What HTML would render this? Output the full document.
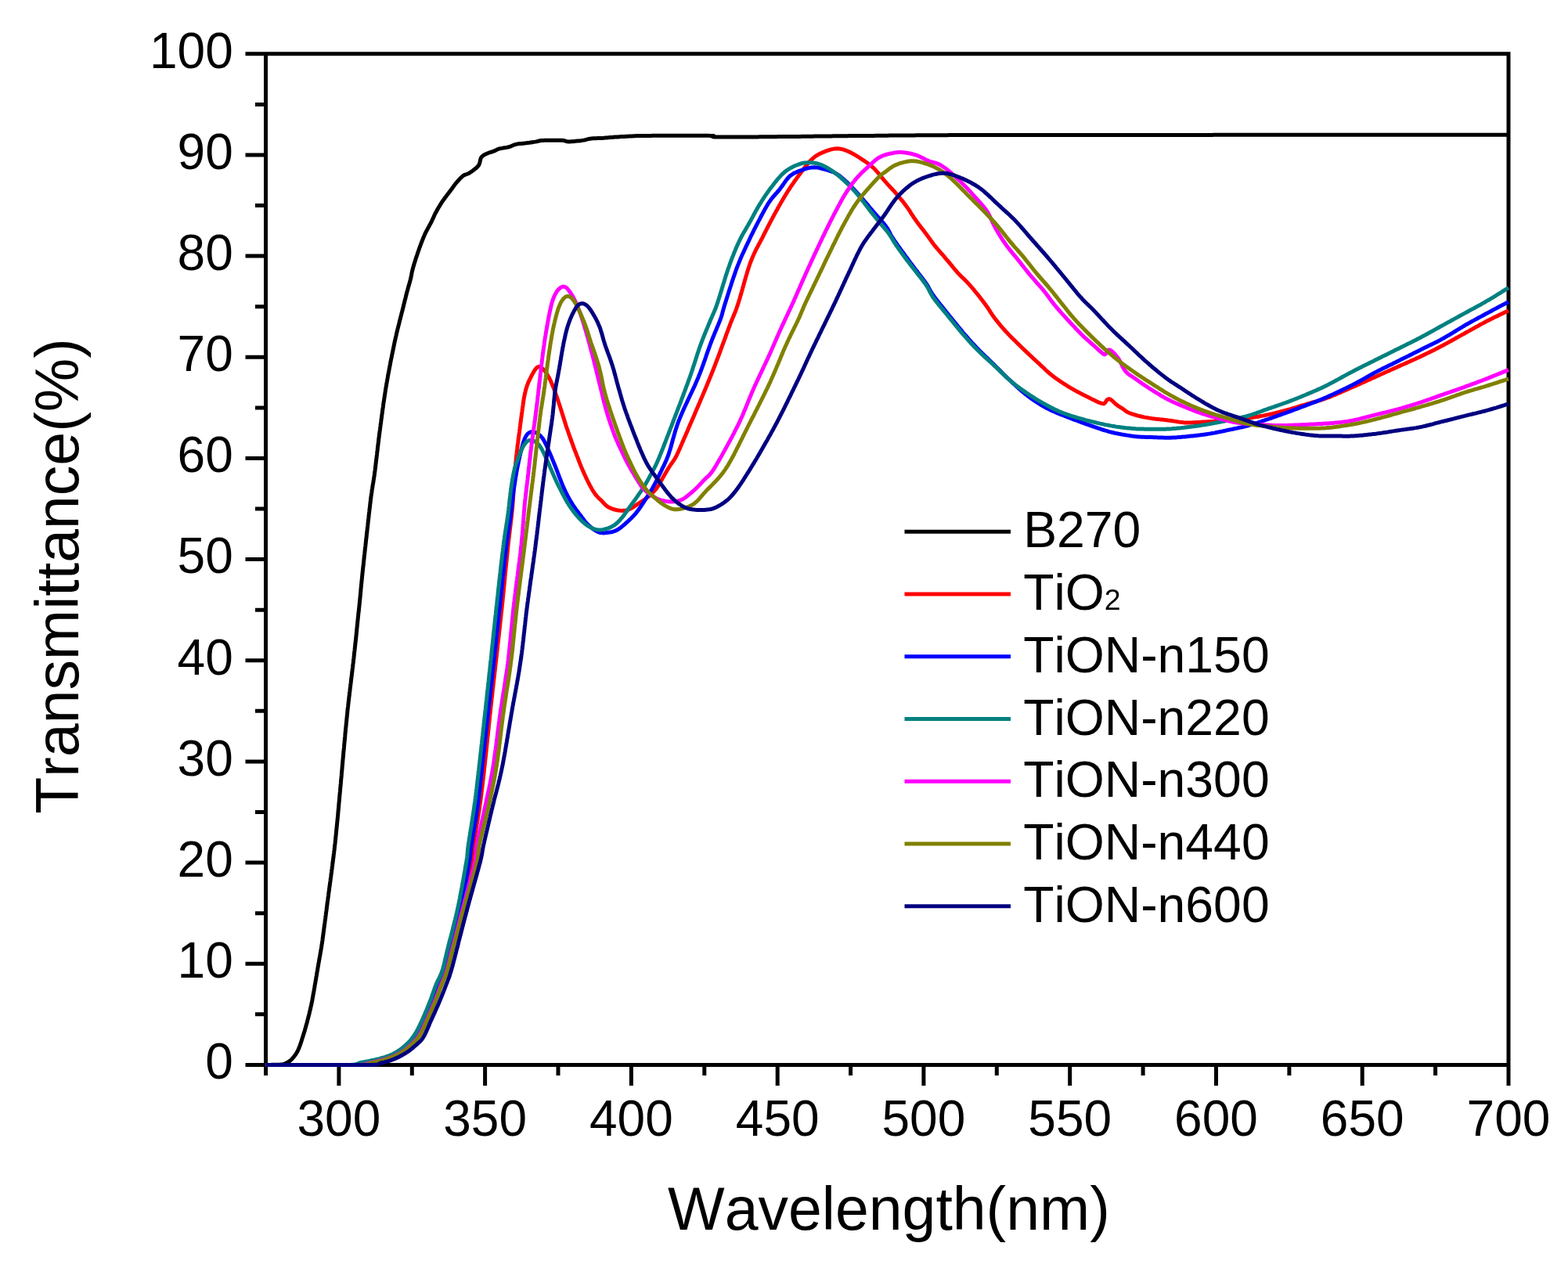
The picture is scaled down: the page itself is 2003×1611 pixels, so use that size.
<!DOCTYPE html><html><head><meta charset="utf-8"><style>html,body{margin:0;padding:0;background:#fff;}svg{display:block;}text{font-family:"Liberation Sans",Arial,sans-serif;fill:#000;font-kerning:none;}</style></head><body>
<svg width="2003" height="1611" viewBox="0 0 2003 1611">
<rect width="2003" height="1611" fill="#fff"/>
<path d="M339.5 66.3 V1373.9 M313.5 68.8 H1929.5 M1927.0 66.3 V1386.9 M313.5 1360.4 H1927.0 M313.5 1231.2 H339.5 M313.5 1102.1 H339.5 M313.5 972.9 H339.5 M313.5 843.8 H339.5 M313.5 714.6 H339.5 M313.5 585.4 H339.5 M313.5 456.3 H339.5 M313.5 327.1 H339.5 M313.5 198.0 H339.5 M326.0 1295.8 H339.5 M326.0 1166.7 H339.5 M326.0 1037.5 H339.5 M326.0 908.3 H339.5 M326.0 779.2 H339.5 M326.0 650.0 H339.5 M326.0 520.9 H339.5 M326.0 391.7 H339.5 M326.0 262.5 H339.5 M326.0 133.4 H339.5 M432.9 1360.4 V1386.9 M619.6 1360.4 V1386.9 M806.4 1360.4 V1386.9 M993.2 1360.4 V1386.9 M1179.9 1360.4 V1386.9 M1366.7 1360.4 V1386.9 M1553.5 1360.4 V1386.9 M1740.2 1360.4 V1386.9 M526.3 1360.4 V1373.9 M713.0 1360.4 V1373.9 M899.8 1360.4 V1373.9 M1086.6 1360.4 V1373.9 M1273.3 1360.4 V1373.9 M1460.1 1360.4 V1373.9 M1646.9 1360.4 V1373.9 M1833.6 1360.4 V1373.9" stroke="#000" stroke-width="5.0" fill="none"/>
<g fill="none" stroke-width="5.0" stroke-linejoin="round" stroke-linecap="butt">
<path d="M339.5 1360.4 L341.8 1360.4 L343.6 1360.4 L345.5 1360.4 L347.5 1360.3 L349.5 1360.3 L351.5 1360.3 L353.5 1360.3 L355.5 1360.2 L357.5 1360.1 L359.5 1359.9 L361.4 1359.6 L363.3 1359.1 L365.2 1358.4 L366.9 1357.5 L368.7 1356.5 L370.3 1355.4 L371.8 1354.1 L373.2 1352.7 L374.5 1351.2 L375.8 1349.6 L377.0 1348.0 L378.1 1346.4 L379.2 1344.7 L380.1 1342.9 L381.0 1341.1 L381.8 1339.3 L382.5 1337.4 L383.2 1335.6 L383.9 1333.7 L384.5 1331.8 L385.1 1329.9 L385.7 1328.0 L386.3 1326.1 L386.9 1324.2 L387.5 1322.3 L388.1 1320.3 L388.7 1318.4 L389.3 1316.5 L389.8 1314.6 L390.4 1312.7 L390.9 1310.7 L391.4 1308.8 L392.0 1306.9 L392.5 1305.0 L393.0 1303.0 L393.5 1301.1 L394.0 1299.1 L394.5 1297.2 L395.0 1295.3 L395.4 1293.3 L395.9 1291.4 L396.4 1289.4 L396.8 1287.5 L397.2 1285.5 L397.7 1283.6 L398.1 1281.6 L398.5 1279.7 L398.9 1277.7 L399.2 1275.7 L399.6 1273.8 L399.9 1271.8 L400.3 1269.8 L400.6 1267.9 L401.0 1265.9 L401.3 1263.9 L401.7 1261.9 L402.0 1260.0 L402.3 1258.0 L402.7 1256.0 L403.0 1254.1 L403.4 1252.1 L403.7 1250.1 L404.0 1248.1 L404.4 1246.2 L404.7 1244.2 L405.0 1242.2 L405.4 1240.3 L405.7 1238.3 L406.0 1236.3 L406.4 1234.3 L406.7 1232.4 L407.0 1230.4 L407.4 1228.4 L407.7 1226.5 L408.1 1224.5 L408.4 1222.5 L408.8 1220.5 L409.1 1218.6 L409.5 1216.6 L409.8 1214.6 L410.1 1212.7 L410.5 1210.7 L410.8 1208.7 L411.1 1206.7 L411.4 1204.8 L411.7 1202.8 L412.0 1200.8 L412.2 1198.8 L412.5 1196.8 L412.8 1194.9 L413.0 1192.9 L413.3 1190.9 L413.6 1188.9 L413.8 1186.9 L414.1 1184.9 L414.3 1183.0 L414.6 1181.0 L414.9 1179.0 L415.1 1177.0 L415.4 1175.0 L415.7 1173.1 L415.9 1171.1 L416.2 1169.1 L416.4 1167.1 L416.7 1165.1 L417.0 1163.1 L417.2 1161.2 L417.5 1159.2 L417.7 1157.2 L418.0 1155.2 L418.2 1153.2 L418.5 1151.2 L418.8 1149.3 L419.0 1147.3 L419.3 1145.3 L419.6 1143.3 L419.8 1141.3 L420.1 1139.3 L420.4 1137.4 L420.6 1135.4 L420.9 1133.4 L421.2 1131.4 L421.4 1129.4 L421.7 1127.5 L422.0 1125.5 L422.2 1123.5 L422.5 1121.5 L422.8 1119.5 L423.0 1117.5 L423.3 1115.6 L423.6 1113.6 L423.8 1111.6 L424.1 1109.6 L424.3 1107.6 L424.6 1105.6 L424.8 1103.7 L425.1 1101.7 L425.3 1099.7 L425.6 1097.7 L425.9 1095.7 L426.1 1093.7 L426.3 1091.8 L426.6 1089.8 L426.8 1087.8 L427.1 1085.8 L427.3 1083.8 L427.5 1081.8 L427.7 1079.8 L428.0 1077.8 L428.2 1075.9 L428.4 1073.9 L428.6 1071.9 L428.8 1069.9 L429.0 1067.9 L429.2 1065.9 L429.4 1063.9 L429.6 1061.9 L429.8 1059.9 L430.0 1058.0 L430.2 1056.0 L430.4 1054.0 L430.6 1052.0 L430.8 1050.0 L431.0 1048.0 L431.2 1046.0 L431.4 1044.0 L431.6 1042.0 L431.8 1040.0 L431.9 1038.0 L432.1 1036.1 L432.3 1034.1 L432.5 1032.1 L432.7 1030.1 L432.8 1028.1 L433.0 1026.1 L433.2 1024.1 L433.4 1022.1 L433.6 1020.1 L433.7 1018.1 L433.9 1016.1 L434.1 1014.1 L434.3 1012.1 L434.5 1010.2 L434.6 1008.2 L434.8 1006.2 L435.0 1004.2 L435.2 1002.2 L435.4 1000.2 L435.5 998.2 L435.7 996.2 L435.9 994.2 L436.1 992.2 L436.3 990.2 L436.4 988.2 L436.6 986.3 L436.8 984.3 L437.0 982.3 L437.1 980.3 L437.3 978.3 L437.5 976.3 L437.7 974.3 L437.8 972.3 L438.0 970.3 L438.2 968.3 L438.4 966.3 L438.6 964.3 L438.7 962.3 L438.9 960.4 L439.1 958.4 L439.3 956.4 L439.5 954.4 L439.6 952.4 L439.8 950.4 L440.0 948.4 L440.2 946.4 L440.4 944.4 L440.6 942.4 L440.8 940.4 L440.9 938.4 L441.1 936.5 L441.3 934.5 L441.5 932.5 L441.7 930.5 L441.9 928.5 L442.1 926.5 L442.3 924.5 L442.5 922.5 L442.7 920.5 L442.9 918.5 L443.1 916.6 L443.3 914.6 L443.5 912.6 L443.7 910.6 L443.9 908.6 L444.1 906.6 L444.3 904.6 L444.6 902.6 L444.8 900.6 L445.0 898.7 L445.2 896.7 L445.5 894.7 L445.7 892.7 L445.9 890.7 L446.2 888.7 L446.4 886.7 L446.6 884.8 L446.9 882.8 L447.1 880.8 L447.3 878.8 L447.6 876.8 L447.8 874.8 L448.1 872.8 L448.3 870.9 L448.5 868.9 L448.8 866.9 L449.0 864.9 L449.3 862.9 L449.5 860.9 L449.8 858.9 L450.0 857.0 L450.2 855.0 L450.5 853.0 L450.7 851.0 L450.9 849.0 L451.2 847.0 L451.4 845.0 L451.6 843.1 L451.9 841.1 L452.1 839.1 L452.3 837.1 L452.5 835.1 L452.7 833.1 L453.0 831.1 L453.2 829.1 L453.4 827.1 L453.6 825.2 L453.8 823.2 L454.0 821.2 L454.3 819.2 L454.5 817.2 L454.7 815.2 L454.9 813.2 L455.1 811.2 L455.3 809.2 L455.5 807.3 L455.7 805.3 L455.9 803.3 L456.1 801.3 L456.3 799.3 L456.5 797.3 L456.7 795.3 L456.9 793.3 L457.1 791.3 L457.3 789.4 L457.5 787.4 L457.7 785.4 L457.9 783.4 L458.2 781.4 L458.4 779.4 L458.6 777.4 L458.8 775.4 L459.0 773.4 L459.2 771.4 L459.4 769.5 L459.6 767.5 L459.8 765.5 L460.0 763.5 L460.2 761.5 L460.4 759.5 L460.6 757.5 L460.8 755.5 L460.9 753.5 L461.1 751.5 L461.3 749.6 L461.5 747.6 L461.7 745.6 L461.9 743.6 L462.1 741.6 L462.3 739.6 L462.5 737.6 L462.7 735.6 L462.9 733.6 L463.1 731.6 L463.3 729.7 L463.5 727.7 L463.7 725.7 L464.0 723.7 L464.2 721.7 L464.4 719.7 L464.6 717.7 L464.8 715.7 L465.0 713.7 L465.2 711.8 L465.4 709.8 L465.7 707.8 L465.9 705.8 L466.1 703.8 L466.3 701.8 L466.5 699.8 L466.8 697.8 L467.0 695.9 L467.2 693.9 L467.4 691.9 L467.6 689.9 L467.9 687.9 L468.1 685.9 L468.3 683.9 L468.5 681.9 L468.8 680.0 L469.0 678.0 L469.2 676.0 L469.4 674.0 L469.7 672.0 L469.9 670.0 L470.1 668.0 L470.3 666.0 L470.5 664.0 L470.8 662.1 L471.0 660.1 L471.2 658.1 L471.4 656.1 L471.7 654.1 L471.9 652.1 L472.1 650.1 L472.4 648.2 L472.6 646.2 L472.8 644.2 L473.1 642.2 L473.3 640.2 L473.5 638.2 L473.8 636.2 L474.0 634.3 L474.3 632.3 L474.6 630.3 L474.9 628.3 L475.1 626.3 L475.5 624.4 L475.8 622.4 L476.1 620.4 L476.4 618.4 L476.8 616.5 L477.1 614.5 L477.4 612.5 L477.7 610.5 L478.0 608.6 L478.3 606.6 L478.5 604.6 L478.8 602.6 L479.1 600.6 L479.3 598.6 L479.6 596.7 L479.8 594.7 L480.0 592.7 L480.3 590.7 L480.5 588.7 L480.8 586.7 L481.0 584.7 L481.2 582.8 L481.5 580.8 L481.7 578.8 L481.9 576.8 L482.2 574.8 L482.4 572.8 L482.6 570.8 L482.9 568.9 L483.1 566.9 L483.4 564.9 L483.6 562.9 L483.8 560.9 L484.1 558.9 L484.3 556.9 L484.6 555.0 L484.8 553.0 L485.1 551.0 L485.4 549.0 L485.6 547.0 L485.9 545.0 L486.1 543.1 L486.4 541.1 L486.7 539.1 L486.9 537.1 L487.2 535.1 L487.5 533.2 L487.7 531.2 L488.0 529.2 L488.3 527.2 L488.5 525.2 L488.8 523.2 L489.1 521.3 L489.4 519.3 L489.6 517.3 L489.9 515.3 L490.2 513.3 L490.5 511.4 L490.8 509.4 L491.1 507.4 L491.4 505.4 L491.7 503.5 L492.0 501.5 L492.3 499.5 L492.6 497.5 L492.9 495.6 L493.3 493.6 L493.6 491.6 L493.9 489.6 L494.3 487.7 L494.6 485.7 L495.0 483.7 L495.3 481.8 L495.7 479.8 L496.0 477.8 L496.4 475.9 L496.8 473.9 L497.1 471.9 L497.5 470.0 L497.9 468.0 L498.3 466.0 L498.6 464.1 L499.0 462.1 L499.4 460.1 L499.8 458.2 L500.2 456.2 L500.6 454.3 L501.0 452.3 L501.4 450.3 L501.8 448.4 L502.2 446.4 L502.6 444.5 L503.0 442.5 L503.4 440.5 L503.8 438.6 L504.2 436.6 L504.7 434.7 L505.1 432.7 L505.5 430.8 L506.0 428.8 L506.4 426.9 L506.9 424.9 L507.3 423.0 L507.8 421.0 L508.3 419.1 L508.8 417.2 L509.3 415.2 L509.8 413.3 L510.2 411.3 L510.7 409.4 L511.2 407.5 L511.7 405.5 L512.2 403.6 L512.7 401.7 L513.2 399.7 L513.7 397.8 L514.2 395.8 L514.7 393.9 L515.2 391.9 L515.6 390.0 L516.1 388.1 L516.6 386.1 L517.1 384.2 L517.6 382.2 L518.1 380.3 L518.5 378.4 L519.0 376.4 L519.5 374.5 L520.0 372.6 L520.6 370.6 L521.1 368.7 L521.6 366.8 L522.2 364.8 L522.7 362.9 L523.3 361.0 L523.8 359.1 L524.3 357.1 L524.8 355.2 L525.2 353.2 L525.6 351.3 L525.9 349.3 L526.3 347.4 L526.8 345.4 L527.3 343.5 L527.8 341.5 L528.4 339.6 L528.9 337.7 L529.5 335.8 L530.1 333.9 L530.7 332.0 L531.3 330.1 L531.9 328.2 L532.6 326.3 L533.2 324.4 L533.8 322.5 L534.5 320.6 L535.2 318.7 L535.8 316.8 L536.5 314.9 L537.2 313.1 L537.9 311.2 L538.6 309.3 L539.3 307.5 L540.1 305.6 L540.8 303.7 L541.6 301.9 L542.4 300.1 L543.2 298.2 L544.1 296.5 L545.0 294.7 L546.0 292.9 L546.9 291.1 L547.9 289.4 L548.8 287.6 L549.8 285.9 L550.7 284.1 L551.6 282.3 L552.4 280.5 L553.3 278.7 L554.1 276.9 L554.9 275.0 L555.8 273.2 L556.7 271.5 L557.7 269.7 L558.6 268.0 L559.6 266.2 L560.6 264.5 L561.7 262.8 L562.7 261.1 L563.8 259.4 L564.9 257.7 L566.0 256.1 L567.2 254.5 L568.4 252.8 L569.6 251.2 L570.8 249.6 L572.0 248.0 L573.2 246.4 L574.4 244.9 L575.6 243.3 L576.8 241.7 L578.0 240.0 L579.1 238.4 L580.3 236.8 L581.5 235.2 L582.8 233.7 L584.1 232.2 L585.4 230.7 L586.8 229.2 L588.1 227.7 L589.6 226.3 L591.0 225.0 L592.6 223.9 L594.4 223.1 L596.2 222.5 L598.0 221.8 L599.8 220.9 L601.4 219.8 L603.0 218.7 L604.6 217.5 L606.2 216.2 L607.8 215.0 L609.3 213.7 L610.6 212.3 L611.8 210.7 L612.5 208.9 L613.0 207.1 L613.4 205.1 L613.9 203.2 L614.6 201.4 L615.8 199.9 L617.3 198.7 L618.9 197.7 L620.7 196.8 L622.5 196.0 L624.4 195.2 L626.3 194.6 L628.2 194.0 L630.1 193.4 L631.9 192.7 L633.7 191.8 L635.4 190.9 L637.3 190.2 L639.2 189.7 L641.1 189.4 L643.1 189.0 L645.1 188.7 L647.1 188.4 L649.0 188.0 L650.9 187.5 L652.8 186.8 L654.6 186.0 L656.4 185.2 L658.3 184.6 L660.2 184.1 L662.2 183.8 L664.2 183.6 L666.2 183.4 L668.2 183.2 L670.2 183.0 L672.1 182.8 L674.1 182.5 L676.1 182.3 L678.1 182.0 L680.1 181.7 L682.0 181.4 L684.0 181.1 L686.0 180.7 L687.9 180.2 L689.7 179.8 L691.7 179.5 L693.6 179.4 L695.6 179.3 L697.6 179.3 L699.6 179.3 L701.6 179.2 L703.6 179.2 L705.6 179.2 L707.6 179.2 L709.6 179.2 L711.6 179.2 L713.6 179.2 L715.6 179.3 L717.6 179.3 L719.5 179.5 L721.3 179.8 L722.8 180.4 L724.3 180.8 L726.1 181.0 L728.0 181.0 L730.0 180.8 L731.9 180.7 L733.9 180.5 L735.9 180.3 L737.9 180.1 L739.9 179.9 L741.9 179.7 L743.9 179.4 L745.8 179.1 L747.8 178.7 L749.7 178.2 L751.6 177.7 L753.6 177.2 L755.6 177.0 L757.5 176.8 L759.5 176.7 L761.5 176.7 L763.5 176.6 L765.5 176.6 L767.5 176.5 L769.5 176.4 L771.5 176.3 L773.5 176.1 L775.5 176.0 L777.5 175.8 L779.5 175.6 L781.5 175.5 L783.5 175.3 L785.5 175.1 L787.5 175.0 L789.5 174.9 L791.5 174.7 L793.5 174.6 L795.5 174.5 L797.5 174.4 L799.5 174.3 L801.5 174.2 L803.5 174.1 L805.4 174.0 L807.4 173.9 L809.4 173.8 L811.4 173.7 L813.4 173.6 L815.4 173.6 L817.4 173.5 L819.4 173.5 L821.4 173.5 L823.4 173.4 L825.4 173.4 L827.4 173.4 L829.4 173.4 L831.4 173.4 L833.4 173.3 L835.4 173.3 L837.4 173.3 L839.4 173.3 L841.4 173.3 L843.4 173.3 L845.4 173.3 L847.4 173.3 L849.4 173.3 L851.4 173.3 L853.4 173.3 L855.4 173.2 L857.4 173.2 L859.4 173.2 L861.4 173.2 L863.4 173.2 L865.4 173.2 L867.4 173.2 L869.4 173.2 L871.4 173.2 L873.4 173.2 L875.4 173.2 L877.4 173.2 L879.4 173.2 L881.4 173.2 L883.4 173.2 L885.4 173.2 L887.4 173.2 L889.4 173.2 L891.4 173.3 L893.4 173.3 L895.4 173.3 L897.4 173.3 L899.4 173.3 L901.4 173.3 L903.4 173.3 L905.4 173.3 L907.4 173.4 L909.4 173.4 L911.0 173.5 L912.0 173.7 L911.8 174.0 L910.9 174.3 L910.4 174.6 L910.9 174.8 L912.3 174.9 L914.2 175.0 L916.2 175.0 L918.2 175.0 L920.2 175.0 L922.2 175.1 L924.2 175.1 L926.2 175.1 L928.2 175.1 L930.2 175.1 L932.2 175.0 L934.2 175.0 L936.2 175.0 L938.2 175.0 L940.2 175.0 L942.2 175.0 L944.2 175.0 L946.2 175.0 L948.2 175.0 L950.2 175.0 L952.2 175.0 L954.2 174.9 L956.2 174.9 L958.2 174.9 L960.2 174.9 L962.2 174.9 L964.2 174.9 L966.2 174.9 L968.2 174.9 L970.2 174.8 L972.2 174.8 L974.2 174.8 L976.2 174.8 L978.2 174.8 L980.2 174.8 L982.2 174.7 L984.2 174.7 L986.2 174.7 L988.2 174.7 L990.2 174.7 L992.2 174.7 L994.2 174.6 L996.2 174.6 L998.2 174.6 L1000.2 174.6 L1002.2 174.6 L1004.2 174.6 L1006.2 174.5 L1008.2 174.5 L1010.2 174.5 L1012.2 174.5 L1014.2 174.5 L1016.2 174.4 L1018.2 174.4 L1020.2 174.4 L1022.2 174.4 L1024.2 174.3 L1026.2 174.3 L1028.2 174.3 L1030.2 174.3 L1032.2 174.2 L1034.2 174.2 L1036.2 174.2 L1038.2 174.2 L1040.2 174.1 L1042.2 174.1 L1044.2 174.1 L1046.2 174.1 L1048.2 174.0 L1050.2 174.0 L1052.2 174.0 L1054.2 174.0 L1056.2 173.9 L1058.2 173.9 L1060.2 173.9 L1062.2 173.9 L1064.2 173.8 L1066.2 173.8 L1068.2 173.8 L1070.2 173.8 L1072.2 173.8 L1074.2 173.7 L1076.2 173.7 L1078.2 173.7 L1080.2 173.7 L1082.2 173.7 L1084.2 173.6 L1086.2 173.6 L1088.2 173.6 L1090.2 173.6 L1092.2 173.6 L1094.2 173.5 L1096.2 173.5 L1098.2 173.5 L1100.2 173.5 L1102.2 173.5 L1104.2 173.5 L1106.2 173.5 L1108.2 173.4 L1110.2 173.4 L1112.2 173.4 L1114.2 173.4 L1116.2 173.4 L1118.2 173.3 L1120.2 173.3 L1122.2 173.3 L1124.2 173.3 L1126.2 173.2 L1128.2 173.2 L1130.2 173.2 L1132.2 173.2 L1134.2 173.2 L1136.2 173.1 L1138.2 173.1 L1140.2 173.1 L1142.2 173.1 L1144.2 173.1 L1146.2 173.0 L1148.2 173.0 L1150.2 173.0 L1152.2 173.0 L1154.2 173.0 L1156.2 172.9 L1158.2 172.9 L1160.2 172.9 L1162.2 172.9 L1164.2 172.9 L1166.2 172.9 L1168.2 172.9 L1170.2 172.8 L1172.2 172.8 L1174.2 172.8 L1176.2 172.8 L1178.2 172.8 L1180.2 172.8 L1182.2 172.8 L1184.2 172.8 L1186.2 172.8 L1188.2 172.7 L1190.2 172.7 L1192.2 172.7 L1194.2 172.7 L1196.2 172.7 L1198.2 172.7 L1200.2 172.7 L1202.2 172.7 L1204.2 172.7 L1206.2 172.7 L1208.2 172.7 L1210.2 172.7 L1212.2 172.6 L1214.2 172.6 L1216.2 172.6 L1218.2 172.6 L1220.2 172.6 L1222.2 172.6 L1224.2 172.6 L1226.2 172.6 L1228.2 172.6 L1230.2 172.6 L1232.2 172.6 L1234.2 172.6 L1236.2 172.6 L1238.2 172.6 L1240.2 172.6 L1242.2 172.6 L1244.2 172.6 L1246.2 172.6 L1248.2 172.6 L1250.2 172.6 L1252.2 172.5 L1254.2 172.5 L1256.2 172.5 L1258.2 172.5 L1260.2 172.5 L1262.2 172.5 L1264.2 172.5 L1266.2 172.5 L1268.2 172.5 L1270.2 172.5 L1272.2 172.5 L1274.2 172.5 L1276.2 172.5 L1278.2 172.5 L1280.2 172.5 L1282.2 172.5 L1284.2 172.5 L1286.2 172.5 L1288.2 172.5 L1290.2 172.5 L1292.2 172.5 L1294.2 172.5 L1296.2 172.5 L1298.2 172.5 L1300.2 172.5 L1302.2 172.5 L1304.2 172.5 L1306.2 172.5 L1308.2 172.5 L1310.2 172.5 L1312.2 172.5 L1314.2 172.5 L1316.2 172.5 L1318.2 172.5 L1320.2 172.5 L1322.2 172.5 L1324.2 172.5 L1326.2 172.4 L1328.2 172.4 L1330.2 172.4 L1332.2 172.4 L1334.2 172.4 L1336.2 172.4 L1338.2 172.4 L1340.2 172.4 L1342.2 172.4 L1344.2 172.4 L1346.2 172.4 L1348.2 172.4 L1350.2 172.4 L1352.2 172.4 L1354.2 172.4 L1356.2 172.4 L1358.2 172.4 L1360.2 172.4 L1362.2 172.4 L1364.2 172.4 L1366.2 172.4 L1368.2 172.4 L1370.2 172.4 L1372.2 172.4 L1374.2 172.4 L1376.2 172.4 L1378.2 172.4 L1380.2 172.4 L1382.2 172.4 L1384.2 172.4 L1386.2 172.4 L1388.2 172.4 L1390.2 172.4 L1392.2 172.4 L1394.2 172.4 L1396.2 172.4 L1398.2 172.4 L1400.2 172.4 L1402.2 172.4 L1404.2 172.4 L1406.2 172.4 L1408.2 172.4 L1410.2 172.4 L1412.2 172.4 L1414.2 172.4 L1416.2 172.4 L1418.2 172.4 L1420.2 172.4 L1422.2 172.4 L1424.2 172.4 L1426.2 172.4 L1428.2 172.4 L1430.2 172.4 L1432.2 172.4 L1434.2 172.4 L1436.2 172.4 L1438.2 172.4 L1440.2 172.4 L1442.2 172.4 L1444.2 172.4 L1446.2 172.4 L1448.2 172.4 L1450.2 172.4 L1452.2 172.4 L1454.2 172.4 L1456.2 172.4 L1458.2 172.4 L1460.2 172.4 L1462.2 172.4 L1464.2 172.4 L1466.2 172.4 L1468.2 172.4 L1470.2 172.4 L1472.2 172.4 L1474.2 172.4 L1476.2 172.4 L1478.2 172.4 L1480.2 172.4 L1482.2 172.4 L1484.2 172.4 L1486.2 172.4 L1488.2 172.4 L1490.2 172.4 L1492.2 172.4 L1494.2 172.4 L1496.2 172.4 L1498.2 172.4 L1500.2 172.4 L1502.2 172.4 L1504.2 172.4 L1506.2 172.4 L1508.2 172.4 L1510.2 172.4 L1512.2 172.4 L1514.2 172.4 L1516.2 172.4 L1518.2 172.4 L1520.2 172.4 L1522.2 172.4 L1524.2 172.4 L1526.2 172.4 L1528.2 172.4 L1530.2 172.4 L1532.2 172.4 L1534.2 172.4 L1536.2 172.4 L1538.2 172.4 L1540.2 172.4 L1542.2 172.4 L1544.2 172.4 L1546.2 172.4 L1548.2 172.4 L1550.2 172.3 L1552.2 172.3 L1554.2 172.3 L1556.2 172.3 L1558.2 172.3 L1560.2 172.3 L1562.2 172.3 L1564.2 172.3 L1566.2 172.3 L1568.2 172.3 L1570.2 172.3 L1572.2 172.3 L1574.2 172.3 L1576.2 172.3 L1578.2 172.3 L1580.2 172.3 L1582.2 172.3 L1584.2 172.3 L1586.2 172.3 L1588.2 172.3 L1590.2 172.3 L1592.2 172.3 L1594.2 172.3 L1596.2 172.3 L1598.2 172.3 L1600.2 172.3 L1602.2 172.3 L1604.2 172.3 L1606.2 172.3 L1608.2 172.3 L1610.2 172.3 L1612.2 172.3 L1614.2 172.3 L1616.2 172.3 L1618.2 172.3 L1620.2 172.3 L1622.2 172.3 L1624.2 172.3 L1626.2 172.3 L1628.2 172.3 L1630.2 172.3 L1632.2 172.3 L1634.2 172.3 L1636.2 172.3 L1638.2 172.3 L1640.2 172.3 L1642.2 172.3 L1644.2 172.3 L1646.2 172.3 L1648.2 172.3 L1650.2 172.3 L1652.2 172.3 L1654.2 172.3 L1656.2 172.3 L1658.2 172.3 L1660.2 172.3 L1662.2 172.3 L1664.2 172.3 L1666.2 172.3 L1668.2 172.3 L1670.2 172.3 L1672.2 172.3 L1674.2 172.3 L1676.2 172.3 L1678.2 172.3 L1680.2 172.3 L1682.2 172.3 L1684.2 172.3 L1686.2 172.3 L1688.2 172.3 L1690.2 172.3 L1692.2 172.3 L1694.2 172.3 L1696.2 172.3 L1698.2 172.3 L1700.2 172.3 L1702.2 172.3 L1704.2 172.3 L1706.2 172.3 L1708.2 172.3 L1710.2 172.3 L1712.2 172.3 L1714.2 172.3 L1716.2 172.3 L1718.2 172.3 L1720.2 172.3 L1722.2 172.3 L1724.2 172.3 L1726.2 172.3 L1728.2 172.3 L1730.2 172.3 L1732.2 172.3 L1734.2 172.3 L1736.2 172.3 L1738.2 172.3 L1740.2 172.3 L1742.2 172.3 L1744.2 172.3 L1746.2 172.3 L1748.2 172.3 L1750.2 172.3 L1752.2 172.3 L1754.2 172.3 L1756.2 172.3 L1758.2 172.3 L1760.2 172.3 L1762.2 172.3 L1764.2 172.3 L1766.2 172.3 L1768.2 172.3 L1770.2 172.3 L1772.2 172.3 L1774.2 172.3 L1776.2 172.3 L1778.2 172.3 L1780.2 172.3 L1782.2 172.3 L1784.2 172.3 L1786.2 172.3 L1788.2 172.3 L1790.2 172.3 L1792.2 172.3 L1794.2 172.3 L1796.2 172.3 L1798.2 172.3 L1800.2 172.3 L1802.2 172.3 L1804.2 172.3 L1806.2 172.3 L1808.2 172.3 L1810.2 172.3 L1812.2 172.3 L1814.2 172.3 L1816.2 172.3 L1818.2 172.3 L1820.2 172.3 L1822.2 172.3 L1824.2 172.3 L1826.2 172.3 L1828.2 172.3 L1830.2 172.3 L1832.2 172.3 L1834.2 172.3 L1836.2 172.3 L1838.2 172.3 L1840.2 172.3 L1842.2 172.3 L1844.2 172.3 L1846.2 172.3 L1848.2 172.3 L1850.2 172.3 L1852.2 172.3 L1854.2 172.3 L1856.2 172.3 L1858.2 172.3 L1860.2 172.3 L1862.2 172.3 L1864.2 172.3 L1866.2 172.3 L1868.2 172.3 L1870.2 172.3 L1872.2 172.3 L1874.2 172.3 L1876.2 172.3 L1878.2 172.3 L1880.2 172.3 L1882.2 172.3 L1884.2 172.3 L1886.2 172.3 L1888.2 172.3 L1890.2 172.3 L1892.2 172.3 L1894.2 172.3 L1896.2 172.3 L1898.2 172.3 L1900.2 172.3 L1902.2 172.3 L1904.2 172.3 L1906.2 172.3 L1908.2 172.3 L1910.2 172.3 L1912.2 172.3 L1914.2 172.3 L1916.2 172.3 L1918.2 172.3 L1920.2 172.3 L1922.1 172.3 L1924.0 172.3 L1925.5 172.3 L1927.0 172.3" stroke="#000"/>
<path d="M339.5 1360.4 L341.8 1360.4 L343.6 1360.4 L345.5 1360.4 L347.5 1360.4 L349.5 1360.4 L351.5 1360.4 L353.5 1360.4 L355.5 1360.4 L357.5 1360.4 L359.5 1360.4 L361.5 1360.4 L363.5 1360.4 L365.5 1360.5 L367.5 1360.5 L369.5 1360.5 L371.5 1360.5 L373.5 1360.5 L375.5 1360.5 L377.5 1360.5 L379.5 1360.5 L381.5 1360.5 L383.5 1360.5 L385.5 1360.5 L387.5 1360.5 L389.5 1360.5 L391.5 1360.5 L393.5 1360.5 L395.5 1360.5 L397.5 1360.5 L399.5 1360.5 L401.5 1360.5 L403.5 1360.5 L405.5 1360.5 L407.5 1360.5 L409.5 1360.5 L411.5 1360.5 L413.5 1360.5 L415.5 1360.5 L417.5 1360.5 L419.5 1360.5 L421.5 1360.5 L423.5 1360.5 L425.5 1360.5 L427.5 1360.5 L429.5 1360.5 L431.5 1360.5 L433.5 1360.5 L435.5 1360.5 L437.5 1360.5 L439.5 1360.5 L441.5 1360.5 L443.5 1360.5 L445.5 1360.5 L447.5 1360.5 L449.5 1360.4 L451.5 1360.4 L453.5 1360.4 L455.5 1360.4 L457.5 1360.3 L459.5 1360.3 L461.5 1360.2 L463.4 1360.0 L465.2 1359.8 L466.6 1359.3 L468.1 1358.7 L469.7 1358.2 L471.6 1357.8 L473.5 1357.4 L475.5 1357.0 L477.4 1356.6 L479.4 1356.1 L481.3 1355.7 L483.3 1355.2 L485.2 1354.7 L487.2 1354.2 L489.1 1353.7 L491.0 1353.1 L492.9 1352.6 L494.8 1352.0 L496.7 1351.3 L498.6 1350.7 L500.5 1350.0 L502.3 1349.2 L504.2 1348.4 L506.0 1347.6 L507.8 1346.7 L509.5 1345.7 L511.3 1344.7 L513.0 1343.7 L514.6 1342.6 L516.3 1341.4 L517.9 1340.2 L519.5 1339.0 L521.0 1337.8 L522.5 1336.5 L524.0 1335.1 L525.5 1333.8 L526.9 1332.4 L528.3 1330.9 L529.6 1329.4 L530.9 1327.9 L532.2 1326.4 L533.3 1324.7 L534.5 1323.1 L535.5 1321.4 L536.5 1319.7 L537.5 1317.9 L538.4 1316.1 L539.2 1314.3 L540.1 1312.5 L540.9 1310.7 L541.8 1308.9 L542.6 1307.1 L543.4 1305.2 L544.3 1303.4 L545.1 1301.6 L545.9 1299.8 L546.7 1297.9 L547.5 1296.1 L548.3 1294.3 L549.1 1292.4 L549.9 1290.6 L550.7 1288.8 L551.5 1286.9 L552.3 1285.1 L553.0 1283.2 L553.8 1281.4 L554.5 1279.5 L555.3 1277.7 L556.0 1275.8 L556.7 1274.0 L557.5 1272.1 L558.2 1270.2 L558.8 1268.3 L559.5 1266.5 L560.2 1264.6 L560.9 1262.7 L561.6 1260.8 L562.4 1259.0 L563.1 1257.1 L563.9 1255.3 L564.6 1253.4 L565.5 1251.6 L566.3 1249.8 L567.0 1247.9 L567.8 1246.1 L568.5 1244.2 L569.2 1242.3 L569.8 1240.4 L570.4 1238.5 L571.0 1236.6 L571.5 1234.7 L572.0 1232.7 L572.5 1230.8 L572.9 1228.9 L573.4 1226.9 L573.9 1225.0 L574.3 1223.0 L574.8 1221.1 L575.2 1219.1 L575.7 1217.2 L576.2 1215.2 L576.7 1213.3 L577.2 1211.4 L577.7 1209.4 L578.2 1207.5 L578.7 1205.6 L579.2 1203.6 L579.7 1201.7 L580.2 1199.8 L580.7 1197.8 L581.2 1195.9 L581.8 1194.0 L582.3 1192.0 L582.8 1190.1 L583.3 1188.2 L583.8 1186.2 L584.3 1184.3 L584.8 1182.3 L585.3 1180.4 L585.8 1178.5 L586.3 1176.5 L586.8 1174.6 L587.3 1172.7 L587.8 1170.7 L588.2 1168.8 L588.7 1166.8 L589.2 1164.9 L589.6 1162.9 L590.1 1161.0 L590.5 1159.0 L591.0 1157.1 L591.4 1155.1 L591.8 1153.2 L592.2 1151.2 L592.7 1149.3 L593.1 1147.3 L593.5 1145.4 L593.9 1143.4 L594.3 1141.4 L594.7 1139.5 L595.1 1137.5 L595.5 1135.6 L595.9 1133.6 L596.3 1131.6 L596.7 1129.7 L597.1 1127.7 L597.5 1125.8 L597.9 1123.8 L598.3 1121.8 L598.6 1119.9 L599.0 1117.9 L599.4 1115.9 L599.8 1114.0 L600.2 1112.0 L600.5 1110.1 L600.9 1108.1 L601.3 1106.1 L601.6 1104.2 L602.0 1102.2 L602.4 1100.2 L602.7 1098.2 L603.0 1096.3 L603.3 1094.3 L603.5 1092.3 L603.7 1090.3 L603.8 1088.3 L604.0 1086.3 L604.2 1084.3 L604.4 1082.4 L604.7 1080.4 L605.0 1078.4 L605.3 1076.4 L605.6 1074.4 L605.9 1072.5 L606.2 1070.5 L606.5 1068.5 L606.9 1066.6 L607.2 1064.6 L607.5 1062.6 L607.9 1060.6 L608.2 1058.7 L608.5 1056.7 L608.9 1054.7 L609.2 1052.7 L609.5 1050.8 L609.9 1048.8 L610.2 1046.8 L610.5 1044.9 L610.8 1042.9 L611.1 1040.9 L611.5 1038.9 L611.8 1037.0 L612.1 1035.0 L612.4 1033.0 L612.6 1031.0 L612.9 1029.0 L613.2 1027.1 L613.5 1025.1 L613.8 1023.1 L614.0 1021.1 L614.3 1019.1 L614.5 1017.1 L614.8 1015.2 L615.0 1013.2 L615.3 1011.2 L615.5 1009.2 L615.8 1007.2 L616.0 1005.2 L616.3 1003.3 L616.5 1001.3 L616.7 999.3 L616.9 997.3 L617.2 995.3 L617.4 993.3 L617.6 991.3 L617.9 989.3 L618.1 987.4 L618.3 985.4 L618.5 983.4 L618.7 981.4 L619.0 979.4 L619.2 977.4 L619.4 975.4 L619.6 973.4 L619.8 971.5 L620.0 969.5 L620.3 967.5 L620.5 965.5 L620.7 963.5 L620.9 961.5 L621.1 959.5 L621.3 957.5 L621.5 955.5 L621.7 953.6 L621.9 951.6 L622.1 949.6 L622.3 947.6 L622.5 945.6 L622.7 943.6 L622.9 941.6 L623.2 939.6 L623.4 937.6 L623.6 935.6 L623.8 933.7 L624.0 931.7 L624.2 929.7 L624.4 927.7 L624.6 925.7 L624.8 923.7 L625.0 921.7 L625.2 919.7 L625.4 917.7 L625.6 915.8 L625.8 913.8 L626.1 911.8 L626.3 909.8 L626.5 907.8 L626.7 905.8 L626.9 903.8 L627.1 901.8 L627.4 899.8 L627.6 897.9 L627.8 895.9 L628.0 893.9 L628.2 891.9 L628.5 889.9 L628.7 887.9 L628.9 885.9 L629.1 883.9 L629.3 882.0 L629.6 880.0 L629.8 878.0 L630.0 876.0 L630.2 874.0 L630.5 872.0 L630.7 870.0 L630.9 868.0 L631.1 866.1 L631.4 864.1 L631.6 862.1 L631.8 860.1 L632.0 858.1 L632.3 856.1 L632.5 854.1 L632.7 852.1 L632.9 850.2 L633.1 848.2 L633.4 846.2 L633.6 844.2 L633.8 842.2 L634.0 840.2 L634.3 838.2 L634.5 836.2 L634.7 834.3 L634.9 832.3 L635.1 830.3 L635.4 828.3 L635.6 826.3 L635.8 824.3 L636.0 822.3 L636.3 820.3 L636.5 818.4 L636.7 816.4 L636.9 814.4 L637.2 812.4 L637.4 810.4 L637.6 808.4 L637.8 806.4 L638.0 804.4 L638.3 802.5 L638.5 800.5 L638.7 798.5 L638.9 796.5 L639.1 794.5 L639.4 792.5 L639.6 790.5 L639.8 788.5 L640.0 786.6 L640.2 784.6 L640.4 782.6 L640.7 780.6 L640.9 778.6 L641.1 776.6 L641.3 774.6 L641.5 772.6 L641.7 770.6 L641.9 768.7 L642.1 766.7 L642.3 764.7 L642.5 762.7 L642.7 760.7 L642.9 758.7 L643.1 756.7 L643.3 754.7 L643.5 752.7 L643.7 750.7 L643.9 748.8 L644.1 746.8 L644.3 744.8 L644.5 742.8 L644.7 740.8 L644.9 738.8 L645.0 736.8 L645.2 734.8 L645.4 732.8 L645.6 730.8 L645.8 728.8 L646.0 726.9 L646.2 724.9 L646.4 722.9 L646.6 720.9 L646.8 718.9 L647.0 716.9 L647.2 714.9 L647.4 712.9 L647.6 710.9 L647.8 708.9 L648.0 707.0 L648.2 705.0 L648.4 703.0 L648.6 701.0 L648.8 699.0 L649.0 697.0 L649.2 695.0 L649.5 693.0 L649.7 691.0 L649.9 689.1 L650.1 687.1 L650.4 685.1 L650.6 683.1 L650.9 681.1 L651.1 679.1 L651.3 677.1 L651.6 675.2 L651.8 673.2 L652.1 671.2 L652.3 669.2 L652.5 667.2 L652.8 665.2 L653.0 663.2 L653.2 661.3 L653.5 659.3 L653.7 657.3 L653.9 655.3 L654.1 653.3 L654.3 651.3 L654.5 649.3 L654.7 647.3 L654.8 645.3 L655.0 643.3 L655.1 641.3 L655.3 639.4 L655.4 637.4 L655.6 635.4 L655.7 633.4 L655.8 631.4 L655.9 629.4 L656.0 627.4 L656.2 625.4 L656.3 623.4 L656.4 621.4 L656.5 619.4 L656.7 617.4 L656.8 615.4 L657.0 613.4 L657.1 611.4 L657.3 609.4 L657.4 607.4 L657.6 605.4 L657.8 603.4 L657.9 601.4 L658.1 599.5 L658.2 597.5 L658.4 595.5 L658.6 593.5 L658.8 591.5 L658.9 589.5 L659.1 587.5 L659.3 585.5 L659.5 583.5 L659.7 581.5 L660.0 579.5 L660.2 577.6 L660.4 575.6 L660.7 573.6 L660.9 571.6 L661.1 569.6 L661.4 567.6 L661.7 565.6 L661.9 563.7 L662.2 561.7 L662.4 559.7 L662.7 557.7 L663.0 555.7 L663.2 553.7 L663.5 551.8 L663.7 549.8 L664.0 547.8 L664.2 545.8 L664.5 543.8 L664.7 541.8 L665.0 539.9 L665.3 537.9 L665.5 535.9 L665.8 533.9 L666.1 531.9 L666.3 529.9 L666.6 528.0 L666.9 526.0 L667.1 524.0 L667.4 522.0 L667.7 520.0 L668.0 518.1 L668.2 516.1 L668.5 514.1 L668.8 512.1 L669.1 510.1 L669.4 508.2 L669.8 506.2 L670.2 504.2 L670.6 502.3 L671.1 500.3 L671.5 498.4 L672.1 496.5 L672.7 494.6 L673.3 492.7 L674.0 490.8 L674.7 488.9 L675.5 487.1 L676.4 485.3 L677.3 483.5 L678.2 481.7 L679.1 479.9 L680.0 478.2 L681.0 476.4 L682.0 474.7 L683.0 473.0 L684.2 471.4 L685.5 469.9 L686.9 468.9 L688.6 468.4 L690.3 468.8 L691.9 469.7 L693.3 471.0 L694.7 472.5 L695.9 474.0 L697.1 475.6 L698.3 477.3 L699.3 478.9 L700.3 480.7 L701.3 482.4 L702.2 484.2 L703.1 486.0 L703.9 487.8 L704.7 489.7 L705.5 491.5 L706.2 493.3 L707.0 495.2 L707.7 497.1 L708.4 498.9 L709.1 500.8 L709.8 502.7 L710.4 504.6 L711.1 506.5 L711.7 508.4 L712.4 510.3 L713.0 512.2 L713.6 514.1 L714.3 516.0 L714.9 517.9 L715.5 519.8 L716.1 521.7 L716.7 523.6 L717.3 525.5 L717.9 527.4 L718.5 529.3 L719.1 531.2 L719.7 533.1 L720.3 535.0 L720.9 536.9 L721.5 538.9 L722.1 540.8 L722.7 542.7 L723.3 544.6 L724.0 546.5 L724.6 548.3 L725.3 550.2 L725.9 552.1 L726.6 554.0 L727.2 555.9 L727.9 557.8 L728.6 559.7 L729.3 561.6 L729.9 563.4 L730.6 565.3 L731.3 567.2 L732.0 569.1 L732.6 571.0 L733.3 572.8 L734.0 574.7 L734.8 576.6 L735.5 578.4 L736.2 580.3 L736.9 582.2 L737.7 584.0 L738.4 585.9 L739.1 587.8 L739.8 589.6 L740.5 591.5 L741.3 593.4 L742.0 595.2 L742.8 597.1 L743.6 598.9 L744.3 600.7 L745.2 602.6 L746.0 604.4 L746.8 606.2 L747.6 608.0 L748.5 609.9 L749.3 611.7 L750.2 613.5 L751.1 615.3 L752.0 617.0 L752.9 618.8 L753.8 620.6 L754.8 622.4 L755.7 624.1 L756.7 625.8 L757.8 627.5 L758.9 629.2 L760.0 630.8 L761.2 632.4 L762.5 633.9 L763.9 635.4 L765.3 636.8 L766.8 638.1 L768.2 639.5 L769.6 641.0 L771.0 642.5 L772.3 643.9 L773.7 645.3 L775.3 646.6 L776.9 647.7 L778.7 648.6 L780.5 649.4 L782.3 650.1 L784.2 650.8 L786.2 651.3 L788.1 651.7 L790.1 652.0 L792.1 652.3 L794.1 652.4 L796.1 652.3 L798.0 652.2 L800.0 651.9 L801.9 651.4 L803.8 650.7 L805.6 649.8 L807.3 648.9 L809.0 647.8 L810.7 646.7 L812.3 645.6 L814.0 644.4 L815.6 643.3 L817.3 642.2 L819.0 641.1 L820.6 640.0 L822.3 638.9 L823.9 637.7 L825.5 636.5 L827.1 635.3 L828.7 634.1 L830.2 632.8 L831.7 631.4 L833.2 630.1 L834.6 628.7 L835.9 627.2 L837.2 625.7 L838.5 624.1 L839.6 622.5 L840.7 620.8 L841.8 619.1 L842.8 617.4 L843.8 615.7 L844.7 613.9 L845.7 612.2 L846.7 610.4 L847.7 608.7 L848.7 606.9 L849.7 605.2 L850.7 603.5 L851.7 601.8 L852.7 600.1 L853.8 598.3 L854.8 596.7 L855.9 595.0 L857.0 593.3 L858.2 591.7 L859.3 590.1 L860.5 588.4 L861.6 586.8 L862.6 585.0 L863.6 583.3 L864.5 581.5 L865.3 579.7 L866.2 577.9 L867.0 576.1 L867.8 574.2 L868.6 572.4 L869.4 570.6 L870.2 568.8 L871.0 566.9 L871.8 565.1 L872.6 563.3 L873.4 561.4 L874.2 559.6 L875.0 557.7 L875.8 555.9 L876.6 554.1 L877.4 552.2 L878.2 550.4 L879.0 548.6 L879.7 546.7 L880.5 544.9 L881.3 543.0 L882.1 541.2 L882.9 539.4 L883.7 537.5 L884.5 535.7 L885.3 533.9 L886.1 532.0 L886.9 530.2 L887.7 528.3 L888.4 526.5 L889.2 524.7 L890.0 522.8 L890.8 521.0 L891.6 519.2 L892.4 517.3 L893.2 515.5 L894.0 513.6 L894.7 511.8 L895.5 510.0 L896.3 508.1 L897.1 506.3 L897.9 504.4 L898.6 502.6 L899.4 500.7 L900.2 498.9 L901.0 497.1 L901.7 495.2 L902.5 493.4 L903.3 491.5 L904.0 489.7 L904.8 487.8 L905.6 486.0 L906.3 484.1 L907.1 482.3 L907.8 480.4 L908.6 478.6 L909.3 476.7 L910.1 474.8 L910.8 473.0 L911.5 471.1 L912.3 469.3 L913.0 467.4 L913.7 465.5 L914.4 463.7 L915.1 461.8 L915.8 459.9 L916.6 458.1 L917.3 456.2 L918.0 454.3 L918.7 452.4 L919.4 450.6 L920.1 448.7 L920.7 446.8 L921.4 444.9 L922.1 443.1 L922.8 441.2 L923.5 439.3 L924.2 437.4 L924.9 435.6 L925.6 433.7 L926.3 431.8 L927.0 429.9 L927.6 428.0 L928.3 426.2 L929.0 424.3 L929.7 422.4 L930.4 420.5 L931.1 418.7 L931.8 416.8 L932.5 414.9 L933.2 413.0 L933.9 411.2 L934.7 409.3 L935.4 407.5 L936.2 405.6 L937.0 403.8 L937.7 401.9 L938.5 400.1 L939.3 398.2 L940.0 396.4 L940.7 394.5 L941.3 392.6 L942.0 390.7 L942.6 388.8 L943.2 386.9 L943.8 385.0 L944.4 383.1 L945.0 381.2 L945.5 379.3 L946.1 377.3 L946.6 375.4 L947.2 373.5 L947.7 371.6 L948.3 369.6 L948.8 367.7 L949.4 365.8 L949.9 363.9 L950.4 361.9 L951.0 360.0 L951.5 358.1 L952.1 356.2 L952.6 354.2 L953.2 352.3 L953.8 350.4 L954.3 348.5 L954.9 346.6 L955.5 344.7 L956.1 342.8 L956.7 340.9 L957.4 339.0 L958.0 337.1 L958.7 335.2 L959.4 333.3 L960.2 331.5 L960.9 329.6 L961.7 327.8 L962.5 325.9 L963.3 324.1 L964.2 322.3 L965.0 320.5 L965.9 318.7 L966.8 316.9 L967.8 315.2 L968.7 313.4 L969.6 311.6 L970.6 309.9 L971.5 308.1 L972.5 306.3 L973.4 304.6 L974.3 302.8 L975.2 301.0 L976.1 299.2 L977.0 297.4 L977.9 295.6 L978.8 293.9 L979.7 292.1 L980.6 290.3 L981.6 288.5 L982.5 286.7 L983.4 285.0 L984.3 283.2 L985.3 281.4 L986.2 279.7 L987.1 277.9 L988.1 276.1 L989.0 274.4 L990.0 272.6 L990.9 270.9 L991.9 269.1 L992.9 267.4 L993.8 265.6 L994.8 263.9 L995.8 262.1 L996.8 260.4 L997.8 258.6 L998.8 256.9 L999.8 255.2 L1000.8 253.5 L1001.8 251.8 L1002.9 250.0 L1003.9 248.3 L1005.0 246.6 L1006.0 244.9 L1007.1 243.3 L1008.2 241.6 L1009.3 239.9 L1010.4 238.2 L1011.5 236.6 L1012.7 234.9 L1013.8 233.3 L1014.9 231.6 L1016.1 230.0 L1017.3 228.4 L1018.4 226.8 L1019.6 225.2 L1020.8 223.6 L1022.0 222.0 L1023.2 220.3 L1024.4 218.7 L1025.6 217.1 L1026.8 215.5 L1028.0 214.0 L1029.2 212.4 L1030.5 210.8 L1031.7 209.3 L1033.0 207.7 L1034.4 206.2 L1035.8 204.8 L1037.2 203.4 L1038.7 202.1 L1040.2 200.8 L1041.8 199.6 L1043.5 198.5 L1045.2 197.5 L1047.0 196.6 L1048.8 195.7 L1050.6 194.9 L1052.5 194.1 L1054.3 193.4 L1056.2 192.7 L1058.1 192.0 L1060.0 191.4 L1061.9 190.9 L1063.8 190.4 L1065.8 190.1 L1067.8 189.9 L1069.8 189.8 L1071.8 189.9 L1073.7 190.2 L1075.7 190.6 L1077.6 191.2 L1079.5 191.8 L1081.3 192.5 L1083.2 193.3 L1085.0 194.1 L1086.8 195.0 L1088.6 195.9 L1090.4 196.8 L1092.1 197.8 L1093.8 198.9 L1095.5 199.9 L1097.2 201.0 L1098.9 202.1 L1100.5 203.2 L1102.2 204.3 L1103.9 205.4 L1105.5 206.5 L1107.2 207.7 L1108.8 208.8 L1110.4 210.0 L1111.9 211.3 L1113.5 212.6 L1115.0 213.9 L1116.5 215.2 L1117.9 216.6 L1119.2 218.1 L1120.6 219.6 L1121.9 221.1 L1123.1 222.7 L1124.4 224.2 L1125.6 225.8 L1126.9 227.3 L1128.2 228.9 L1129.4 230.4 L1130.8 231.9 L1132.1 233.4 L1133.4 234.9 L1134.8 236.4 L1136.1 237.8 L1137.5 239.3 L1138.9 240.8 L1140.2 242.2 L1141.6 243.7 L1142.9 245.2 L1144.2 246.7 L1145.5 248.2 L1146.8 249.7 L1148.1 251.3 L1149.4 252.8 L1150.7 254.3 L1152.0 255.8 L1153.3 257.4 L1154.5 259.0 L1155.7 260.5 L1156.9 262.2 L1158.1 263.8 L1159.2 265.4 L1160.4 267.1 L1161.5 268.7 L1162.6 270.4 L1163.6 272.1 L1164.7 273.8 L1165.8 275.4 L1166.9 277.1 L1168.0 278.8 L1169.2 280.4 L1170.3 282.1 L1171.5 283.7 L1172.7 285.3 L1173.9 286.9 L1175.1 288.5 L1176.3 290.1 L1177.5 291.6 L1178.8 293.2 L1180.0 294.8 L1181.2 296.4 L1182.4 298.0 L1183.6 299.6 L1184.8 301.2 L1186.0 302.8 L1187.1 304.4 L1188.3 306.1 L1189.5 307.7 L1190.6 309.3 L1191.8 310.9 L1193.0 312.5 L1194.3 314.1 L1195.5 315.6 L1196.8 317.2 L1198.1 318.7 L1199.4 320.2 L1200.7 321.7 L1202.0 323.2 L1203.4 324.7 L1204.7 326.2 L1206.0 327.7 L1207.3 329.3 L1208.6 330.8 L1209.9 332.3 L1211.2 333.8 L1212.5 335.4 L1213.7 336.9 L1215.0 338.5 L1216.3 340.0 L1217.5 341.6 L1218.8 343.1 L1220.1 344.6 L1221.4 346.2 L1222.7 347.7 L1224.0 349.1 L1225.4 350.6 L1226.8 352.0 L1228.2 353.4 L1229.7 354.8 L1231.1 356.2 L1232.6 357.6 L1234.0 359.0 L1235.4 360.4 L1236.7 361.9 L1238.1 363.4 L1239.4 364.9 L1240.7 366.4 L1242.0 367.9 L1243.3 369.4 L1244.6 371.0 L1245.8 372.5 L1247.1 374.1 L1248.4 375.6 L1249.6 377.2 L1250.9 378.7 L1252.1 380.3 L1253.3 381.9 L1254.6 383.5 L1255.8 385.1 L1257.0 386.7 L1258.2 388.3 L1259.4 389.9 L1260.5 391.5 L1261.7 393.1 L1262.8 394.8 L1263.9 396.5 L1264.9 398.2 L1266.0 399.9 L1267.1 401.5 L1268.2 403.2 L1269.4 404.8 L1270.6 406.4 L1271.8 408.0 L1273.1 409.6 L1274.3 411.1 L1275.5 412.7 L1276.8 414.2 L1278.1 415.8 L1279.4 417.3 L1280.7 418.8 L1282.0 420.3 L1283.4 421.8 L1284.7 423.3 L1286.1 424.7 L1287.4 426.2 L1288.8 427.6 L1290.2 429.1 L1291.6 430.5 L1293.0 431.9 L1294.4 433.3 L1295.9 434.7 L1297.3 436.1 L1298.7 437.5 L1300.1 438.9 L1301.6 440.3 L1303.0 441.7 L1304.4 443.1 L1305.9 444.5 L1307.3 445.9 L1308.8 447.3 L1310.2 448.7 L1311.7 450.1 L1313.1 451.4 L1314.6 452.8 L1316.0 454.2 L1317.5 455.5 L1319.0 456.9 L1320.4 458.3 L1321.9 459.6 L1323.4 461.0 L1324.8 462.3 L1326.3 463.7 L1327.8 465.0 L1329.2 466.4 L1330.7 467.8 L1332.2 469.1 L1333.6 470.5 L1335.1 471.9 L1336.5 473.3 L1338.0 474.6 L1339.5 476.0 L1341.0 477.3 L1342.5 478.5 L1344.1 479.8 L1345.7 481.0 L1347.3 482.2 L1348.9 483.4 L1350.5 484.5 L1352.2 485.6 L1353.8 486.8 L1355.5 487.9 L1357.2 489.0 L1358.8 490.1 L1360.5 491.2 L1362.2 492.2 L1363.9 493.3 L1365.6 494.3 L1367.3 495.4 L1369.0 496.4 L1370.8 497.4 L1372.5 498.4 L1374.3 499.3 L1376.0 500.3 L1377.8 501.2 L1379.6 502.1 L1381.3 503.1 L1383.1 504.0 L1384.9 504.9 L1386.7 505.8 L1388.5 506.7 L1390.3 507.6 L1392.1 508.5 L1393.8 509.4 L1395.6 510.3 L1397.4 511.1 L1399.2 512.0 L1401.0 512.9 L1402.8 513.7 L1404.7 514.5 L1406.5 515.2 L1408.3 515.7 L1409.9 515.7 L1411.2 515.0 L1412.3 513.6 L1413.3 512.0 L1414.4 510.6 L1415.8 509.8 L1417.4 509.8 L1419.0 510.6 L1420.6 511.7 L1422.0 513.1 L1423.5 514.5 L1424.9 515.8 L1426.4 517.1 L1428.0 518.3 L1429.7 519.4 L1431.4 520.5 L1433.1 521.5 L1434.8 522.6 L1436.3 523.8 L1437.9 525.0 L1439.6 526.1 L1441.3 527.0 L1443.2 527.8 L1445.0 528.5 L1446.9 529.1 L1448.8 529.7 L1450.8 530.2 L1452.7 530.8 L1454.6 531.3 L1456.6 531.8 L1458.5 532.2 L1460.5 532.7 L1462.4 533.1 L1464.4 533.4 L1466.4 533.8 L1468.3 534.1 L1470.3 534.4 L1472.3 534.7 L1474.3 534.9 L1476.3 535.2 L1478.3 535.4 L1480.2 535.6 L1482.2 535.9 L1484.2 536.1 L1486.2 536.3 L1488.2 536.5 L1490.2 536.7 L1492.2 537.0 L1494.1 537.2 L1496.1 537.5 L1498.1 537.8 L1500.1 538.1 L1502.1 538.4 L1504.0 538.8 L1506.0 539.1 L1508.0 539.4 L1510.0 539.6 L1511.9 539.8 L1513.9 539.9 L1515.9 540.0 L1517.9 540.0 L1519.9 540.0 L1521.9 539.9 L1523.9 539.8 L1525.9 539.7 L1527.9 539.6 L1529.9 539.5 L1531.9 539.4 L1533.9 539.3 L1535.9 539.1 L1537.9 539.0 L1539.9 538.9 L1541.9 538.8 L1543.9 538.7 L1545.9 538.6 L1547.9 538.5 L1549.9 538.4 L1551.9 538.3 L1553.9 538.2 L1555.9 538.1 L1557.9 538.0 L1559.9 537.9 L1561.9 537.8 L1563.9 537.7 L1565.9 537.6 L1567.9 537.4 L1569.9 537.3 L1571.9 537.1 L1573.8 536.9 L1575.8 536.7 L1577.8 536.5 L1579.8 536.2 L1581.8 536.0 L1583.8 535.7 L1585.8 535.5 L1587.7 535.2 L1589.7 534.9 L1591.7 534.7 L1593.7 534.4 L1595.7 534.1 L1597.6 533.8 L1599.6 533.5 L1601.6 533.1 L1603.6 532.8 L1605.5 532.5 L1607.5 532.2 L1609.5 531.8 L1611.4 531.4 L1613.4 531.1 L1615.4 530.7 L1617.3 530.3 L1619.3 529.9 L1621.2 529.5 L1623.2 529.0 L1625.1 528.6 L1627.1 528.1 L1629.0 527.7 L1631.0 527.2 L1632.9 526.7 L1634.9 526.2 L1636.8 525.7 L1638.7 525.2 L1640.7 524.7 L1642.6 524.2 L1644.5 523.6 L1646.4 523.1 L1648.4 522.6 L1650.3 522.0 L1652.2 521.4 L1654.1 520.9 L1656.0 520.3 L1658.0 519.7 L1659.9 519.1 L1661.8 518.5 L1663.7 517.9 L1665.6 517.3 L1667.5 516.8 L1669.4 516.2 L1671.3 515.6 L1673.3 515.1 L1675.2 514.5 L1677.1 514.0 L1679.1 513.5 L1681.0 513.0 L1682.9 512.4 L1684.8 511.9 L1686.7 511.3 L1688.6 510.7 L1690.5 510.0 L1692.4 509.4 L1694.3 508.7 L1696.2 508.0 L1698.1 507.3 L1699.9 506.6 L1701.8 505.8 L1703.6 505.0 L1705.5 504.3 L1707.3 503.5 L1709.1 502.7 L1711.0 501.9 L1712.8 501.1 L1714.7 500.3 L1716.5 499.5 L1718.3 498.7 L1720.1 497.9 L1722.0 497.1 L1723.8 496.3 L1725.6 495.5 L1727.5 494.7 L1729.3 493.9 L1731.1 493.1 L1733.0 492.3 L1734.8 491.5 L1736.6 490.7 L1738.4 489.8 L1740.3 489.0 L1742.1 488.2 L1743.9 487.4 L1745.7 486.5 L1747.6 485.7 L1749.4 484.9 L1751.2 484.1 L1753.0 483.2 L1754.8 482.4 L1756.7 481.6 L1758.5 480.8 L1760.3 480.0 L1762.1 479.1 L1764.0 478.3 L1765.8 477.5 L1767.6 476.7 L1769.4 475.8 L1771.3 475.0 L1773.1 474.2 L1774.9 473.4 L1776.7 472.5 L1778.5 471.7 L1780.4 470.9 L1782.2 470.1 L1784.0 469.3 L1785.8 468.4 L1787.7 467.6 L1789.5 466.8 L1791.3 466.0 L1793.1 465.2 L1795.0 464.4 L1796.8 463.6 L1798.6 462.8 L1800.5 462.0 L1802.3 461.1 L1804.1 460.3 L1805.9 459.5 L1807.8 458.7 L1809.6 457.8 L1811.4 457.0 L1813.2 456.2 L1815.0 455.3 L1816.8 454.4 L1818.6 453.6 L1820.4 452.7 L1822.2 451.8 L1824.0 451.0 L1825.8 450.1 L1827.6 449.2 L1829.4 448.3 L1831.2 447.4 L1833.0 446.5 L1834.7 445.6 L1836.5 444.7 L1838.3 443.7 L1840.1 442.8 L1841.8 441.9 L1843.6 441.0 L1845.4 440.0 L1847.1 439.1 L1848.9 438.1 L1850.7 437.2 L1852.4 436.2 L1854.2 435.2 L1855.9 434.3 L1857.7 433.3 L1859.4 432.3 L1861.2 431.3 L1862.9 430.4 L1864.6 429.4 L1866.4 428.4 L1868.1 427.4 L1869.9 426.5 L1871.6 425.5 L1873.4 424.5 L1875.1 423.6 L1876.9 422.6 L1878.6 421.6 L1880.4 420.7 L1882.1 419.7 L1883.9 418.7 L1885.6 417.7 L1887.4 416.8 L1889.1 415.8 L1890.9 414.8 L1892.6 413.9 L1894.4 412.9 L1896.2 412.0 L1897.9 411.0 L1899.7 410.1 L1901.5 409.2 L1903.3 408.3 L1905.0 407.4 L1906.8 406.5 L1908.6 405.6 L1910.4 404.7 L1912.2 403.9 L1914.0 403.0 L1915.8 402.1 L1917.6 401.3 L1919.4 400.4 L1921.2 399.6 L1923.0 398.7 L1924.6 397.9 L1925.9 397.3 L1927.0 396.8" stroke="#f00"/>
<path d="M339.5 1360.4 L341.8 1360.4 L343.6 1360.4 L345.5 1360.4 L347.5 1360.4 L349.5 1360.4 L351.5 1360.4 L353.5 1360.4 L355.5 1360.4 L357.5 1360.4 L359.5 1360.4 L361.5 1360.4 L363.5 1360.4 L365.5 1360.5 L367.5 1360.5 L369.5 1360.5 L371.5 1360.5 L373.5 1360.5 L375.5 1360.5 L377.5 1360.5 L379.5 1360.5 L381.5 1360.5 L383.5 1360.5 L385.5 1360.5 L387.5 1360.5 L389.5 1360.5 L391.5 1360.5 L393.5 1360.5 L395.5 1360.5 L397.5 1360.5 L399.5 1360.5 L401.5 1360.5 L403.5 1360.5 L405.5 1360.5 L407.5 1360.5 L409.5 1360.5 L411.5 1360.5 L413.5 1360.5 L415.5 1360.5 L417.5 1360.5 L419.5 1360.5 L421.5 1360.5 L423.5 1360.5 L425.5 1360.5 L427.5 1360.5 L429.5 1360.5 L431.5 1360.5 L433.5 1360.5 L435.5 1360.5 L437.5 1360.5 L439.5 1360.5 L441.5 1360.5 L443.5 1360.5 L445.5 1360.5 L447.5 1360.4 L449.5 1360.4 L451.5 1360.4 L453.5 1360.3 L455.5 1360.3 L457.5 1360.2 L459.5 1360.1 L461.3 1359.9 L463.0 1359.5 L464.6 1358.9 L466.2 1358.4 L468.1 1357.9 L470.0 1357.5 L472.0 1357.2 L473.9 1356.8 L475.9 1356.3 L477.9 1355.9 L479.8 1355.5 L481.7 1355.0 L483.7 1354.5 L485.6 1354.1 L487.6 1353.5 L489.5 1353.0 L491.4 1352.4 L493.3 1351.9 L495.2 1351.3 L497.1 1350.6 L499.0 1349.9 L500.9 1349.2 L502.7 1348.4 L504.5 1347.6 L506.3 1346.7 L508.1 1345.7 L509.8 1344.8 L511.5 1343.7 L513.2 1342.6 L514.8 1341.5 L516.4 1340.3 L518.0 1339.1 L519.6 1337.8 L521.1 1336.6 L522.6 1335.2 L524.1 1333.9 L525.5 1332.5 L526.9 1331.0 L528.2 1329.5 L529.5 1328.0 L530.8 1326.5 L532.0 1324.9 L533.1 1323.2 L534.1 1321.5 L535.2 1319.8 L536.1 1318.0 L537.0 1316.3 L537.9 1314.5 L538.8 1312.7 L539.7 1310.9 L540.5 1309.1 L541.4 1307.2 L542.2 1305.4 L543.0 1303.6 L543.8 1301.8 L544.7 1300.0 L545.5 1298.1 L546.3 1296.3 L547.1 1294.5 L547.9 1292.6 L548.6 1290.8 L549.4 1288.9 L550.2 1287.1 L551.0 1285.3 L551.7 1283.4 L552.5 1281.6 L553.3 1279.7 L554.0 1277.8 L554.7 1276.0 L555.4 1274.1 L556.1 1272.2 L556.8 1270.4 L557.5 1268.5 L558.2 1266.6 L558.9 1264.7 L559.6 1262.9 L560.3 1261.0 L561.0 1259.1 L561.7 1257.3 L562.5 1255.4 L563.3 1253.6 L564.2 1251.8 L565.0 1249.9 L565.8 1248.1 L566.6 1246.3 L567.3 1244.4 L568.0 1242.6 L568.7 1240.7 L569.2 1238.7 L569.8 1236.8 L570.3 1234.9 L570.8 1232.9 L571.2 1231.0 L571.7 1229.0 L572.1 1227.1 L572.5 1225.1 L572.9 1223.2 L573.4 1221.2 L573.8 1219.3 L574.3 1217.3 L574.7 1215.4 L575.2 1213.4 L575.6 1211.5 L576.1 1209.5 L576.6 1207.6 L577.1 1205.7 L577.6 1203.7 L578.1 1201.8 L578.6 1199.9 L579.1 1197.9 L579.6 1196.0 L580.0 1194.0 L580.5 1192.1 L581.0 1190.2 L581.5 1188.2 L582.0 1186.3 L582.5 1184.4 L583.0 1182.4 L583.5 1180.5 L584.0 1178.5 L584.4 1176.6 L584.9 1174.6 L585.4 1172.7 L585.8 1170.8 L586.3 1168.8 L586.8 1166.9 L587.2 1164.9 L587.6 1163.0 L588.1 1161.0 L588.5 1159.1 L588.9 1157.1 L589.3 1155.1 L589.7 1153.2 L590.1 1151.2 L590.5 1149.3 L590.9 1147.3 L591.3 1145.3 L591.7 1143.4 L592.1 1141.4 L592.5 1139.5 L592.9 1137.5 L593.3 1135.5 L593.6 1133.6 L594.0 1131.6 L594.4 1129.6 L594.8 1127.7 L595.1 1125.7 L595.5 1123.7 L595.9 1121.8 L596.2 1119.8 L596.6 1117.8 L597.0 1115.9 L597.3 1113.9 L597.7 1111.9 L598.0 1110.0 L598.4 1108.0 L598.7 1106.0 L599.1 1104.1 L599.4 1102.1 L599.8 1100.1 L600.1 1098.1 L600.4 1096.2 L600.7 1094.2 L600.9 1092.2 L601.1 1090.2 L601.3 1088.2 L601.5 1086.2 L601.7 1084.2 L601.9 1082.3 L602.2 1080.3 L602.5 1078.3 L602.8 1076.3 L603.1 1074.4 L603.4 1072.4 L603.7 1070.4 L604.1 1068.4 L604.4 1066.5 L604.7 1064.5 L605.0 1062.5 L605.4 1060.5 L605.7 1058.6 L606.0 1056.6 L606.4 1054.6 L606.7 1052.7 L607.0 1050.7 L607.3 1048.7 L607.7 1046.7 L608.0 1044.8 L608.3 1042.8 L608.6 1040.8 L608.9 1038.8 L609.2 1036.8 L609.5 1034.9 L609.8 1032.9 L610.1 1030.9 L610.3 1028.9 L610.6 1026.9 L610.9 1025.0 L611.1 1023.0 L611.4 1021.0 L611.6 1019.0 L611.8 1017.0 L612.1 1015.0 L612.3 1013.1 L612.5 1011.1 L612.8 1009.1 L613.0 1007.1 L613.2 1005.1 L613.4 1003.1 L613.6 1001.1 L613.8 999.1 L614.0 997.1 L614.3 995.2 L614.5 993.2 L614.7 991.2 L614.9 989.2 L615.1 987.2 L615.3 985.2 L615.5 983.2 L615.8 981.2 L616.0 979.3 L616.2 977.3 L616.4 975.3 L616.6 973.3 L616.9 971.3 L617.1 969.3 L617.3 967.3 L617.5 965.3 L617.8 963.3 L618.0 961.4 L618.2 959.4 L618.4 957.4 L618.6 955.4 L618.9 953.4 L619.1 951.4 L619.3 949.4 L619.5 947.4 L619.7 945.5 L619.9 943.5 L620.2 941.5 L620.4 939.5 L620.6 937.5 L620.8 935.5 L621.0 933.5 L621.3 931.5 L621.5 929.6 L621.7 927.6 L621.9 925.6 L622.1 923.6 L622.4 921.6 L622.6 919.6 L622.8 917.6 L623.0 915.6 L623.2 913.7 L623.5 911.7 L623.7 909.7 L623.9 907.7 L624.1 905.7 L624.3 903.7 L624.6 901.7 L624.8 899.7 L625.0 897.7 L625.2 895.8 L625.5 893.8 L625.7 891.8 L625.9 889.8 L626.1 887.8 L626.3 885.8 L626.6 883.8 L626.8 881.8 L627.0 879.9 L627.2 877.9 L627.5 875.9 L627.7 873.9 L627.9 871.9 L628.1 869.9 L628.4 867.9 L628.6 865.9 L628.8 864.0 L629.0 862.0 L629.2 860.0 L629.5 858.0 L629.7 856.0 L629.9 854.0 L630.1 852.0 L630.3 850.0 L630.6 848.1 L630.8 846.1 L631.0 844.1 L631.2 842.1 L631.4 840.1 L631.7 838.1 L631.9 836.1 L632.1 834.1 L632.3 832.2 L632.5 830.2 L632.7 828.2 L632.9 826.2 L633.2 824.2 L633.4 822.2 L633.6 820.2 L633.8 818.2 L634.0 816.2 L634.2 814.3 L634.4 812.3 L634.7 810.3 L634.9 808.3 L635.1 806.3 L635.3 804.3 L635.5 802.3 L635.7 800.3 L635.9 798.3 L636.1 796.4 L636.4 794.4 L636.6 792.4 L636.8 790.4 L637.0 788.4 L637.2 786.4 L637.4 784.4 L637.6 782.4 L637.9 780.5 L638.1 778.5 L638.3 776.5 L638.5 774.5 L638.7 772.5 L638.9 770.5 L639.1 768.5 L639.4 766.5 L639.6 764.5 L639.8 762.6 L640.0 760.6 L640.2 758.6 L640.4 756.6 L640.6 754.6 L640.8 752.6 L641.0 750.6 L641.3 748.6 L641.5 746.6 L641.7 744.7 L641.9 742.7 L642.1 740.7 L642.3 738.7 L642.5 736.7 L642.7 734.7 L642.9 732.7 L643.2 730.7 L643.4 728.7 L643.6 726.8 L643.8 724.8 L644.0 722.8 L644.2 720.8 L644.5 718.8 L644.7 716.8 L644.9 714.8 L645.1 712.8 L645.3 710.9 L645.6 708.9 L645.8 706.9 L646.0 704.9 L646.3 702.9 L646.5 700.9 L646.7 698.9 L647.0 696.9 L647.2 695.0 L647.5 693.0 L647.7 691.0 L648.0 689.0 L648.3 687.0 L648.6 685.1 L648.8 683.1 L649.1 681.1 L649.4 679.1 L649.7 677.1 L650.0 675.2 L650.3 673.2 L650.6 671.2 L650.9 669.2 L651.2 667.2 L651.5 665.3 L651.8 663.3 L652.1 661.3 L652.3 659.3 L652.6 657.3 L652.9 655.4 L653.1 653.4 L653.3 651.4 L653.6 649.4 L653.8 647.4 L654.0 645.4 L654.2 643.4 L654.5 641.5 L654.7 639.5 L654.9 637.5 L655.1 635.5 L655.3 633.5 L655.6 631.5 L655.8 629.5 L656.1 627.5 L656.3 625.6 L656.6 623.6 L656.9 621.6 L657.2 619.6 L657.5 617.7 L657.8 615.7 L658.1 613.7 L658.4 611.7 L658.7 609.7 L659.1 607.8 L659.4 605.8 L659.7 603.8 L660.1 601.9 L660.4 599.9 L660.8 597.9 L661.2 596.0 L661.6 594.0 L662.0 592.0 L662.4 590.1 L662.8 588.1 L663.2 586.2 L663.7 584.2 L664.1 582.3 L664.6 580.3 L665.0 578.4 L665.5 576.4 L666.0 574.5 L666.5 572.6 L667.0 570.6 L667.5 568.7 L668.1 566.8 L668.6 564.9 L669.3 563.0 L670.0 561.1 L670.8 559.3 L671.7 557.5 L672.8 555.8 L674.0 554.3 L675.5 553.1 L677.1 552.2 L679.0 551.8 L680.9 551.8 L682.8 552.2 L684.7 552.8 L686.5 553.7 L688.1 554.8 L689.6 556.1 L691.1 557.5 L692.3 559.0 L693.5 560.6 L694.5 562.3 L695.5 564.0 L696.4 565.8 L697.3 567.6 L698.2 569.4 L699.0 571.2 L699.8 573.1 L700.6 574.9 L701.4 576.7 L702.2 578.5 L703.0 580.4 L703.8 582.2 L704.6 584.1 L705.3 585.9 L706.1 587.8 L706.8 589.6 L707.6 591.5 L708.3 593.3 L709.1 595.2 L709.8 597.1 L710.6 598.9 L711.3 600.8 L712.0 602.6 L712.7 604.5 L713.4 606.4 L714.1 608.3 L714.8 610.1 L715.6 612.0 L716.3 613.9 L717.0 615.7 L717.8 617.6 L718.5 619.4 L719.3 621.3 L720.1 623.1 L720.9 624.9 L721.7 626.7 L722.6 628.5 L723.5 630.3 L724.4 632.1 L725.3 633.9 L726.3 635.6 L727.3 637.4 L728.3 639.1 L729.3 640.9 L730.3 642.6 L731.3 644.3 L732.4 645.9 L733.5 647.6 L734.7 649.2 L735.9 650.9 L737.1 652.5 L738.3 654.1 L739.5 655.7 L740.7 657.2 L741.9 658.8 L743.1 660.5 L744.3 662.1 L745.5 663.7 L746.7 665.3 L747.9 666.8 L749.2 668.3 L750.6 669.8 L752.0 671.2 L753.5 672.5 L755.0 673.8 L756.6 675.1 L758.2 676.2 L759.9 677.3 L761.6 678.4 L763.3 679.3 L765.2 680.0 L767.1 680.6 L769.0 680.8 L771.0 680.9 L773.0 680.8 L775.0 680.6 L777.0 680.3 L778.9 680.1 L780.9 679.7 L782.9 679.2 L784.8 678.6 L786.6 677.9 L788.4 677.0 L790.1 676.0 L791.8 674.9 L793.3 673.7 L794.9 672.4 L796.4 671.1 L797.9 669.8 L799.4 668.5 L800.9 667.1 L802.4 665.8 L803.8 664.4 L805.3 663.1 L806.7 661.7 L808.1 660.2 L809.5 658.8 L810.8 657.3 L812.1 655.8 L813.4 654.2 L814.6 652.7 L815.8 651.0 L817.0 649.4 L818.1 647.8 L819.2 646.1 L820.3 644.5 L821.4 642.8 L822.5 641.1 L823.6 639.4 L824.7 637.8 L825.8 636.1 L826.9 634.4 L828.0 632.7 L829.0 631.0 L830.1 629.3 L831.1 627.6 L832.2 625.9 L833.2 624.2 L834.2 622.4 L835.1 620.7 L836.1 618.9 L837.0 617.2 L838.0 615.4 L838.9 613.6 L839.8 611.8 L840.6 610.0 L841.5 608.2 L842.4 606.4 L843.2 604.6 L844.1 602.8 L845.0 601.0 L845.8 599.2 L846.7 597.4 L847.6 595.6 L848.5 593.8 L849.3 592.0 L850.1 590.2 L850.9 588.4 L851.7 586.5 L852.4 584.7 L853.2 582.8 L853.9 580.9 L854.5 579.0 L855.1 577.1 L855.7 575.2 L856.3 573.3 L856.9 571.4 L857.4 569.5 L857.9 567.5 L858.5 565.6 L859.0 563.7 L859.5 561.7 L860.0 559.8 L860.6 557.9 L861.1 556.0 L861.7 554.0 L862.2 552.1 L862.8 550.2 L863.4 548.3 L864.0 546.4 L864.6 544.5 L865.3 542.6 L865.9 540.7 L866.6 538.8 L867.3 537.0 L868.1 535.1 L868.8 533.2 L869.6 531.4 L870.4 529.6 L871.2 527.7 L872.0 525.9 L872.8 524.1 L873.6 522.2 L874.4 520.4 L875.3 518.6 L876.1 516.8 L877.0 515.0 L877.8 513.2 L878.7 511.4 L879.5 509.5 L880.4 507.7 L881.2 505.9 L882.1 504.1 L882.9 502.3 L883.8 500.5 L884.6 498.7 L885.5 496.9 L886.3 495.1 L887.2 493.2 L888.0 491.4 L888.8 489.6 L889.6 487.8 L890.4 485.9 L891.2 484.1 L892.0 482.2 L892.7 480.4 L893.4 478.5 L894.2 476.7 L894.9 474.8 L895.6 472.9 L896.3 471.1 L897.0 469.2 L897.7 467.3 L898.4 465.4 L899.0 463.5 L899.7 461.7 L900.4 459.8 L901.0 457.9 L901.7 456.0 L902.3 454.1 L903.0 452.2 L903.6 450.3 L904.3 448.4 L905.0 446.5 L905.6 444.7 L906.3 442.8 L907.0 440.9 L907.7 439.0 L908.4 437.1 L909.1 435.3 L909.8 433.4 L910.6 431.6 L911.3 429.7 L912.1 427.9 L912.8 426.0 L913.6 424.2 L914.4 422.3 L915.2 420.5 L915.9 418.6 L916.7 416.8 L917.5 414.9 L918.2 413.1 L919.0 411.2 L919.7 409.4 L920.4 407.5 L921.1 405.6 L921.7 403.7 L922.3 401.8 L922.8 399.9 L923.3 397.9 L923.8 396.0 L924.4 394.1 L924.9 392.2 L925.5 390.2 L926.1 388.3 L926.7 386.4 L927.3 384.5 L927.9 382.6 L928.5 380.7 L929.1 378.8 L929.7 376.9 L930.3 375.0 L930.9 373.1 L931.5 371.2 L932.1 369.3 L932.7 367.4 L933.4 365.5 L934.0 363.6 L934.6 361.7 L935.2 359.8 L935.8 357.9 L936.5 356.0 L937.1 354.1 L937.8 352.2 L938.4 350.3 L939.1 348.4 L939.7 346.5 L940.4 344.6 L941.1 342.7 L941.8 340.9 L942.5 339.0 L943.3 337.1 L944.0 335.3 L944.8 333.4 L945.5 331.6 L946.3 329.8 L947.1 327.9 L947.9 326.1 L948.7 324.3 L949.6 322.5 L950.4 320.6 L951.3 318.8 L952.1 317.0 L952.9 315.2 L953.8 313.4 L954.7 311.6 L955.5 309.8 L956.4 308.0 L957.2 306.2 L958.1 304.3 L958.9 302.5 L959.8 300.7 L960.7 298.9 L961.6 297.1 L962.4 295.4 L963.3 293.6 L964.2 291.8 L965.1 290.0 L966.1 288.2 L967.0 286.4 L967.9 284.7 L968.8 282.9 L969.8 281.1 L970.7 279.4 L971.6 277.6 L972.5 275.8 L973.5 274.0 L974.4 272.3 L975.4 270.5 L976.3 268.8 L977.3 267.0 L978.3 265.3 L979.3 263.5 L980.3 261.8 L981.3 260.1 L982.4 258.4 L983.6 256.8 L984.7 255.2 L985.9 253.6 L987.2 252.0 L988.5 250.5 L989.8 249.0 L991.1 247.5 L992.5 246.0 L993.8 244.5 L995.1 243.0 L996.3 241.4 L997.5 239.8 L998.7 238.2 L999.9 236.6 L1001.0 234.9 L1002.1 233.3 L1003.3 231.6 L1004.5 230.0 L1005.7 228.5 L1007.0 227.0 L1008.4 225.5 L1009.9 224.2 L1011.5 223.1 L1013.2 222.0 L1014.9 221.0 L1016.7 220.2 L1018.6 219.4 L1020.4 218.6 L1022.3 218.0 L1024.2 217.3 L1026.1 216.7 L1028.0 216.0 L1029.9 215.4 L1031.8 214.9 L1033.8 214.5 L1035.7 214.1 L1037.7 213.9 L1039.7 213.8 L1041.7 213.9 L1043.7 214.1 L1045.6 214.4 L1047.6 214.8 L1049.5 215.3 L1051.5 215.8 L1053.4 216.4 L1055.3 216.9 L1057.2 217.4 L1059.2 218.0 L1061.1 218.6 L1063.0 219.3 L1064.8 220.0 L1066.6 220.9 L1068.3 221.9 L1070.0 223.0 L1071.6 224.1 L1073.2 225.3 L1074.8 226.6 L1076.3 227.9 L1077.8 229.2 L1079.3 230.5 L1080.8 231.9 L1082.2 233.2 L1083.7 234.6 L1085.1 236.0 L1086.5 237.4 L1087.9 238.8 L1089.3 240.3 L1090.7 241.7 L1092.0 243.2 L1093.4 244.7 L1094.7 246.2 L1096.1 247.7 L1097.4 249.2 L1098.7 250.6 L1100.1 252.1 L1101.4 253.6 L1102.7 255.1 L1104.0 256.7 L1105.3 258.2 L1106.6 259.7 L1107.9 261.2 L1109.2 262.7 L1110.5 264.3 L1111.8 265.8 L1113.1 267.3 L1114.4 268.8 L1115.7 270.4 L1117.0 271.9 L1118.3 273.4 L1119.6 274.9 L1120.9 276.4 L1122.3 277.9 L1123.6 279.4 L1124.9 280.9 L1126.2 282.4 L1127.5 283.9 L1128.8 285.4 L1130.1 287.0 L1131.3 288.6 L1132.5 290.2 L1133.6 291.8 L1134.6 293.6 L1135.6 295.3 L1136.5 297.1 L1137.4 298.9 L1138.3 300.6 L1139.3 302.4 L1140.4 304.0 L1141.5 305.7 L1142.6 307.4 L1143.8 309.0 L1144.9 310.7 L1146.1 312.3 L1147.2 313.9 L1148.4 315.5 L1149.6 317.2 L1150.7 318.8 L1151.9 320.4 L1153.1 322.0 L1154.3 323.6 L1155.4 325.3 L1156.6 326.9 L1157.8 328.5 L1159.0 330.1 L1160.2 331.7 L1161.3 333.3 L1162.5 334.9 L1163.7 336.5 L1164.9 338.1 L1166.1 339.7 L1167.3 341.3 L1168.5 342.9 L1169.7 344.5 L1171.0 346.1 L1172.2 347.7 L1173.4 349.3 L1174.6 350.9 L1175.9 352.4 L1177.1 354.0 L1178.3 355.6 L1179.5 357.2 L1180.7 358.8 L1181.9 360.4 L1183.0 362.0 L1184.1 363.7 L1185.2 365.4 L1186.2 367.2 L1187.1 368.9 L1188.1 370.7 L1189.1 372.4 L1190.1 374.1 L1191.2 375.8 L1192.3 377.4 L1193.5 379.1 L1194.7 380.7 L1195.9 382.3 L1197.1 383.8 L1198.4 385.4 L1199.6 387.0 L1200.8 388.6 L1202.1 390.1 L1203.3 391.7 L1204.6 393.2 L1205.8 394.8 L1207.1 396.4 L1208.3 397.9 L1209.6 399.5 L1210.8 401.0 L1212.1 402.6 L1213.3 404.2 L1214.6 405.7 L1215.9 407.3 L1217.1 408.8 L1218.4 410.4 L1219.6 411.9 L1220.9 413.5 L1222.2 415.0 L1223.4 416.6 L1224.7 418.1 L1226.0 419.7 L1227.3 421.2 L1228.6 422.7 L1229.8 424.3 L1231.1 425.8 L1232.4 427.3 L1233.7 428.8 L1235.1 430.3 L1236.4 431.8 L1237.7 433.3 L1239.0 434.8 L1240.4 436.3 L1241.7 437.8 L1243.0 439.3 L1244.4 440.7 L1245.8 442.2 L1247.1 443.7 L1248.5 445.1 L1249.9 446.5 L1251.3 448.0 L1252.7 449.4 L1254.2 450.8 L1255.6 452.2 L1257.0 453.6 L1258.5 455.0 L1259.9 456.4 L1261.3 457.7 L1262.8 459.1 L1264.2 460.5 L1265.7 461.9 L1267.1 463.3 L1268.5 464.7 L1270.0 466.1 L1271.4 467.5 L1272.8 468.9 L1274.2 470.3 L1275.7 471.7 L1277.1 473.1 L1278.5 474.5 L1279.9 476.0 L1281.3 477.4 L1282.7 478.8 L1284.1 480.2 L1285.6 481.6 L1287.0 483.0 L1288.5 484.4 L1289.9 485.7 L1291.4 487.1 L1292.8 488.5 L1294.3 489.8 L1295.8 491.2 L1297.3 492.5 L1298.7 493.9 L1300.2 495.2 L1301.7 496.5 L1303.2 497.8 L1304.7 499.2 L1306.3 500.5 L1307.8 501.7 L1309.3 503.0 L1310.9 504.3 L1312.5 505.5 L1314.1 506.7 L1315.7 507.9 L1317.3 509.1 L1318.9 510.2 L1320.6 511.4 L1322.2 512.5 L1323.9 513.6 L1325.6 514.7 L1327.3 515.7 L1329.0 516.8 L1330.7 517.8 L1332.4 518.8 L1334.2 519.8 L1335.9 520.7 L1337.7 521.7 L1339.5 522.6 L1341.2 523.5 L1343.1 524.4 L1344.9 525.2 L1346.7 526.0 L1348.5 526.8 L1350.4 527.6 L1352.2 528.3 L1354.1 529.1 L1355.9 529.8 L1357.8 530.5 L1359.7 531.3 L1361.5 532.0 L1363.4 532.8 L1365.2 533.5 L1367.1 534.2 L1369.0 534.9 L1370.8 535.6 L1372.7 536.3 L1374.6 537.0 L1376.5 537.7 L1378.3 538.4 L1380.2 539.1 L1382.1 539.8 L1384.0 540.5 L1385.9 541.1 L1387.7 541.8 L1389.6 542.5 L1391.5 543.1 L1393.4 543.8 L1395.3 544.5 L1397.2 545.1 L1399.1 545.8 L1401.0 546.4 L1402.8 547.1 L1404.7 547.7 L1406.6 548.4 L1408.5 549.0 L1410.5 549.6 L1412.4 550.2 L1414.3 550.7 L1416.2 551.3 L1418.1 551.8 L1420.1 552.3 L1422.0 552.8 L1424.0 553.2 L1425.9 553.6 L1427.9 554.0 L1429.8 554.4 L1431.8 554.8 L1433.8 555.1 L1435.8 555.5 L1437.7 555.8 L1439.7 556.1 L1441.7 556.4 L1443.7 556.7 L1445.6 557.0 L1447.6 557.2 L1449.6 557.5 L1451.6 557.7 L1453.6 557.9 L1455.6 558.0 L1457.6 558.2 L1459.6 558.3 L1461.6 558.3 L1463.6 558.4 L1465.6 558.4 L1467.6 558.4 L1469.6 558.5 L1471.6 558.6 L1473.6 558.7 L1475.6 558.7 L1477.6 558.8 L1479.6 558.9 L1481.6 559.0 L1483.6 559.1 L1485.6 559.1 L1487.6 559.2 L1489.6 559.2 L1491.6 559.2 L1493.6 559.2 L1495.5 559.2 L1497.5 559.1 L1499.5 559.0 L1501.5 558.9 L1503.5 558.8 L1505.5 558.6 L1507.5 558.5 L1509.5 558.3 L1511.5 558.1 L1513.5 557.9 L1515.5 557.7 L1517.5 557.5 L1519.5 557.3 L1521.5 557.1 L1523.5 556.9 L1525.4 556.7 L1527.4 556.5 L1529.4 556.3 L1531.4 556.1 L1533.4 555.8 L1535.4 555.6 L1537.4 555.3 L1539.3 555.0 L1541.3 554.7 L1543.3 554.4 L1545.3 554.1 L1547.2 553.8 L1549.2 553.4 L1551.2 553.1 L1553.1 552.7 L1555.1 552.3 L1557.1 551.9 L1559.0 551.5 L1561.0 551.1 L1562.9 550.7 L1564.9 550.3 L1566.8 549.8 L1568.8 549.4 L1570.8 549.0 L1572.7 548.6 L1574.7 548.2 L1576.6 547.8 L1578.6 547.4 L1580.5 547.0 L1582.5 546.5 L1584.5 546.1 L1586.4 545.7 L1588.4 545.2 L1590.3 544.8 L1592.2 544.3 L1594.2 543.8 L1596.1 543.2 L1598.0 542.7 L1599.9 542.1 L1601.8 541.5 L1603.8 540.9 L1605.7 540.3 L1607.6 539.7 L1609.5 539.0 L1611.3 538.4 L1613.2 537.7 L1615.1 537.1 L1617.0 536.4 L1618.9 535.8 L1620.8 535.2 L1622.7 534.5 L1624.6 533.9 L1626.5 533.2 L1628.4 532.5 L1630.3 531.9 L1632.1 531.2 L1634.0 530.5 L1635.9 529.9 L1637.8 529.2 L1639.7 528.5 L1641.6 527.8 L1643.4 527.2 L1645.3 526.5 L1647.2 525.8 L1649.1 525.1 L1651.0 524.4 L1652.8 523.7 L1654.7 523.0 L1656.6 522.3 L1658.5 521.7 L1660.3 521.0 L1662.2 520.2 L1664.1 519.5 L1665.9 518.8 L1667.8 518.1 L1669.7 517.4 L1671.6 516.7 L1673.4 516.0 L1675.3 515.3 L1677.2 514.5 L1679.0 513.8 L1680.9 513.1 L1682.8 512.4 L1684.6 511.6 L1686.5 510.9 L1688.3 510.1 L1690.2 509.4 L1692.0 508.6 L1693.8 507.8 L1695.7 507.0 L1697.5 506.1 L1699.3 505.3 L1701.1 504.5 L1702.9 503.7 L1704.8 502.8 L1706.6 502.0 L1708.4 501.1 L1710.2 500.3 L1712.0 499.4 L1713.8 498.6 L1715.6 497.7 L1717.4 496.8 L1719.2 496.0 L1721.0 495.1 L1722.8 494.2 L1724.6 493.3 L1726.4 492.4 L1728.2 491.5 L1729.9 490.6 L1731.7 489.7 L1733.5 488.7 L1735.2 487.8 L1737.0 486.8 L1738.7 485.8 L1740.5 484.9 L1742.2 483.9 L1744.0 482.9 L1745.7 481.9 L1747.4 480.9 L1749.2 479.9 L1750.9 479.0 L1752.7 478.0 L1754.4 477.0 L1756.2 476.1 L1758.0 475.2 L1759.7 474.2 L1761.5 473.3 L1763.3 472.4 L1765.1 471.5 L1766.9 470.6 L1768.7 469.7 L1770.5 468.9 L1772.3 468.0 L1774.1 467.1 L1775.9 466.2 L1777.7 465.4 L1779.5 464.5 L1781.3 463.6 L1783.1 462.7 L1784.8 461.8 L1786.6 460.9 L1788.4 460.0 L1790.2 459.1 L1792.0 458.2 L1793.8 457.3 L1795.6 456.5 L1797.4 455.6 L1799.2 454.7 L1800.9 453.8 L1802.7 452.9 L1804.5 452.0 L1806.3 451.1 L1808.1 450.2 L1809.9 449.3 L1811.7 448.4 L1813.5 447.5 L1815.2 446.6 L1817.0 445.7 L1818.8 444.8 L1820.6 443.9 L1822.4 443.1 L1824.2 442.2 L1826.0 441.3 L1827.8 440.4 L1829.6 439.6 L1831.4 438.7 L1833.2 437.8 L1835.0 436.9 L1836.8 436.0 L1838.5 435.1 L1840.3 434.1 L1842.1 433.2 L1843.8 432.2 L1845.6 431.2 L1847.3 430.2 L1849.0 429.2 L1850.7 428.2 L1852.5 427.2 L1854.2 426.1 L1855.9 425.1 L1857.6 424.0 L1859.3 423.0 L1861.0 421.9 L1862.7 420.9 L1864.4 419.8 L1866.1 418.8 L1867.8 417.8 L1869.5 416.7 L1871.3 415.7 L1873.0 414.7 L1874.7 413.8 L1876.5 412.8 L1878.2 411.8 L1880.0 410.8 L1881.7 409.9 L1883.5 408.9 L1885.2 407.9 L1887.0 407.0 L1888.7 406.0 L1890.5 405.1 L1892.3 404.1 L1894.0 403.2 L1895.8 402.2 L1897.5 401.3 L1899.3 400.3 L1901.1 399.4 L1902.8 398.4 L1904.6 397.5 L1906.3 396.5 L1908.1 395.6 L1909.9 394.6 L1911.6 393.7 L1913.4 392.8 L1915.2 391.8 L1916.9 390.9 L1918.7 389.9 L1920.5 389.0 L1922.2 388.1 L1923.9 387.2 L1925.4 386.4 L1927.0 385.5" stroke="#00f"/>
<path d="M339.5 1360.4 L341.8 1360.4 L343.6 1360.4 L345.5 1360.4 L347.5 1360.4 L349.5 1360.4 L351.5 1360.4 L353.5 1360.4 L355.5 1360.4 L357.5 1360.4 L359.5 1360.5 L361.5 1360.5 L363.5 1360.5 L365.5 1360.5 L367.5 1360.5 L369.5 1360.5 L371.5 1360.5 L373.5 1360.5 L375.5 1360.5 L377.5 1360.5 L379.5 1360.5 L381.5 1360.5 L383.5 1360.5 L385.5 1360.5 L387.5 1360.5 L389.5 1360.5 L391.5 1360.6 L393.5 1360.6 L395.5 1360.6 L397.5 1360.6 L399.5 1360.6 L401.5 1360.6 L403.5 1360.6 L405.5 1360.6 L407.5 1360.6 L409.5 1360.6 L411.5 1360.6 L413.5 1360.6 L415.5 1360.6 L417.5 1360.6 L419.5 1360.6 L421.5 1360.6 L423.5 1360.6 L425.5 1360.6 L427.5 1360.6 L429.5 1360.6 L431.5 1360.5 L433.5 1360.5 L435.5 1360.5 L437.5 1360.5 L439.5 1360.5 L441.5 1360.5 L443.5 1360.4 L445.5 1360.4 L447.5 1360.4 L449.5 1360.3 L451.5 1360.2 L453.4 1360.0 L455.2 1359.7 L456.7 1359.2 L457.9 1358.5 L459.4 1357.9 L461.1 1357.4 L463.0 1357.0 L465.0 1356.7 L467.0 1356.3 L468.9 1356.0 L470.9 1355.6 L472.8 1355.2 L474.8 1354.8 L476.8 1354.4 L478.7 1354.0 L480.7 1353.5 L482.6 1353.0 L484.5 1352.6 L486.5 1352.0 L488.4 1351.5 L490.3 1351.0 L492.2 1350.4 L494.1 1349.7 L496.0 1349.0 L497.9 1348.3 L499.7 1347.5 L501.5 1346.7 L503.3 1345.8 L505.1 1344.8 L506.8 1343.8 L508.5 1342.7 L510.1 1341.6 L511.8 1340.5 L513.4 1339.3 L514.9 1338.0 L516.5 1336.7 L518.0 1335.4 L519.4 1334.1 L520.9 1332.7 L522.3 1331.3 L523.6 1329.8 L524.9 1328.3 L526.2 1326.7 L527.4 1325.1 L528.5 1323.5 L529.6 1321.8 L530.7 1320.1 L531.7 1318.4 L532.7 1316.6 L533.6 1314.9 L534.5 1313.1 L535.4 1311.3 L536.3 1309.5 L537.2 1307.7 L538.0 1305.9 L538.9 1304.1 L539.7 1302.3 L540.5 1300.4 L541.3 1298.6 L542.1 1296.8 L542.9 1294.9 L543.7 1293.1 L544.4 1291.2 L545.2 1289.4 L546.0 1287.5 L546.7 1285.7 L547.5 1283.8 L548.2 1282.0 L548.9 1280.1 L549.7 1278.3 L550.4 1276.4 L551.1 1274.5 L551.7 1272.6 L552.4 1270.7 L553.1 1268.9 L553.7 1267.0 L554.4 1265.1 L555.1 1263.2 L555.7 1261.3 L556.5 1259.5 L557.2 1257.6 L558.0 1255.8 L558.8 1253.9 L559.7 1252.1 L560.6 1250.3 L561.5 1248.6 L562.3 1246.7 L563.1 1244.9 L563.9 1243.1 L564.5 1241.2 L565.2 1239.3 L565.8 1237.4 L566.3 1235.5 L566.8 1233.5 L567.3 1231.6 L567.8 1229.6 L568.2 1227.7 L568.7 1225.7 L569.1 1223.8 L569.6 1221.8 L570.0 1219.9 L570.5 1217.9 L570.9 1216.0 L571.4 1214.1 L571.9 1212.1 L572.4 1210.2 L572.9 1208.2 L573.3 1206.3 L573.8 1204.4 L574.3 1202.4 L574.8 1200.5 L575.4 1198.5 L575.9 1196.6 L576.4 1194.7 L576.9 1192.7 L577.4 1190.8 L577.9 1188.9 L578.4 1186.9 L578.9 1185.0 L579.3 1183.1 L579.8 1181.1 L580.3 1179.2 L580.8 1177.2 L581.3 1175.3 L581.7 1173.3 L582.2 1171.4 L582.7 1169.5 L583.1 1167.5 L583.6 1165.6 L584.0 1163.6 L584.4 1161.7 L584.9 1159.7 L585.3 1157.7 L585.7 1155.8 L586.1 1153.8 L586.5 1151.9 L586.9 1149.9 L587.3 1147.9 L587.6 1146.0 L588.0 1144.0 L588.4 1142.1 L588.8 1140.1 L589.1 1138.1 L589.5 1136.2 L589.9 1134.2 L590.2 1132.2 L590.6 1130.3 L591.0 1128.3 L591.3 1126.3 L591.7 1124.4 L592.0 1122.4 L592.4 1120.4 L592.7 1118.4 L593.1 1116.5 L593.4 1114.5 L593.8 1112.5 L594.1 1110.6 L594.4 1108.6 L594.8 1106.6 L595.1 1104.6 L595.4 1102.7 L595.8 1100.7 L596.1 1098.7 L596.4 1096.8 L596.7 1094.8 L596.9 1092.8 L597.1 1090.8 L597.3 1088.8 L597.4 1086.8 L597.6 1084.8 L597.8 1082.8 L598.1 1080.9 L598.4 1078.9 L598.7 1076.9 L599.0 1074.9 L599.3 1072.9 L599.6 1071.0 L599.9 1069.0 L600.2 1067.0 L600.5 1065.0 L600.8 1063.1 L601.1 1061.1 L601.5 1059.1 L601.8 1057.1 L602.1 1055.2 L602.4 1053.2 L602.7 1051.2 L603.0 1049.2 L603.3 1047.3 L603.6 1045.3 L603.9 1043.3 L604.2 1041.3 L604.5 1039.4 L604.8 1037.4 L605.1 1035.4 L605.4 1033.4 L605.7 1031.4 L606.0 1029.5 L606.2 1027.5 L606.5 1025.5 L606.8 1023.5 L607.0 1021.5 L607.3 1019.5 L607.5 1017.6 L607.8 1015.6 L608.0 1013.6 L608.3 1011.6 L608.5 1009.6 L608.8 1007.6 L609.0 1005.7 L609.3 1003.7 L609.5 1001.7 L609.7 999.7 L610.0 997.7 L610.2 995.7 L610.4 993.7 L610.6 991.7 L610.9 989.8 L611.1 987.8 L611.3 985.8 L611.6 983.8 L611.8 981.8 L612.0 979.8 L612.2 977.8 L612.5 975.9 L612.7 973.9 L612.9 971.9 L613.2 969.9 L613.4 967.9 L613.6 965.9 L613.8 963.9 L614.0 961.9 L614.3 960.0 L614.5 958.0 L614.7 956.0 L614.9 954.0 L615.1 952.0 L615.4 950.0 L615.6 948.0 L615.8 946.0 L616.0 944.0 L616.2 942.1 L616.5 940.1 L616.7 938.1 L616.9 936.1 L617.1 934.1 L617.3 932.1 L617.5 930.1 L617.8 928.1 L618.0 926.2 L618.2 924.2 L618.4 922.2 L618.6 920.2 L618.8 918.2 L619.1 916.2 L619.3 914.2 L619.5 912.2 L619.7 910.2 L619.9 908.3 L620.2 906.3 L620.4 904.3 L620.6 902.3 L620.8 900.3 L621.0 898.3 L621.2 896.3 L621.5 894.3 L621.7 892.4 L621.9 890.4 L622.1 888.4 L622.3 886.4 L622.5 884.4 L622.8 882.4 L623.0 880.4 L623.2 878.4 L623.4 876.4 L623.6 874.5 L623.8 872.5 L624.1 870.5 L624.3 868.5 L624.5 866.5 L624.7 864.5 L624.9 862.5 L625.1 860.5 L625.3 858.6 L625.6 856.6 L625.8 854.6 L626.0 852.6 L626.2 850.6 L626.4 848.6 L626.6 846.6 L626.8 844.6 L627.1 842.6 L627.3 840.7 L627.5 838.7 L627.7 836.7 L627.9 834.7 L628.1 832.7 L628.3 830.7 L628.5 828.7 L628.7 826.7 L629.0 824.7 L629.2 822.8 L629.4 820.8 L629.6 818.8 L629.8 816.8 L630.0 814.8 L630.2 812.8 L630.4 810.8 L630.6 808.8 L630.8 806.8 L631.0 804.9 L631.3 802.9 L631.5 800.9 L631.7 798.9 L631.9 796.9 L632.1 794.9 L632.3 792.9 L632.5 790.9 L632.7 788.9 L632.9 787.0 L633.2 785.0 L633.4 783.0 L633.6 781.0 L633.8 779.0 L634.0 777.0 L634.2 775.0 L634.5 773.0 L634.7 771.1 L634.9 769.1 L635.1 767.1 L635.3 765.1 L635.5 763.1 L635.8 761.1 L636.0 759.1 L636.2 757.1 L636.4 755.1 L636.6 753.2 L636.9 751.2 L637.1 749.2 L637.3 747.2 L637.5 745.2 L637.7 743.2 L637.9 741.2 L638.2 739.2 L638.4 737.3 L638.6 735.3 L638.8 733.3 L639.1 731.3 L639.3 729.3 L639.5 727.3 L639.7 725.3 L639.9 723.3 L640.2 721.4 L640.4 719.4 L640.6 717.4 L640.9 715.4 L641.1 713.4 L641.3 711.4 L641.6 709.4 L641.8 707.4 L642.0 705.5 L642.3 703.5 L642.5 701.5 L642.8 699.5 L643.0 697.5 L643.3 695.5 L643.5 693.6 L643.8 691.6 L644.1 689.6 L644.4 687.6 L644.6 685.6 L644.9 683.7 L645.2 681.7 L645.5 679.7 L645.8 677.7 L646.1 675.7 L646.4 673.8 L646.7 671.8 L647.0 669.8 L647.4 667.8 L647.7 665.9 L648.0 663.9 L648.2 661.9 L648.5 659.9 L648.8 657.9 L649.1 656.0 L649.3 654.0 L649.6 652.0 L649.8 650.0 L650.0 648.0 L650.3 646.0 L650.5 644.0 L650.7 642.1 L650.9 640.1 L651.1 638.1 L651.3 636.1 L651.6 634.1 L651.8 632.1 L652.0 630.1 L652.3 628.1 L652.5 626.2 L652.8 624.2 L653.1 622.2 L653.4 620.2 L653.7 618.3 L654.0 616.3 L654.3 614.3 L654.7 612.3 L655.0 610.4 L655.3 608.4 L655.7 606.4 L656.1 604.5 L656.5 602.5 L657.0 600.6 L657.4 598.6 L657.9 596.7 L658.5 594.8 L659.1 592.9 L659.8 591.0 L660.5 589.1 L661.2 587.2 L661.9 585.4 L662.7 583.5 L663.4 581.7 L664.2 579.8 L664.9 577.9 L665.7 576.1 L666.5 574.3 L667.3 572.4 L668.2 570.7 L669.2 568.9 L670.3 567.3 L671.5 565.7 L672.8 564.3 L674.4 563.2 L676.1 562.5 L678.0 562.4 L679.9 562.7 L681.7 563.3 L683.5 564.2 L685.2 565.3 L686.6 566.6 L688.0 568.0 L689.3 569.5 L690.4 571.2 L691.5 572.8 L692.5 574.6 L693.4 576.3 L694.3 578.1 L695.2 579.9 L696.0 581.7 L696.9 583.6 L697.7 585.4 L698.5 587.2 L699.4 589.0 L700.2 590.9 L701.0 592.7 L701.8 594.5 L702.5 596.4 L703.3 598.2 L704.1 600.0 L704.9 601.9 L705.7 603.7 L706.5 605.5 L707.3 607.4 L708.1 609.2 L708.9 611.0 L709.7 612.9 L710.6 614.7 L711.4 616.5 L712.3 618.3 L713.2 620.1 L714.1 621.9 L715.0 623.6 L715.9 625.4 L716.8 627.2 L717.7 629.0 L718.7 630.8 L719.6 632.5 L720.5 634.3 L721.4 636.1 L722.4 637.8 L723.3 639.6 L724.3 641.3 L725.4 643.0 L726.5 644.7 L727.5 646.4 L728.7 648.1 L729.8 649.7 L731.0 651.3 L732.2 652.9 L733.4 654.5 L734.6 656.1 L735.9 657.6 L737.2 659.1 L738.5 660.6 L739.9 662.1 L741.2 663.6 L742.6 665.0 L744.1 666.4 L745.6 667.7 L747.1 669.0 L748.7 670.2 L750.3 671.4 L752.0 672.5 L753.7 673.4 L755.5 674.3 L757.3 675.1 L759.2 675.8 L761.1 676.4 L763.1 676.7 L765.0 676.9 L767.0 676.9 L769.0 676.7 L771.0 676.4 L772.9 676.0 L774.9 675.4 L776.8 674.8 L778.6 674.1 L780.4 673.3 L782.2 672.4 L783.9 671.4 L785.6 670.3 L787.1 669.0 L788.7 667.7 L790.1 666.3 L791.5 664.9 L792.8 663.4 L794.1 661.9 L795.4 660.4 L796.6 658.8 L797.8 657.1 L798.9 655.5 L800.1 653.9 L801.2 652.2 L802.3 650.6 L803.5 649.0 L804.7 647.3 L805.9 645.7 L807.0 644.1 L808.2 642.5 L809.4 640.9 L810.6 639.3 L811.8 637.7 L812.9 636.0 L814.1 634.4 L815.2 632.7 L816.3 631.1 L817.5 629.4 L818.6 627.8 L819.7 626.1 L820.8 624.4 L821.9 622.8 L822.9 621.1 L824.0 619.4 L825.0 617.7 L826.0 615.9 L827.0 614.2 L828.0 612.4 L829.0 610.7 L829.9 608.9 L830.8 607.2 L831.8 605.4 L832.7 603.6 L833.6 601.9 L834.6 600.1 L835.6 598.4 L836.5 596.6 L837.4 594.8 L838.3 593.0 L839.1 591.2 L839.9 589.4 L840.7 587.5 L841.5 585.7 L842.3 583.8 L843.0 582.0 L843.8 580.1 L844.5 578.3 L845.3 576.4 L846.0 574.6 L846.8 572.7 L847.5 570.8 L848.2 569.0 L848.9 567.1 L849.7 565.3 L850.4 563.4 L851.1 561.5 L851.8 559.7 L852.5 557.8 L853.3 555.9 L854.0 554.1 L854.7 552.2 L855.4 550.3 L856.1 548.5 L856.8 546.6 L857.6 544.7 L858.3 542.8 L859.0 541.0 L859.7 539.1 L860.4 537.2 L861.1 535.4 L861.8 533.5 L862.5 531.6 L863.3 529.8 L864.0 527.9 L864.7 526.0 L865.4 524.2 L866.1 522.3 L866.8 520.4 L867.5 518.6 L868.3 516.7 L869.0 514.8 L869.7 513.0 L870.4 511.1 L871.1 509.2 L871.8 507.3 L872.5 505.5 L873.2 503.6 L873.9 501.7 L874.6 499.8 L875.3 498.0 L876.0 496.1 L876.7 494.2 L877.4 492.3 L878.1 490.5 L878.8 488.6 L879.4 486.7 L880.1 484.8 L880.8 482.9 L881.5 481.1 L882.1 479.2 L882.8 477.3 L883.4 475.4 L884.1 473.5 L884.7 471.6 L885.3 469.7 L885.9 467.8 L886.5 465.9 L887.2 464.0 L887.8 462.1 L888.4 460.2 L889.0 458.3 L889.6 456.4 L890.2 454.5 L890.8 452.6 L891.4 450.7 L892.1 448.8 L892.7 446.9 L893.3 445.0 L894.0 443.1 L894.7 441.2 L895.4 439.3 L896.1 437.4 L896.8 435.6 L897.5 433.7 L898.2 431.9 L899.0 430.0 L899.7 428.1 L900.5 426.3 L901.2 424.4 L902.0 422.6 L902.7 420.7 L903.5 418.9 L904.3 417.0 L905.0 415.2 L905.8 413.3 L906.6 411.5 L907.3 409.6 L908.1 407.8 L908.9 406.0 L909.7 404.1 L910.5 402.3 L911.3 400.5 L912.1 398.6 L912.9 396.8 L913.7 395.0 L914.4 393.1 L915.1 391.2 L915.7 389.3 L916.4 387.4 L917.0 385.5 L917.6 383.6 L918.2 381.7 L918.8 379.8 L919.4 377.9 L920.0 376.0 L920.6 374.1 L921.2 372.2 L921.8 370.3 L922.3 368.3 L922.9 366.4 L923.5 364.5 L924.1 362.6 L924.7 360.7 L925.3 358.8 L925.8 356.9 L926.4 355.0 L927.0 353.0 L927.6 351.1 L928.3 349.2 L928.9 347.3 L929.5 345.4 L930.1 343.5 L930.8 341.7 L931.5 339.8 L932.1 337.9 L932.8 336.0 L933.5 334.1 L934.2 332.2 L934.9 330.4 L935.6 328.5 L936.4 326.6 L937.1 324.8 L937.8 322.9 L938.6 321.1 L939.4 319.2 L940.1 317.4 L940.9 315.6 L941.7 313.7 L942.6 311.9 L943.4 310.1 L944.2 308.3 L945.1 306.5 L946.0 304.7 L946.9 302.9 L947.8 301.1 L948.8 299.4 L949.8 297.6 L950.8 295.9 L951.8 294.2 L952.8 292.4 L953.8 290.7 L954.8 289.0 L955.8 287.3 L956.8 285.5 L957.8 283.8 L958.8 282.0 L959.7 280.3 L960.7 278.5 L961.6 276.8 L962.6 275.0 L963.5 273.2 L964.5 271.5 L965.4 269.7 L966.4 268.0 L967.4 266.2 L968.4 264.5 L969.4 262.8 L970.4 261.1 L971.5 259.4 L972.5 257.7 L973.6 256.0 L974.7 254.3 L975.8 252.6 L976.9 251.0 L978.0 249.3 L979.2 247.7 L980.3 246.0 L981.5 244.4 L982.6 242.8 L983.8 241.2 L985.0 239.6 L986.3 238.0 L987.5 236.4 L988.7 234.8 L989.9 233.3 L991.2 231.7 L992.4 230.1 L993.7 228.6 L995.0 227.1 L996.4 225.6 L997.7 224.1 L999.1 222.7 L1000.6 221.3 L1002.1 220.0 L1003.6 218.8 L1005.2 217.6 L1006.9 216.5 L1008.6 215.4 L1010.3 214.4 L1012.1 213.5 L1013.9 212.6 L1015.7 211.8 L1017.6 211.0 L1019.4 210.3 L1021.3 209.6 L1023.2 209.0 L1025.1 208.5 L1027.1 208.1 L1029.1 207.9 L1031.1 207.8 L1033.1 207.7 L1035.1 207.7 L1037.0 207.8 L1039.0 208.0 L1041.0 208.3 L1043.0 208.7 L1044.9 209.2 L1046.8 209.8 L1048.7 210.4 L1050.5 211.2 L1052.4 212.0 L1054.1 212.9 L1055.9 213.9 L1057.6 214.9 L1059.3 215.9 L1061.0 217.0 L1062.7 218.1 L1064.3 219.2 L1065.9 220.4 L1067.5 221.6 L1069.1 222.9 L1070.7 224.1 L1072.2 225.4 L1073.7 226.7 L1075.2 228.0 L1076.7 229.4 L1078.2 230.7 L1079.7 232.1 L1081.1 233.4 L1082.6 234.8 L1084.0 236.2 L1085.4 237.6 L1086.8 239.0 L1088.2 240.5 L1089.6 241.9 L1090.9 243.4 L1092.3 244.9 L1093.6 246.4 L1094.9 247.9 L1096.2 249.4 L1097.5 251.0 L1098.7 252.5 L1100.0 254.1 L1101.2 255.6 L1102.5 257.2 L1103.7 258.8 L1104.9 260.4 L1106.1 262.0 L1107.3 263.6 L1108.5 265.2 L1109.7 266.8 L1110.9 268.4 L1112.1 270.0 L1113.4 271.5 L1114.6 273.1 L1115.9 274.7 L1117.1 276.2 L1118.4 277.8 L1119.6 279.3 L1120.9 280.9 L1122.1 282.4 L1123.4 284.0 L1124.7 285.5 L1126.0 287.0 L1127.3 288.5 L1128.6 290.0 L1129.9 291.6 L1131.2 293.1 L1132.5 294.6 L1133.7 296.2 L1134.9 297.8 L1136.1 299.4 L1137.2 301.1 L1138.3 302.8 L1139.3 304.5 L1140.3 306.2 L1141.3 307.9 L1142.4 309.6 L1143.5 311.3 L1144.6 313.0 L1145.7 314.6 L1146.9 316.3 L1148.0 317.9 L1149.2 319.5 L1150.3 321.2 L1151.5 322.8 L1152.7 324.4 L1153.9 326.0 L1155.0 327.6 L1156.2 329.2 L1157.4 330.9 L1158.6 332.4 L1159.8 334.0 L1161.1 335.6 L1162.3 337.2 L1163.5 338.8 L1164.8 340.4 L1166.0 341.9 L1167.2 343.5 L1168.5 345.1 L1169.7 346.7 L1170.9 348.2 L1172.1 349.8 L1173.4 351.4 L1174.6 352.9 L1175.9 354.5 L1177.1 356.1 L1178.3 357.7 L1179.5 359.3 L1180.7 360.9 L1181.9 362.5 L1183.0 364.1 L1184.1 365.8 L1185.1 367.5 L1186.1 369.3 L1187.0 371.1 L1187.9 372.9 L1188.8 374.6 L1189.8 376.4 L1190.8 378.1 L1191.9 379.8 L1193.0 381.4 L1194.2 383.0 L1195.4 384.6 L1196.7 386.2 L1197.9 387.7 L1199.2 389.3 L1200.4 390.9 L1201.7 392.4 L1203.0 393.9 L1204.2 395.5 L1205.5 397.0 L1206.8 398.6 L1208.1 400.1 L1209.3 401.7 L1210.6 403.2 L1211.8 404.8 L1213.1 406.3 L1214.4 407.9 L1215.6 409.4 L1216.9 411.0 L1218.1 412.5 L1219.4 414.1 L1220.7 415.6 L1221.9 417.2 L1223.2 418.7 L1224.5 420.3 L1225.8 421.8 L1227.0 423.4 L1228.3 424.9 L1229.6 426.4 L1230.9 427.9 L1232.2 429.4 L1233.6 430.9 L1234.9 432.4 L1236.2 433.9 L1237.5 435.4 L1238.9 436.9 L1240.2 438.4 L1241.6 439.8 L1243.0 441.3 L1244.3 442.7 L1245.7 444.2 L1247.1 445.6 L1248.5 447.0 L1250.0 448.4 L1251.4 449.8 L1252.8 451.2 L1254.3 452.6 L1255.8 454.0 L1257.2 455.3 L1258.7 456.7 L1260.2 458.0 L1261.7 459.4 L1263.1 460.7 L1264.6 462.0 L1266.1 463.4 L1267.6 464.7 L1269.0 466.1 L1270.5 467.5 L1272.0 468.8 L1273.4 470.2 L1274.8 471.6 L1276.3 473.0 L1277.7 474.4 L1279.2 475.8 L1280.6 477.2 L1282.1 478.5 L1283.5 479.9 L1285.0 481.3 L1286.4 482.6 L1287.9 484.0 L1289.4 485.3 L1290.9 486.6 L1292.5 487.9 L1294.0 489.2 L1295.6 490.4 L1297.1 491.7 L1298.7 492.9 L1300.3 494.1 L1301.9 495.3 L1303.5 496.5 L1305.1 497.6 L1306.8 498.8 L1308.4 499.9 L1310.1 501.1 L1311.7 502.2 L1313.4 503.3 L1315.0 504.4 L1316.7 505.5 L1318.4 506.6 L1320.1 507.7 L1321.8 508.8 L1323.5 509.8 L1325.2 510.9 L1326.9 511.9 L1328.6 512.9 L1330.3 513.9 L1332.1 514.9 L1333.8 515.9 L1335.6 516.8 L1337.3 517.8 L1339.1 518.7 L1340.9 519.7 L1342.6 520.6 L1344.4 521.5 L1346.2 522.4 L1348.0 523.3 L1349.8 524.1 L1351.6 525.0 L1353.4 525.8 L1355.3 526.5 L1357.1 527.3 L1359.0 528.0 L1360.9 528.7 L1362.8 529.4 L1364.7 530.0 L1366.6 530.7 L1368.5 531.3 L1370.4 531.9 L1372.3 532.5 L1374.2 533.0 L1376.1 533.6 L1378.0 534.1 L1380.0 534.7 L1381.9 535.2 L1383.8 535.7 L1385.8 536.3 L1387.7 536.8 L1389.6 537.3 L1391.6 537.8 L1393.5 538.3 L1395.4 538.8 L1397.4 539.2 L1399.3 539.7 L1401.3 540.2 L1403.2 540.6 L1405.2 541.1 L1407.1 541.5 L1409.1 541.9 L1411.0 542.4 L1413.0 542.8 L1415.0 543.1 L1416.9 543.5 L1418.9 543.9 L1420.9 544.2 L1422.8 544.5 L1424.8 544.9 L1426.8 545.2 L1428.8 545.4 L1430.7 545.7 L1432.7 546.0 L1434.7 546.2 L1436.7 546.5 L1438.7 546.7 L1440.7 546.9 L1442.7 547.1 L1444.6 547.3 L1446.6 547.5 L1448.6 547.6 L1450.6 547.8 L1452.6 547.9 L1454.6 548.0 L1456.6 548.0 L1458.6 548.1 L1460.6 548.1 L1462.6 548.2 L1464.6 548.2 L1466.6 548.2 L1468.6 548.2 L1470.6 548.2 L1472.6 548.2 L1474.6 548.2 L1476.6 548.2 L1478.6 548.2 L1480.6 548.2 L1482.6 548.2 L1484.6 548.2 L1486.6 548.2 L1488.6 548.2 L1490.6 548.1 L1492.6 548.0 L1494.6 547.9 L1496.6 547.8 L1498.6 547.6 L1500.6 547.4 L1502.6 547.3 L1504.6 547.1 L1506.6 546.9 L1508.6 546.7 L1510.5 546.5 L1512.5 546.3 L1514.5 546.0 L1516.5 545.8 L1518.5 545.6 L1520.5 545.3 L1522.5 545.1 L1524.4 544.8 L1526.4 544.5 L1528.4 544.3 L1530.4 544.0 L1532.4 543.7 L1534.3 543.4 L1536.3 543.1 L1538.3 542.8 L1540.3 542.5 L1542.2 542.1 L1544.2 541.8 L1546.2 541.5 L1548.2 541.1 L1550.1 540.7 L1552.1 540.4 L1554.1 540.0 L1556.0 539.6 L1558.0 539.2 L1559.9 538.8 L1561.9 538.4 L1563.8 538.0 L1565.8 537.5 L1567.8 537.1 L1569.7 536.7 L1571.7 536.3 L1573.6 535.9 L1575.6 535.5 L1577.6 535.1 L1579.5 534.7 L1581.5 534.3 L1583.4 533.9 L1585.4 533.5 L1587.3 533.0 L1589.3 532.5 L1591.2 532.1 L1593.1 531.5 L1595.1 531.0 L1597.0 530.4 L1598.9 529.8 L1600.8 529.2 L1602.7 528.5 L1604.6 527.9 L1606.4 527.2 L1608.3 526.5 L1610.2 525.8 L1612.1 525.1 L1614.0 524.4 L1615.8 523.7 L1617.7 523.1 L1619.6 522.4 L1621.5 521.7 L1623.4 521.1 L1625.3 520.4 L1627.2 519.8 L1629.0 519.1 L1630.9 518.5 L1632.8 517.8 L1634.7 517.2 L1636.6 516.5 L1638.5 515.8 L1640.4 515.2 L1642.3 514.5 L1644.1 513.8 L1646.0 513.1 L1647.9 512.4 L1649.7 511.7 L1651.6 511.0 L1653.5 510.2 L1655.3 509.5 L1657.2 508.8 L1659.0 508.0 L1660.9 507.3 L1662.8 506.5 L1664.6 505.7 L1666.4 505.0 L1668.3 504.2 L1670.1 503.4 L1672.0 502.6 L1673.8 501.9 L1675.7 501.1 L1677.5 500.3 L1679.3 499.5 L1681.2 498.7 L1683.0 497.9 L1684.8 497.1 L1686.6 496.3 L1688.5 495.4 L1690.3 494.6 L1692.1 493.7 L1693.9 492.8 L1695.7 491.9 L1697.4 491.0 L1699.2 490.1 L1701.0 489.1 L1702.7 488.2 L1704.5 487.3 L1706.3 486.3 L1708.0 485.4 L1709.8 484.4 L1711.5 483.4 L1713.3 482.5 L1715.0 481.5 L1716.8 480.6 L1718.5 479.6 L1720.3 478.6 L1722.1 477.7 L1723.8 476.7 L1725.6 475.8 L1727.4 474.9 L1729.1 473.9 L1730.9 473.0 L1732.7 472.1 L1734.5 471.2 L1736.2 470.3 L1738.0 469.4 L1739.8 468.5 L1741.6 467.6 L1743.4 466.7 L1745.2 465.8 L1747.0 464.9 L1748.8 464.0 L1750.6 463.1 L1752.4 462.3 L1754.2 461.4 L1755.9 460.5 L1757.7 459.6 L1759.5 458.7 L1761.3 457.8 L1763.1 456.9 L1764.9 456.0 L1766.7 455.1 L1768.5 454.2 L1770.3 453.4 L1772.1 452.5 L1773.9 451.6 L1775.6 450.7 L1777.4 449.8 L1779.2 448.9 L1781.0 448.0 L1782.8 447.1 L1784.6 446.2 L1786.4 445.4 L1788.2 444.5 L1790.0 443.6 L1791.8 442.7 L1793.6 441.8 L1795.4 440.9 L1797.1 440.0 L1798.9 439.1 L1800.7 438.3 L1802.5 437.4 L1804.3 436.5 L1806.1 435.6 L1807.9 434.7 L1809.7 433.7 L1811.4 432.8 L1813.2 431.9 L1815.0 431.0 L1816.7 430.0 L1818.5 429.1 L1820.3 428.2 L1822.0 427.2 L1823.8 426.2 L1825.5 425.3 L1827.3 424.3 L1829.0 423.3 L1830.8 422.4 L1832.5 421.4 L1834.3 420.4 L1836.0 419.4 L1837.8 418.5 L1839.5 417.5 L1841.3 416.5 L1843.0 415.6 L1844.8 414.6 L1846.5 413.6 L1848.3 412.7 L1850.0 411.7 L1851.8 410.8 L1853.5 409.8 L1855.3 408.8 L1857.0 407.9 L1858.8 406.9 L1860.5 405.9 L1862.3 405.0 L1864.0 404.0 L1865.8 403.0 L1867.6 402.1 L1869.3 401.1 L1871.1 400.1 L1872.8 399.2 L1874.6 398.2 L1876.3 397.3 L1878.1 396.3 L1879.8 395.4 L1881.6 394.4 L1883.4 393.5 L1885.1 392.5 L1886.9 391.6 L1888.6 390.6 L1890.4 389.7 L1892.2 388.7 L1893.9 387.7 L1895.6 386.7 L1897.4 385.7 L1899.1 384.7 L1900.8 383.7 L1902.6 382.7 L1904.3 381.7 L1906.0 380.7 L1907.7 379.6 L1909.4 378.6 L1911.1 377.5 L1912.8 376.4 L1914.5 375.4 L1916.2 374.3 L1917.9 373.3 L1919.6 372.2 L1921.3 371.1 L1922.9 370.1 L1924.5 369.1 L1925.8 368.3 L1927.0 367.5" stroke="#008080"/>
<path d="M339.5 1360.4 L341.8 1360.4 L343.6 1360.4 L345.5 1360.4 L347.5 1360.4 L349.5 1360.4 L351.5 1360.4 L353.5 1360.4 L355.5 1360.4 L357.5 1360.4 L359.5 1360.4 L361.5 1360.4 L363.5 1360.4 L365.5 1360.5 L367.5 1360.5 L369.5 1360.5 L371.5 1360.5 L373.5 1360.5 L375.5 1360.5 L377.5 1360.5 L379.5 1360.5 L381.5 1360.5 L383.5 1360.5 L385.5 1360.5 L387.5 1360.5 L389.5 1360.5 L391.5 1360.5 L393.5 1360.5 L395.5 1360.5 L397.5 1360.5 L399.5 1360.5 L401.5 1360.5 L403.5 1360.5 L405.5 1360.5 L407.5 1360.5 L409.5 1360.5 L411.5 1360.5 L413.5 1360.5 L415.5 1360.5 L417.5 1360.5 L419.5 1360.5 L421.5 1360.5 L423.5 1360.5 L425.5 1360.5 L427.5 1360.5 L429.5 1360.5 L431.5 1360.5 L433.5 1360.5 L435.5 1360.5 L437.5 1360.5 L439.5 1360.5 L441.5 1360.5 L443.5 1360.5 L445.5 1360.5 L447.5 1360.5 L449.5 1360.5 L451.5 1360.4 L453.5 1360.4 L455.5 1360.4 L457.5 1360.4 L459.5 1360.3 L461.5 1360.3 L463.5 1360.2 L465.3 1360.0 L467.0 1359.6 L468.3 1359.1 L469.8 1358.5 L471.5 1358.1 L473.4 1357.6 L475.3 1357.3 L477.3 1356.8 L479.2 1356.4 L481.2 1356.0 L483.1 1355.5 L485.1 1355.0 L487.0 1354.5 L488.9 1354.0 L490.8 1353.4 L492.8 1352.9 L494.7 1352.3 L496.6 1351.6 L498.4 1351.0 L500.3 1350.3 L502.2 1349.6 L504.0 1348.8 L505.8 1347.9 L507.6 1347.0 L509.4 1346.1 L511.1 1345.1 L512.8 1344.1 L514.5 1343.0 L516.2 1341.9 L517.8 1340.7 L519.4 1339.5 L520.9 1338.3 L522.5 1337.0 L524.0 1335.7 L525.4 1334.3 L526.9 1332.9 L528.3 1331.5 L529.6 1330.0 L531.0 1328.5 L532.2 1327.0 L533.4 1325.4 L534.6 1323.7 L535.6 1322.0 L536.6 1320.3 L537.6 1318.6 L538.5 1316.8 L539.4 1315.0 L540.3 1313.2 L541.1 1311.4 L541.9 1309.6 L542.8 1307.7 L543.6 1305.9 L544.4 1304.1 L545.3 1302.3 L546.1 1300.4 L546.9 1298.6 L547.7 1296.8 L548.5 1295.0 L549.3 1293.1 L550.1 1291.3 L550.9 1289.5 L551.7 1287.6 L552.4 1285.8 L553.2 1283.9 L554.0 1282.1 L554.8 1280.2 L555.5 1278.4 L556.2 1276.5 L557.0 1274.7 L557.7 1272.8 L558.4 1270.9 L559.1 1269.0 L559.8 1267.2 L560.5 1265.3 L561.2 1263.4 L561.9 1261.6 L562.6 1259.7 L563.3 1257.8 L564.1 1256.0 L564.9 1254.1 L565.7 1252.3 L566.5 1250.5 L567.3 1248.6 L568.0 1246.8 L568.8 1244.9 L569.4 1243.0 L570.1 1241.2 L570.7 1239.2 L571.3 1237.3 L571.8 1235.4 L572.3 1233.5 L572.8 1231.5 L573.3 1229.6 L573.8 1227.6 L574.2 1225.7 L574.7 1223.8 L575.2 1221.8 L575.6 1219.9 L576.1 1217.9 L576.6 1216.0 L577.1 1214.0 L577.6 1212.1 L578.1 1210.2 L578.6 1208.2 L579.1 1206.3 L579.6 1204.4 L580.1 1202.4 L580.6 1200.5 L581.1 1198.6 L581.6 1196.6 L582.1 1194.7 L582.6 1192.8 L583.2 1190.8 L583.7 1188.9 L584.2 1187.0 L584.7 1185.0 L585.2 1183.1 L585.7 1181.2 L586.2 1179.2 L586.7 1177.3 L587.2 1175.4 L587.8 1173.4 L588.3 1171.5 L588.8 1169.6 L589.3 1167.6 L589.8 1165.7 L590.3 1163.8 L590.8 1161.8 L591.3 1159.9 L591.8 1158.0 L592.4 1156.0 L592.9 1154.1 L593.4 1152.2 L593.9 1150.2 L594.4 1148.3 L595.0 1146.4 L595.5 1144.4 L596.0 1142.5 L596.6 1140.6 L597.1 1138.7 L597.6 1136.7 L598.1 1134.8 L598.7 1132.9 L599.2 1130.9 L599.7 1129.0 L600.2 1127.1 L600.8 1125.1 L601.3 1123.2 L601.8 1121.3 L602.3 1119.4 L602.8 1117.4 L603.3 1115.5 L603.8 1113.6 L604.3 1111.6 L604.8 1109.7 L605.3 1107.7 L605.8 1105.8 L606.3 1103.9 L606.7 1101.9 L607.2 1100.0 L607.6 1098.0 L607.9 1096.0 L608.2 1094.1 L608.4 1092.1 L608.4 1090.1 L608.4 1088.1 L608.5 1086.1 L608.6 1084.1 L608.8 1082.1 L609.1 1080.1 L609.5 1078.2 L609.8 1076.2 L610.2 1074.2 L610.6 1072.3 L611.0 1070.3 L611.4 1068.4 L611.9 1066.4 L612.3 1064.5 L612.7 1062.5 L613.1 1060.6 L613.6 1058.6 L614.0 1056.6 L614.4 1054.7 L614.9 1052.7 L615.3 1050.8 L615.7 1048.8 L616.2 1046.9 L616.6 1044.9 L617.0 1043.0 L617.4 1041.0 L617.9 1039.1 L618.3 1037.1 L618.7 1035.2 L619.1 1033.2 L619.5 1031.2 L619.9 1029.3 L620.4 1027.3 L620.8 1025.4 L621.2 1023.4 L621.6 1021.5 L622.0 1019.5 L622.5 1017.6 L622.9 1015.6 L623.3 1013.6 L623.7 1011.7 L624.1 1009.7 L624.6 1007.8 L625.0 1005.8 L625.4 1003.9 L625.8 1001.9 L626.2 999.9 L626.6 998.0 L626.9 996.0 L627.3 994.1 L627.7 992.1 L628.1 990.1 L628.4 988.2 L628.8 986.2 L629.1 984.2 L629.4 982.2 L629.8 980.3 L630.1 978.3 L630.4 976.3 L630.7 974.3 L631.0 972.4 L631.3 970.4 L631.5 968.4 L631.8 966.4 L632.1 964.4 L632.4 962.5 L632.6 960.5 L632.9 958.5 L633.2 956.5 L633.4 954.5 L633.7 952.5 L633.9 950.6 L634.2 948.6 L634.4 946.6 L634.7 944.6 L635.0 942.6 L635.2 940.6 L635.5 938.7 L635.7 936.7 L636.0 934.7 L636.2 932.7 L636.5 930.7 L636.7 928.7 L637.0 926.8 L637.2 924.8 L637.5 922.8 L637.8 920.8 L638.0 918.8 L638.3 916.8 L638.6 914.9 L638.8 912.9 L639.1 910.9 L639.4 908.9 L639.7 906.9 L640.0 905.0 L640.3 903.0 L640.6 901.0 L640.9 899.0 L641.2 897.0 L641.5 895.1 L641.8 893.1 L642.1 891.1 L642.4 889.1 L642.7 887.2 L643.0 885.2 L643.3 883.2 L643.7 881.2 L644.0 879.3 L644.3 877.3 L644.6 875.3 L644.9 873.3 L645.2 871.4 L645.5 869.4 L645.8 867.4 L646.1 865.4 L646.4 863.5 L646.7 861.5 L647.0 859.5 L647.3 857.5 L647.6 855.5 L647.9 853.6 L648.1 851.6 L648.4 849.6 L648.7 847.6 L648.9 845.6 L649.2 843.6 L649.4 841.7 L649.6 839.7 L649.9 837.7 L650.1 835.7 L650.3 833.7 L650.5 831.7 L650.7 829.7 L650.9 827.7 L651.1 825.8 L651.3 823.8 L651.5 821.8 L651.7 819.8 L651.9 817.8 L652.1 815.8 L652.3 813.8 L652.5 811.8 L652.7 809.8 L652.9 807.8 L653.0 805.8 L653.2 803.9 L653.4 801.9 L653.6 799.9 L653.8 797.9 L654.0 795.9 L654.2 793.9 L654.4 791.9 L654.6 789.9 L654.8 787.9 L655.0 785.9 L655.2 784.0 L655.4 782.0 L655.6 780.0 L655.8 778.0 L656.0 776.0 L656.3 774.0 L656.5 772.0 L656.7 770.0 L657.0 768.1 L657.2 766.1 L657.4 764.1 L657.7 762.1 L657.9 760.1 L658.2 758.1 L658.4 756.1 L658.7 754.2 L658.9 752.2 L659.2 750.2 L659.4 748.2 L659.7 746.2 L660.0 744.2 L660.2 742.3 L660.5 740.3 L660.7 738.3 L661.0 736.3 L661.3 734.3 L661.5 732.3 L661.8 730.4 L662.0 728.4 L662.3 726.4 L662.5 724.4 L662.8 722.4 L663.1 720.4 L663.3 718.5 L663.6 716.5 L663.8 714.5 L664.0 712.5 L664.3 710.5 L664.5 708.5 L664.8 706.5 L665.0 704.6 L665.2 702.6 L665.4 700.6 L665.6 698.6 L665.9 696.6 L666.1 694.6 L666.3 692.6 L666.4 690.6 L666.6 688.6 L666.8 686.7 L667.0 684.7 L667.2 682.7 L667.3 680.7 L667.5 678.7 L667.7 676.7 L667.8 674.7 L668.0 672.7 L668.1 670.7 L668.3 668.7 L668.4 666.7 L668.6 664.7 L668.7 662.7 L668.9 660.7 L669.0 658.7 L669.2 656.7 L669.3 654.8 L669.5 652.8 L669.7 650.8 L669.9 648.8 L670.0 646.8 L670.2 644.8 L670.4 642.8 L670.6 640.8 L670.8 638.8 L671.1 636.8 L671.3 634.8 L671.5 632.9 L671.7 630.9 L672.0 628.9 L672.2 626.9 L672.4 624.9 L672.7 622.9 L672.9 620.9 L673.1 619.0 L673.4 617.0 L673.6 615.0 L673.9 613.0 L674.1 611.0 L674.3 609.0 L674.5 607.0 L674.8 605.0 L675.0 603.1 L675.2 601.1 L675.4 599.1 L675.6 597.1 L675.9 595.1 L676.1 593.1 L676.3 591.1 L676.5 589.1 L676.8 587.2 L677.0 585.2 L677.2 583.2 L677.4 581.2 L677.7 579.2 L677.9 577.2 L678.1 575.2 L678.4 573.3 L678.6 571.3 L678.9 569.3 L679.1 567.3 L679.4 565.3 L679.7 563.3 L679.9 561.4 L680.2 559.4 L680.5 557.4 L680.7 555.4 L681.0 553.4 L681.3 551.4 L681.6 549.5 L681.8 547.5 L682.1 545.5 L682.4 543.5 L682.7 541.5 L682.9 539.6 L683.2 537.6 L683.5 535.6 L683.7 533.6 L684.0 531.6 L684.3 529.7 L684.5 527.7 L684.8 525.7 L685.0 523.7 L685.3 521.7 L685.5 519.7 L685.8 517.7 L686.0 515.8 L686.2 513.8 L686.5 511.8 L686.7 509.8 L686.9 507.8 L687.1 505.8 L687.4 503.8 L687.6 501.8 L687.8 499.9 L688.0 497.9 L688.3 495.9 L688.5 493.9 L688.7 491.9 L689.0 489.9 L689.2 487.9 L689.4 486.0 L689.7 484.0 L689.9 482.0 L690.1 480.0 L690.3 478.0 L690.6 476.0 L690.8 474.0 L691.0 472.0 L691.3 470.1 L691.5 468.1 L691.7 466.1 L692.0 464.1 L692.2 462.1 L692.4 460.1 L692.7 458.1 L692.9 456.2 L693.2 454.2 L693.4 452.2 L693.7 450.2 L694.0 448.2 L694.2 446.2 L694.5 444.3 L694.8 442.3 L695.1 440.3 L695.3 438.3 L695.6 436.3 L695.9 434.4 L696.2 432.4 L696.5 430.4 L696.9 428.4 L697.2 426.5 L697.5 424.5 L697.8 422.5 L698.2 420.5 L698.5 418.6 L698.9 416.6 L699.2 414.6 L699.6 412.7 L699.9 410.7 L700.3 408.7 L700.7 406.8 L701.0 404.8 L701.4 402.8 L701.8 400.9 L702.2 398.9 L702.6 397.0 L703.0 395.0 L703.5 393.1 L703.9 391.1 L704.4 389.2 L704.9 387.2 L705.5 385.3 L706.1 383.4 L706.7 381.5 L707.5 379.7 L708.3 377.8 L709.2 376.0 L710.2 374.3 L711.2 372.6 L712.4 371.0 L713.7 369.5 L715.1 368.2 L716.7 367.0 L718.4 366.3 L720.2 366.2 L721.9 366.7 L723.5 367.7 L724.9 369.0 L726.2 370.6 L727.4 372.2 L728.6 373.8 L729.7 375.5 L730.7 377.2 L731.8 378.9 L732.7 380.6 L733.6 382.4 L734.5 384.2 L735.4 386.0 L736.2 387.8 L737.0 389.6 L737.8 391.5 L738.6 393.3 L739.3 395.2 L740.0 397.1 L740.7 399.0 L741.3 400.8 L742.0 402.7 L742.6 404.6 L743.3 406.5 L743.9 408.4 L744.5 410.3 L745.1 412.2 L745.7 414.1 L746.3 416.1 L746.9 418.0 L747.4 419.9 L748.0 421.8 L748.6 423.7 L749.1 425.6 L749.7 427.6 L750.2 429.5 L750.8 431.4 L751.3 433.3 L751.8 435.3 L752.4 437.2 L752.9 439.1 L753.4 441.1 L753.9 443.0 L754.4 444.9 L754.9 446.9 L755.4 448.8 L756.0 450.7 L756.5 452.7 L757.0 454.6 L757.5 456.5 L758.0 458.5 L758.5 460.4 L759.0 462.3 L759.4 464.3 L759.9 466.2 L760.4 468.2 L760.9 470.1 L761.4 472.0 L761.9 474.0 L762.3 475.9 L762.8 477.9 L763.3 479.8 L763.8 481.8 L764.3 483.7 L764.7 485.6 L765.2 487.6 L765.7 489.5 L766.2 491.5 L766.7 493.4 L767.1 495.3 L767.6 497.3 L768.1 499.2 L768.6 501.2 L769.0 503.1 L769.5 505.1 L769.9 507.0 L770.4 509.0 L770.9 510.9 L771.4 512.8 L771.8 514.8 L772.4 516.7 L772.9 518.7 L773.4 520.6 L773.9 522.5 L774.5 524.4 L775.1 526.3 L775.6 528.3 L776.2 530.2 L776.8 532.1 L777.4 534.0 L778.0 535.9 L778.7 537.8 L779.3 539.7 L779.9 541.6 L780.6 543.5 L781.2 545.4 L781.9 547.3 L782.5 549.1 L783.2 551.0 L783.9 552.9 L784.6 554.8 L785.3 556.7 L786.0 558.5 L786.8 560.4 L787.6 562.2 L788.4 564.0 L789.2 565.9 L790.0 567.7 L790.8 569.5 L791.7 571.3 L792.5 573.1 L793.4 574.9 L794.3 576.7 L795.1 578.6 L796.0 580.4 L796.8 582.2 L797.7 584.0 L798.6 585.8 L799.5 587.6 L800.4 589.3 L801.3 591.1 L802.2 592.9 L803.2 594.6 L804.2 596.4 L805.2 598.1 L806.1 599.9 L807.1 601.6 L808.2 603.3 L809.2 605.0 L810.2 606.8 L811.2 608.5 L812.2 610.2 L813.3 611.9 L814.3 613.6 L815.3 615.3 L816.4 617.0 L817.5 618.7 L818.6 620.4 L819.8 621.9 L821.1 623.5 L822.4 624.9 L823.9 626.3 L825.4 627.7 L826.9 629.0 L828.5 630.2 L830.1 631.4 L831.7 632.5 L833.4 633.6 L835.1 634.7 L836.8 635.7 L838.5 636.7 L840.4 637.5 L842.2 638.2 L844.1 638.8 L846.0 639.3 L848.0 639.8 L849.9 640.2 L851.9 640.5 L853.9 640.7 L855.9 640.9 L857.9 640.9 L859.9 640.9 L861.9 640.7 L863.8 640.4 L865.8 640.0 L867.7 639.5 L869.6 638.8 L871.4 638.1 L873.2 637.1 L874.9 636.0 L876.5 634.9 L878.0 633.6 L879.6 632.3 L881.1 631.1 L882.7 629.8 L884.2 628.5 L885.7 627.2 L887.2 625.9 L888.7 624.5 L890.1 623.1 L891.5 621.7 L892.9 620.3 L894.3 618.8 L895.6 617.4 L897.0 615.9 L898.3 614.4 L899.7 612.9 L901.1 611.5 L902.6 610.2 L904.1 608.9 L905.5 607.5 L906.9 606.0 L908.2 604.5 L909.4 602.9 L910.5 601.3 L911.6 599.6 L912.7 597.9 L913.7 596.2 L914.8 594.5 L915.8 592.8 L916.8 591.0 L917.8 589.3 L918.8 587.6 L919.8 585.9 L920.8 584.1 L921.8 582.4 L922.8 580.6 L923.7 578.9 L924.7 577.1 L925.7 575.4 L926.6 573.6 L927.6 571.9 L928.6 570.1 L929.5 568.4 L930.5 566.6 L931.4 564.9 L932.4 563.1 L933.3 561.3 L934.3 559.6 L935.2 557.8 L936.1 556.0 L937.1 554.3 L938.0 552.5 L938.9 550.7 L939.8 548.9 L940.7 547.2 L941.6 545.4 L942.5 543.6 L943.4 541.8 L944.2 540.0 L945.1 538.2 L945.9 536.3 L946.7 534.5 L947.6 532.7 L948.4 530.9 L949.2 529.0 L949.9 527.2 L950.7 525.3 L951.5 523.5 L952.3 521.7 L953.0 519.8 L953.8 518.0 L954.5 516.1 L955.3 514.2 L956.0 512.4 L956.8 510.5 L957.5 508.7 L958.3 506.8 L959.1 505.0 L959.8 503.1 L960.6 501.3 L961.4 499.5 L962.2 497.6 L963.0 495.8 L963.8 494.0 L964.6 492.1 L965.5 490.3 L966.3 488.5 L967.1 486.7 L968.0 484.9 L968.8 483.1 L969.7 481.3 L970.5 479.5 L971.4 477.6 L972.3 475.8 L973.1 474.0 L974.0 472.2 L974.8 470.4 L975.7 468.6 L976.5 466.8 L977.4 465.0 L978.2 463.2 L979.1 461.4 L979.9 459.6 L980.8 457.7 L981.6 455.9 L982.4 454.1 L983.3 452.3 L984.1 450.5 L984.9 448.6 L985.7 446.8 L986.5 445.0 L987.3 443.1 L988.1 441.3 L988.9 439.5 L989.7 437.6 L990.5 435.8 L991.3 434.0 L992.1 432.1 L992.9 430.3 L993.7 428.5 L994.5 426.6 L995.3 424.8 L996.1 423.0 L996.9 421.2 L997.8 419.3 L998.6 417.5 L999.4 415.7 L1000.3 413.9 L1001.1 412.1 L1002.0 410.3 L1002.8 408.5 L1003.7 406.6 L1004.5 404.8 L1005.4 403.0 L1006.2 401.2 L1007.1 399.4 L1007.9 397.6 L1008.8 395.8 L1009.6 394.0 L1010.5 392.2 L1011.3 390.3 L1012.1 388.5 L1013.0 386.7 L1013.8 384.9 L1014.6 383.0 L1015.4 381.2 L1016.2 379.4 L1017.0 377.6 L1017.8 375.7 L1018.6 373.9 L1019.4 372.1 L1020.2 370.2 L1021.0 368.4 L1021.8 366.6 L1022.6 364.7 L1023.4 362.9 L1024.2 361.1 L1025.0 359.2 L1025.8 357.4 L1026.6 355.6 L1027.5 353.7 L1028.3 351.9 L1029.1 350.1 L1029.9 348.3 L1030.7 346.5 L1031.6 344.6 L1032.4 342.8 L1033.2 341.0 L1034.1 339.2 L1034.9 337.4 L1035.7 335.5 L1036.6 333.7 L1037.4 331.9 L1038.3 330.1 L1039.1 328.3 L1039.9 326.5 L1040.8 324.7 L1041.6 322.8 L1042.5 321.0 L1043.3 319.2 L1044.2 317.4 L1045.0 315.6 L1045.9 313.8 L1046.7 312.0 L1047.6 310.2 L1048.4 308.4 L1049.3 306.6 L1050.1 304.7 L1051.0 302.9 L1051.9 301.1 L1052.8 299.3 L1053.6 297.5 L1054.5 295.7 L1055.4 293.9 L1056.3 292.2 L1057.1 290.4 L1058.0 288.6 L1058.9 286.8 L1059.8 285.0 L1060.7 283.2 L1061.6 281.4 L1062.5 279.6 L1063.4 277.8 L1064.3 276.1 L1065.2 274.3 L1066.2 272.5 L1067.1 270.7 L1068.0 269.0 L1069.0 267.2 L1069.9 265.4 L1070.8 263.7 L1071.8 261.9 L1072.7 260.1 L1073.7 258.4 L1074.6 256.6 L1075.6 254.9 L1076.6 253.1 L1077.6 251.4 L1078.6 249.7 L1079.7 248.0 L1080.7 246.3 L1081.8 244.6 L1082.9 242.9 L1084.0 241.3 L1085.1 239.6 L1086.3 238.0 L1087.4 236.3 L1088.6 234.7 L1089.8 233.1 L1091.1 231.6 L1092.3 230.0 L1093.6 228.5 L1094.9 226.9 L1096.2 225.5 L1097.6 224.0 L1099.0 222.6 L1100.4 221.1 L1101.8 219.7 L1103.3 218.4 L1104.7 217.0 L1106.2 215.6 L1107.7 214.3 L1109.1 212.9 L1110.6 211.6 L1112.0 210.2 L1113.5 208.8 L1115.0 207.5 L1116.5 206.1 L1118.0 204.8 L1119.6 203.6 L1121.2 202.4 L1122.8 201.3 L1124.6 200.4 L1126.4 199.5 L1128.2 198.7 L1130.1 198.1 L1132.0 197.5 L1133.9 196.9 L1135.9 196.5 L1137.8 196.0 L1139.8 195.7 L1141.8 195.3 L1143.7 195.0 L1145.7 194.7 L1147.7 194.6 L1149.7 194.5 L1151.7 194.5 L1153.7 194.7 L1155.7 194.9 L1157.7 195.2 L1159.6 195.5 L1161.6 195.9 L1163.5 196.3 L1165.5 196.8 L1167.4 197.3 L1169.3 197.9 L1171.2 198.5 L1173.1 199.2 L1174.9 200.0 L1176.7 200.9 L1178.5 201.8 L1180.3 202.7 L1182.0 203.7 L1183.8 204.6 L1185.6 205.4 L1187.5 206.1 L1189.4 206.7 L1191.3 207.2 L1193.3 207.7 L1195.2 208.2 L1197.1 208.9 L1198.9 209.6 L1200.7 210.5 L1202.5 211.5 L1204.1 212.5 L1205.8 213.7 L1207.4 214.8 L1209.0 216.1 L1210.6 217.3 L1212.1 218.6 L1213.7 219.8 L1215.2 221.1 L1216.7 222.4 L1218.2 223.8 L1219.7 225.1 L1221.1 226.5 L1222.6 227.8 L1224.0 229.2 L1225.5 230.6 L1226.9 232.0 L1228.4 233.4 L1229.8 234.8 L1231.2 236.2 L1232.6 237.6 L1234.0 239.1 L1235.4 240.5 L1236.7 242.0 L1238.1 243.4 L1239.5 244.9 L1240.8 246.4 L1242.1 247.9 L1243.5 249.4 L1244.8 250.8 L1246.1 252.3 L1247.5 253.8 L1248.8 255.3 L1250.2 256.8 L1251.5 258.3 L1252.9 259.8 L1254.2 261.3 L1255.5 262.8 L1256.7 264.3 L1258.0 265.9 L1259.2 267.5 L1260.3 269.1 L1261.4 270.8 L1262.4 272.5 L1263.3 274.3 L1264.3 276.1 L1265.1 277.9 L1266.0 279.7 L1266.8 281.5 L1267.6 283.3 L1268.5 285.2 L1269.3 287.0 L1270.2 288.7 L1271.2 290.5 L1272.1 292.3 L1273.1 294.0 L1274.1 295.7 L1275.1 297.4 L1276.2 299.2 L1277.2 300.9 L1278.3 302.6 L1279.3 304.3 L1280.4 305.9 L1281.5 307.6 L1282.7 309.3 L1283.8 310.9 L1285.0 312.5 L1286.1 314.2 L1287.3 315.8 L1288.5 317.3 L1289.8 318.9 L1291.0 320.5 L1292.3 322.0 L1293.6 323.6 L1294.8 325.1 L1296.1 326.6 L1297.4 328.2 L1298.7 329.7 L1299.9 331.3 L1301.2 332.8 L1302.4 334.4 L1303.7 336.0 L1304.9 337.6 L1306.1 339.1 L1307.4 340.7 L1308.6 342.3 L1309.8 343.8 L1311.1 345.4 L1312.3 347.0 L1313.6 348.5 L1314.8 350.1 L1316.1 351.6 L1317.4 353.2 L1318.7 354.7 L1320.0 356.2 L1321.3 357.7 L1322.6 359.2 L1323.9 360.7 L1325.3 362.2 L1326.6 363.7 L1327.9 365.2 L1329.3 366.7 L1330.6 368.2 L1331.9 369.7 L1333.2 371.3 L1334.4 372.8 L1335.7 374.4 L1336.9 375.9 L1338.1 377.5 L1339.3 379.2 L1340.5 380.8 L1341.6 382.4 L1342.8 384.0 L1344.0 385.6 L1345.2 387.2 L1346.5 388.8 L1347.7 390.3 L1349.0 391.9 L1350.3 393.4 L1351.6 394.9 L1352.9 396.4 L1354.2 397.9 L1355.5 399.4 L1356.9 400.9 L1358.2 402.4 L1359.6 403.9 L1360.9 405.3 L1362.3 406.8 L1363.6 408.3 L1365.0 409.8 L1366.3 411.2 L1367.7 412.7 L1369.1 414.2 L1370.4 415.6 L1371.8 417.1 L1373.2 418.5 L1374.5 420.0 L1375.9 421.4 L1377.3 422.9 L1378.7 424.3 L1380.1 425.8 L1381.5 427.2 L1382.9 428.6 L1384.3 430.0 L1385.8 431.4 L1387.3 432.7 L1388.8 434.0 L1390.3 435.4 L1391.8 436.7 L1393.3 438.0 L1394.8 439.3 L1396.3 440.6 L1397.8 441.9 L1399.3 443.3 L1400.8 444.6 L1402.2 446.0 L1403.7 447.3 L1405.2 448.7 L1406.7 450.0 L1408.2 451.3 L1409.7 452.4 L1411.0 452.9 L1412.1 452.5 L1412.9 451.3 L1413.6 449.6 L1414.6 448.1 L1415.8 447.1 L1417.4 447.0 L1419.0 447.6 L1420.5 448.8 L1422.0 450.1 L1423.4 451.6 L1424.7 453.0 L1426.0 454.6 L1427.2 456.1 L1428.4 457.8 L1429.5 459.4 L1430.5 461.2 L1431.4 462.9 L1432.3 464.7 L1433.1 466.5 L1434.0 468.3 L1434.9 470.1 L1436.0 471.8 L1437.1 473.5 L1438.3 475.0 L1439.7 476.4 L1441.2 477.7 L1442.8 478.9 L1444.5 480.0 L1446.2 481.1 L1447.9 482.2 L1449.5 483.3 L1451.2 484.4 L1452.8 485.6 L1454.4 486.8 L1456.0 487.9 L1457.7 489.1 L1459.3 490.2 L1461.0 491.4 L1462.6 492.5 L1464.3 493.6 L1466.0 494.7 L1467.6 495.8 L1469.3 496.8 L1471.0 497.9 L1472.7 499.0 L1474.4 500.0 L1476.1 501.1 L1477.8 502.2 L1479.5 503.2 L1481.2 504.2 L1482.9 505.3 L1484.6 506.3 L1486.4 507.3 L1488.1 508.3 L1489.9 509.2 L1491.6 510.2 L1493.4 511.1 L1495.2 512.0 L1497.0 512.8 L1498.8 513.7 L1500.7 514.5 L1502.5 515.3 L1504.3 516.1 L1506.2 516.9 L1508.0 517.7 L1509.8 518.4 L1511.7 519.2 L1513.5 520.0 L1515.4 520.7 L1517.2 521.5 L1519.1 522.3 L1520.9 523.0 L1522.8 523.7 L1524.7 524.4 L1526.5 525.2 L1528.4 525.9 L1530.3 526.5 L1532.2 527.2 L1534.1 527.9 L1536.0 528.5 L1537.9 529.1 L1539.8 529.7 L1541.7 530.3 L1543.6 530.9 L1545.5 531.5 L1547.4 532.0 L1549.3 532.6 L1551.3 533.1 L1553.2 533.7 L1555.1 534.2 L1557.1 534.7 L1559.0 535.2 L1560.9 535.7 L1562.9 536.2 L1564.8 536.7 L1566.7 537.2 L1568.7 537.7 L1570.6 538.1 L1572.6 538.6 L1574.5 539.0 L1576.5 539.4 L1578.5 539.7 L1580.4 540.1 L1582.4 540.4 L1584.4 540.7 L1586.4 540.9 L1588.4 541.1 L1590.4 541.3 L1592.4 541.4 L1594.4 541.6 L1596.3 541.7 L1598.3 541.8 L1600.3 541.9 L1602.3 542.0 L1604.3 542.1 L1606.3 542.2 L1608.3 542.4 L1610.3 542.5 L1612.3 542.6 L1614.3 542.8 L1616.3 542.9 L1618.3 543.0 L1620.3 543.1 L1622.3 543.2 L1624.3 543.3 L1626.3 543.4 L1628.3 543.5 L1630.3 543.6 L1632.3 543.6 L1634.3 543.6 L1636.3 543.6 L1638.3 543.6 L1640.3 543.5 L1642.3 543.5 L1644.3 543.4 L1646.3 543.3 L1648.3 543.3 L1650.3 543.2 L1652.3 543.1 L1654.3 543.0 L1656.3 542.9 L1658.3 542.9 L1660.3 542.8 L1662.3 542.7 L1664.3 542.6 L1666.3 542.5 L1668.3 542.4 L1670.3 542.3 L1672.3 542.2 L1674.3 542.1 L1676.3 542.0 L1678.3 541.9 L1680.3 541.8 L1682.3 541.7 L1684.2 541.6 L1686.2 541.5 L1688.2 541.4 L1690.2 541.2 L1692.2 541.1 L1694.2 541.0 L1696.2 540.9 L1698.2 540.7 L1700.2 540.6 L1702.2 540.4 L1704.2 540.3 L1706.2 540.1 L1708.2 539.9 L1710.2 539.7 L1712.2 539.5 L1714.2 539.2 L1716.1 539.0 L1718.1 538.7 L1720.1 538.5 L1722.1 538.2 L1724.1 537.8 L1726.0 537.5 L1728.0 537.1 L1729.9 536.7 L1731.9 536.3 L1733.8 535.8 L1735.8 535.4 L1737.7 534.9 L1739.7 534.4 L1741.6 533.9 L1743.5 533.4 L1745.5 532.9 L1747.4 532.4 L1749.4 531.9 L1751.3 531.4 L1753.2 530.9 L1755.2 530.4 L1757.1 529.9 L1759.0 529.4 L1761.0 528.9 L1762.9 528.5 L1764.9 528.0 L1766.8 527.5 L1768.8 527.1 L1770.7 526.6 L1772.7 526.1 L1774.6 525.7 L1776.5 525.2 L1778.5 524.7 L1780.4 524.2 L1782.3 523.7 L1784.3 523.2 L1786.2 522.7 L1788.1 522.1 L1790.1 521.6 L1792.0 521.0 L1793.9 520.5 L1795.8 519.9 L1797.7 519.3 L1799.7 518.8 L1801.6 518.2 L1803.5 517.6 L1805.4 517.0 L1807.3 516.4 L1809.2 515.8 L1811.1 515.2 L1813.0 514.6 L1814.9 514.0 L1816.8 513.3 L1818.7 512.7 L1820.6 512.0 L1822.5 511.4 L1824.4 510.7 L1826.3 510.1 L1828.2 509.4 L1830.0 508.7 L1831.9 508.1 L1833.8 507.4 L1835.7 506.7 L1837.6 506.0 L1839.5 505.4 L1841.3 504.7 L1843.2 504.1 L1845.1 503.4 L1847.0 502.7 L1848.9 502.1 L1850.8 501.4 L1852.7 500.8 L1854.6 500.1 L1856.5 499.4 L1858.3 498.8 L1860.2 498.1 L1862.1 497.5 L1864.0 496.8 L1865.9 496.1 L1867.8 495.5 L1869.7 494.8 L1871.5 494.1 L1873.4 493.4 L1875.3 492.7 L1877.2 492.1 L1879.1 491.4 L1880.9 490.7 L1882.8 490.0 L1884.7 489.3 L1886.6 488.6 L1888.4 487.9 L1890.3 487.2 L1892.2 486.5 L1894.0 485.8 L1895.9 485.0 L1897.8 484.3 L1899.6 483.6 L1901.5 482.9 L1903.4 482.1 L1905.2 481.4 L1907.1 480.6 L1908.9 479.9 L1910.8 479.1 L1912.6 478.4 L1914.5 477.6 L1916.3 476.9 L1918.2 476.1 L1920.0 475.4 L1921.9 474.6 L1923.7 473.9 L1925.2 473.2 L1927.0 472.5" stroke="#f0f"/>
<path d="M339.5 1360.4 L341.8 1360.4 L343.6 1360.4 L345.5 1360.4 L347.5 1360.4 L349.5 1360.4 L351.5 1360.4 L353.5 1360.4 L355.5 1360.4 L357.5 1360.4 L359.5 1360.4 L361.5 1360.4 L363.5 1360.4 L365.5 1360.4 L367.5 1360.5 L369.5 1360.5 L371.5 1360.5 L373.5 1360.5 L375.5 1360.5 L377.5 1360.5 L379.5 1360.5 L381.5 1360.5 L383.5 1360.5 L385.5 1360.5 L387.5 1360.5 L389.5 1360.5 L391.5 1360.5 L393.5 1360.5 L395.5 1360.5 L397.5 1360.5 L399.5 1360.5 L401.5 1360.5 L403.5 1360.5 L405.5 1360.5 L407.5 1360.5 L409.5 1360.5 L411.5 1360.5 L413.5 1360.5 L415.5 1360.5 L417.5 1360.5 L419.5 1360.5 L421.5 1360.5 L423.5 1360.5 L425.5 1360.5 L427.5 1360.5 L429.5 1360.5 L431.5 1360.5 L433.5 1360.5 L435.5 1360.5 L437.5 1360.5 L439.5 1360.5 L441.5 1360.5 L443.5 1360.5 L445.5 1360.5 L447.5 1360.5 L449.5 1360.5 L451.5 1360.5 L453.5 1360.4 L455.5 1360.4 L457.5 1360.4 L459.5 1360.4 L461.5 1360.3 L463.5 1360.3 L465.5 1360.2 L467.4 1360.0 L469.0 1359.8 L470.4 1359.3 L471.6 1358.7 L473.1 1358.2 L474.9 1357.8 L476.9 1357.4 L478.8 1357.0 L480.8 1356.5 L482.7 1356.1 L484.7 1355.6 L486.6 1355.1 L488.5 1354.6 L490.5 1354.1 L492.4 1353.5 L494.3 1352.9 L496.2 1352.3 L498.1 1351.6 L500.0 1350.9 L501.8 1350.2 L503.7 1349.5 L505.5 1348.6 L507.3 1347.8 L509.1 1346.9 L510.8 1345.9 L512.6 1344.9 L514.3 1343.9 L515.9 1342.8 L517.6 1341.6 L519.2 1340.5 L520.8 1339.2 L522.3 1338.0 L523.9 1336.7 L525.4 1335.4 L526.8 1334.0 L528.2 1332.6 L529.6 1331.2 L531.0 1329.7 L532.3 1328.2 L533.5 1326.6 L534.7 1325.0 L535.8 1323.4 L536.9 1321.7 L537.9 1319.9 L538.8 1318.2 L539.7 1316.4 L540.6 1314.6 L541.4 1312.8 L542.3 1310.9 L543.1 1309.1 L543.9 1307.3 L544.7 1305.5 L545.6 1303.7 L546.4 1301.8 L547.2 1300.0 L548.0 1298.2 L548.8 1296.3 L549.6 1294.5 L550.4 1292.7 L551.2 1290.9 L552.0 1289.0 L552.8 1287.2 L553.6 1285.3 L554.4 1283.5 L555.1 1281.7 L555.9 1279.8 L556.7 1277.9 L557.4 1276.1 L558.1 1274.2 L558.8 1272.4 L559.6 1270.5 L560.3 1268.6 L561.0 1266.8 L561.7 1264.9 L562.4 1263.0 L563.1 1261.1 L563.8 1259.3 L564.5 1257.4 L565.3 1255.6 L566.1 1253.7 L566.8 1251.9 L567.6 1250.0 L568.4 1248.2 L569.1 1246.3 L569.9 1244.5 L570.5 1242.6 L571.2 1240.7 L571.7 1238.8 L572.3 1236.9 L572.8 1234.9 L573.3 1233.0 L573.8 1231.1 L574.3 1229.1 L574.8 1227.2 L575.3 1225.2 L575.7 1223.3 L576.2 1221.3 L576.7 1219.4 L577.2 1217.5 L577.7 1215.5 L578.2 1213.6 L578.7 1211.7 L579.2 1209.7 L579.7 1207.8 L580.2 1205.9 L580.8 1203.9 L581.3 1202.0 L581.8 1200.1 L582.3 1198.1 L582.9 1196.2 L583.4 1194.3 L583.9 1192.3 L584.4 1190.4 L585.0 1188.5 L585.5 1186.6 L586.0 1184.6 L586.5 1182.7 L587.1 1180.8 L587.6 1178.8 L588.1 1176.9 L588.7 1175.0 L589.2 1173.1 L589.7 1171.1 L590.2 1169.2 L590.8 1167.3 L591.3 1165.3 L591.9 1163.4 L592.4 1161.5 L592.9 1159.6 L593.5 1157.6 L594.0 1155.7 L594.6 1153.8 L595.1 1151.9 L595.7 1149.9 L596.2 1148.0 L596.8 1146.1 L597.3 1144.2 L597.9 1142.3 L598.4 1140.3 L599.0 1138.4 L599.6 1136.5 L600.1 1134.6 L600.7 1132.7 L601.2 1130.7 L601.8 1128.8 L602.4 1126.9 L602.9 1125.0 L603.5 1123.1 L604.0 1121.1 L604.6 1119.2 L605.1 1117.3 L605.7 1115.4 L606.2 1113.4 L606.8 1111.5 L607.3 1109.6 L607.8 1107.7 L608.3 1105.7 L608.8 1103.8 L609.3 1101.8 L609.8 1099.9 L610.2 1098.0 L610.6 1096.0 L610.9 1094.0 L611.1 1092.0 L611.2 1090.0 L611.2 1088.1 L611.3 1086.1 L611.5 1084.1 L611.8 1082.1 L612.1 1080.1 L612.5 1078.2 L612.9 1076.2 L613.4 1074.3 L613.8 1072.3 L614.3 1070.4 L614.8 1068.4 L615.2 1066.5 L615.7 1064.5 L616.2 1062.6 L616.7 1060.7 L617.2 1058.7 L617.6 1056.8 L618.1 1054.8 L618.6 1052.9 L619.1 1051.0 L619.6 1049.0 L620.1 1047.1 L620.5 1045.1 L621.0 1043.2 L621.5 1041.2 L622.0 1039.3 L622.4 1037.4 L622.9 1035.4 L623.3 1033.5 L623.8 1031.5 L624.2 1029.6 L624.6 1027.6 L625.1 1025.7 L625.5 1023.7 L625.9 1021.7 L626.4 1019.8 L626.8 1017.8 L627.2 1015.9 L627.6 1013.9 L628.1 1012.0 L628.5 1010.0 L628.9 1008.1 L629.3 1006.1 L629.7 1004.2 L630.1 1002.2 L630.5 1000.2 L630.9 998.3 L631.3 996.3 L631.6 994.3 L632.0 992.4 L632.3 990.4 L632.7 988.4 L633.0 986.5 L633.4 984.5 L633.7 982.5 L634.0 980.5 L634.3 978.6 L634.6 976.6 L634.9 974.6 L635.2 972.6 L635.5 970.7 L635.8 968.7 L636.0 966.7 L636.3 964.7 L636.5 962.7 L636.8 960.7 L637.1 958.8 L637.3 956.8 L637.6 954.8 L637.8 952.8 L638.0 950.8 L638.3 948.8 L638.5 946.8 L638.8 944.9 L639.0 942.9 L639.2 940.9 L639.5 938.9 L639.7 936.9 L640.0 934.9 L640.2 932.9 L640.4 931.0 L640.7 929.0 L640.9 927.0 L641.2 925.0 L641.4 923.0 L641.7 921.0 L641.9 919.1 L642.2 917.1 L642.4 915.1 L642.7 913.1 L643.0 911.1 L643.3 909.1 L643.5 907.2 L643.8 905.2 L644.1 903.2 L644.4 901.2 L644.7 899.2 L645.0 897.3 L645.3 895.3 L645.6 893.3 L645.9 891.3 L646.2 889.4 L646.5 887.4 L646.8 885.4 L647.1 883.4 L647.4 881.5 L647.7 879.5 L648.1 877.5 L648.4 875.5 L648.7 873.6 L649.0 871.6 L649.3 869.6 L649.6 867.6 L649.9 865.6 L650.2 863.7 L650.5 861.7 L650.8 859.7 L651.1 857.7 L651.3 855.8 L651.6 853.8 L651.9 851.8 L652.2 849.8 L652.4 847.8 L652.7 845.8 L652.9 843.9 L653.2 841.9 L653.4 839.9 L653.7 837.9 L653.9 835.9 L654.1 833.9 L654.4 831.9 L654.6 830.0 L654.8 828.0 L655.0 826.0 L655.2 824.0 L655.4 822.0 L655.6 820.0 L655.8 818.0 L656.0 816.0 L656.2 814.0 L656.4 812.1 L656.6 810.1 L656.8 808.1 L657.0 806.1 L657.2 804.1 L657.4 802.1 L657.6 800.1 L657.8 798.1 L658.1 796.1 L658.3 794.1 L658.5 792.2 L658.7 790.2 L658.9 788.2 L659.1 786.2 L659.3 784.2 L659.5 782.2 L659.7 780.2 L660.0 778.2 L660.2 776.2 L660.4 774.3 L660.7 772.3 L660.9 770.3 L661.1 768.3 L661.4 766.3 L661.6 764.3 L661.9 762.3 L662.1 760.4 L662.4 758.4 L662.6 756.4 L662.8 754.4 L663.1 752.4 L663.3 750.4 L663.6 748.5 L663.9 746.5 L664.1 744.5 L664.4 742.5 L664.6 740.5 L664.9 738.5 L665.1 736.6 L665.4 734.6 L665.6 732.6 L665.9 730.6 L666.1 728.6 L666.4 726.6 L666.7 724.7 L666.9 722.7 L667.2 720.7 L667.4 718.7 L667.7 716.7 L667.9 714.7 L668.2 712.7 L668.4 710.8 L668.7 708.8 L668.9 706.8 L669.2 704.8 L669.4 702.8 L669.7 700.8 L669.9 698.9 L670.2 696.9 L670.4 694.9 L670.7 692.9 L670.9 690.9 L671.2 688.9 L671.4 687.0 L671.7 685.0 L671.9 683.0 L672.1 681.0 L672.4 679.0 L672.6 677.0 L672.9 675.0 L673.1 673.1 L673.4 671.1 L673.6 669.1 L673.8 667.1 L674.1 665.1 L674.3 663.1 L674.6 661.1 L674.8 659.2 L675.0 657.2 L675.3 655.2 L675.5 653.2 L675.8 651.2 L676.0 649.2 L676.3 647.2 L676.5 645.3 L676.8 643.3 L677.0 641.3 L677.2 639.3 L677.5 637.3 L677.7 635.3 L678.0 633.4 L678.3 631.4 L678.5 629.4 L678.8 627.4 L679.0 625.4 L679.3 623.4 L679.5 621.4 L679.8 619.5 L680.0 617.5 L680.3 615.5 L680.5 613.5 L680.8 611.5 L681.0 609.5 L681.3 607.6 L681.5 605.6 L681.7 603.6 L682.0 601.6 L682.2 599.6 L682.4 597.6 L682.7 595.6 L682.9 593.7 L683.1 591.7 L683.3 589.7 L683.6 587.7 L683.8 585.7 L684.0 583.7 L684.2 581.7 L684.5 579.7 L684.7 577.8 L684.9 575.8 L685.1 573.8 L685.3 571.8 L685.6 569.8 L685.8 567.8 L686.0 565.8 L686.2 563.8 L686.5 561.9 L686.7 559.9 L686.9 557.9 L687.1 555.9 L687.4 553.9 L687.6 551.9 L687.8 549.9 L688.0 547.9 L688.3 546.0 L688.5 544.0 L688.7 542.0 L688.9 540.0 L689.2 538.0 L689.4 536.0 L689.7 534.0 L689.9 532.1 L690.2 530.1 L690.5 528.1 L690.7 526.1 L691.0 524.1 L691.3 522.2 L691.6 520.2 L692.0 518.2 L692.3 516.2 L692.6 514.3 L692.9 512.3 L693.2 510.3 L693.5 508.3 L693.9 506.4 L694.2 504.4 L694.5 502.4 L694.8 500.4 L695.0 498.4 L695.3 496.5 L695.6 494.5 L695.9 492.5 L696.1 490.5 L696.4 488.5 L696.7 486.6 L696.9 484.6 L697.2 482.6 L697.4 480.6 L697.7 478.6 L697.9 476.6 L698.2 474.7 L698.4 472.7 L698.7 470.7 L699.0 468.7 L699.2 466.7 L699.5 464.7 L699.7 462.8 L700.0 460.8 L700.3 458.8 L700.5 456.8 L700.8 454.8 L701.1 452.8 L701.4 450.9 L701.7 448.9 L702.0 446.9 L702.3 444.9 L702.6 443.0 L702.9 441.0 L703.2 439.0 L703.5 437.0 L703.9 435.1 L704.2 433.1 L704.5 431.1 L704.9 429.1 L705.2 427.2 L705.6 425.2 L705.9 423.2 L706.3 421.3 L706.7 419.3 L707.1 417.4 L707.6 415.4 L708.0 413.5 L708.5 411.5 L708.9 409.6 L709.4 407.6 L709.9 405.7 L710.4 403.7 L710.9 401.8 L711.4 399.9 L712.0 398.0 L712.6 396.1 L713.2 394.2 L713.9 392.3 L714.7 390.4 L715.5 388.6 L716.3 386.8 L717.3 385.1 L718.4 383.4 L719.6 381.8 L720.9 380.4 L722.5 379.2 L724.2 378.6 L726.0 378.5 L727.7 379.0 L729.3 380.0 L730.7 381.4 L732.0 382.9 L733.2 384.5 L734.3 386.2 L735.3 387.9 L736.2 389.7 L737.2 391.5 L738.1 393.2 L738.9 395.0 L739.8 396.9 L740.6 398.7 L741.5 400.5 L742.3 402.3 L743.1 404.2 L743.9 406.0 L744.6 407.8 L745.4 409.7 L746.2 411.5 L746.9 413.4 L747.6 415.3 L748.3 417.1 L748.9 419.0 L749.6 420.9 L750.2 422.8 L750.8 424.7 L751.4 426.7 L752.0 428.6 L752.6 430.5 L753.2 432.4 L753.8 434.3 L754.4 436.2 L755.0 438.1 L755.7 440.0 L756.4 441.9 L757.0 443.7 L757.7 445.6 L758.4 447.5 L759.0 449.4 L759.7 451.3 L760.3 453.2 L761.0 455.1 L761.6 457.0 L762.2 458.9 L762.8 460.8 L763.4 462.7 L764.0 464.6 L764.6 466.5 L765.1 468.4 L765.6 470.4 L766.1 472.3 L766.6 474.3 L767.0 476.2 L767.5 478.2 L767.9 480.1 L768.3 482.1 L768.7 484.0 L769.1 486.0 L769.5 488.0 L769.9 489.9 L770.3 491.9 L770.7 493.8 L771.1 495.8 L771.6 497.7 L772.1 499.7 L772.6 501.6 L773.1 503.5 L773.6 505.5 L774.2 507.4 L774.8 509.3 L775.3 511.2 L775.9 513.1 L776.5 515.0 L777.1 516.9 L777.8 518.8 L778.4 520.7 L779.0 522.6 L779.6 524.5 L780.3 526.4 L780.9 528.3 L781.6 530.2 L782.2 532.1 L782.9 534.0 L783.5 535.9 L784.2 537.8 L784.8 539.7 L785.5 541.6 L786.1 543.5 L786.8 545.3 L787.5 547.2 L788.2 549.1 L788.8 551.0 L789.5 552.9 L790.2 554.7 L790.9 556.6 L791.6 558.5 L792.3 560.4 L793.0 562.2 L793.7 564.1 L794.4 566.0 L795.1 567.9 L795.8 569.7 L796.5 571.6 L797.2 573.5 L798.0 575.3 L798.8 577.1 L799.6 579.0 L800.4 580.8 L801.3 582.6 L802.1 584.4 L802.9 586.3 L803.8 588.1 L804.6 589.9 L805.5 591.7 L806.3 593.5 L807.2 595.3 L808.1 597.1 L808.9 598.9 L809.8 600.7 L810.7 602.5 L811.6 604.3 L812.6 606.0 L813.6 607.8 L814.6 609.5 L815.6 611.2 L816.6 612.9 L817.7 614.6 L818.8 616.3 L819.9 618.0 L821.0 619.6 L822.2 621.2 L823.4 622.8 L824.6 624.4 L825.9 625.9 L827.2 627.4 L828.6 628.9 L830.0 630.3 L831.5 631.6 L833.0 633.0 L834.5 634.3 L836.0 635.6 L837.5 636.9 L839.0 638.2 L840.5 639.5 L842.1 640.8 L843.7 642.0 L845.3 643.2 L846.9 644.3 L848.6 645.4 L850.3 646.4 L852.1 647.4 L853.9 648.3 L855.7 649.1 L857.6 649.8 L859.5 650.3 L861.4 650.7 L863.4 650.8 L865.4 650.8 L867.4 650.6 L869.3 650.3 L871.3 649.9 L873.2 649.4 L875.1 648.9 L877.0 648.2 L878.9 647.5 L880.7 646.7 L882.5 645.9 L884.3 644.9 L886.0 643.9 L887.6 642.7 L889.1 641.4 L890.6 640.1 L892.0 638.6 L893.3 637.2 L894.6 635.7 L895.9 634.1 L897.2 632.6 L898.5 631.1 L899.8 629.6 L901.2 628.1 L902.5 626.6 L903.9 625.2 L905.3 623.8 L906.8 622.4 L908.2 621.0 L909.6 619.6 L911.0 618.1 L912.4 616.7 L913.8 615.3 L915.1 613.8 L916.5 612.3 L917.8 610.8 L919.1 609.3 L920.4 607.8 L921.7 606.2 L922.9 604.7 L924.1 603.1 L925.3 601.4 L926.4 599.8 L927.5 598.1 L928.6 596.5 L929.7 594.8 L930.7 593.0 L931.7 591.3 L932.7 589.6 L933.7 587.8 L934.7 586.1 L935.6 584.3 L936.6 582.6 L937.5 580.8 L938.4 579.0 L939.3 577.2 L940.2 575.5 L941.1 573.7 L942.0 571.9 L942.9 570.1 L943.8 568.3 L944.7 566.5 L945.6 564.7 L946.5 562.9 L947.4 561.1 L948.3 559.3 L949.1 557.6 L950.0 555.8 L950.9 554.0 L951.8 552.2 L952.7 550.4 L953.6 548.6 L954.5 546.8 L955.4 545.0 L956.3 543.2 L957.2 541.5 L958.1 539.7 L959.0 537.9 L959.9 536.1 L960.8 534.3 L961.8 532.6 L962.7 530.8 L963.6 529.0 L964.5 527.2 L965.4 525.4 L966.3 523.7 L967.2 521.9 L968.1 520.1 L969.0 518.3 L969.9 516.5 L970.8 514.7 L971.7 512.9 L972.6 511.2 L973.5 509.4 L974.4 507.6 L975.3 505.8 L976.2 504.0 L977.1 502.2 L977.9 500.4 L978.8 498.6 L979.7 496.8 L980.6 495.0 L981.4 493.2 L982.3 491.4 L983.1 489.6 L984.0 487.8 L984.8 485.9 L985.6 484.1 L986.4 482.3 L987.2 480.5 L988.0 478.6 L988.8 476.8 L989.6 475.0 L990.4 473.1 L991.2 471.3 L992.0 469.4 L992.7 467.6 L993.5 465.7 L994.3 463.9 L995.0 462.1 L995.8 460.2 L996.6 458.4 L997.3 456.5 L998.1 454.7 L998.9 452.8 L999.7 451.0 L1000.4 449.1 L1001.2 447.3 L1002.0 445.5 L1002.8 443.6 L1003.6 441.8 L1004.5 440.0 L1005.3 438.2 L1006.1 436.3 L1007.0 434.5 L1007.8 432.7 L1008.7 430.9 L1009.6 429.1 L1010.4 427.3 L1011.3 425.5 L1012.2 423.7 L1013.1 421.9 L1014.0 420.1 L1014.8 418.3 L1015.7 416.6 L1016.6 414.8 L1017.5 413.0 L1018.4 411.2 L1019.2 409.4 L1020.1 407.5 L1020.9 405.7 L1021.7 403.9 L1022.5 402.1 L1023.3 400.2 L1024.0 398.4 L1024.8 396.5 L1025.6 394.7 L1026.3 392.8 L1027.1 391.0 L1028.0 389.2 L1028.8 387.3 L1029.6 385.5 L1030.5 383.7 L1031.3 381.9 L1032.2 380.1 L1033.1 378.3 L1033.9 376.5 L1034.8 374.7 L1035.7 372.9 L1036.5 371.1 L1037.4 369.3 L1038.3 367.5 L1039.1 365.7 L1040.0 363.9 L1040.9 362.1 L1041.7 360.3 L1042.6 358.5 L1043.5 356.7 L1044.3 354.9 L1045.2 353.1 L1046.1 351.3 L1046.9 349.5 L1047.8 347.7 L1048.7 345.9 L1049.5 344.1 L1050.4 342.3 L1051.3 340.5 L1052.1 338.6 L1053.0 336.8 L1053.8 335.0 L1054.7 333.2 L1055.6 331.4 L1056.4 329.6 L1057.3 327.8 L1058.2 326.0 L1059.1 324.2 L1059.9 322.4 L1060.8 320.6 L1061.7 318.8 L1062.6 317.0 L1063.4 315.2 L1064.3 313.4 L1065.2 311.6 L1066.1 309.9 L1067.0 308.1 L1067.8 306.3 L1068.7 304.5 L1069.6 302.7 L1070.5 300.9 L1071.4 299.1 L1072.3 297.3 L1073.2 295.5 L1074.1 293.8 L1075.1 292.0 L1076.0 290.2 L1076.9 288.4 L1077.9 286.7 L1078.8 284.9 L1079.8 283.2 L1080.7 281.4 L1081.7 279.7 L1082.7 277.9 L1083.6 276.2 L1084.6 274.4 L1085.6 272.7 L1086.6 271.0 L1087.6 269.2 L1088.7 267.5 L1089.7 265.8 L1090.8 264.1 L1091.9 262.5 L1093.0 260.8 L1094.2 259.2 L1095.3 257.5 L1096.5 255.9 L1097.7 254.4 L1099.0 252.8 L1100.2 251.2 L1101.5 249.7 L1102.8 248.2 L1104.1 246.7 L1105.4 245.1 L1106.7 243.6 L1108.0 242.1 L1109.3 240.6 L1110.7 239.1 L1112.0 237.6 L1113.3 236.1 L1114.7 234.6 L1116.0 233.1 L1117.4 231.7 L1118.7 230.2 L1120.1 228.7 L1121.5 227.3 L1122.9 225.9 L1124.3 224.5 L1125.8 223.2 L1127.4 222.0 L1129.1 220.9 L1130.7 219.8 L1132.3 218.6 L1133.9 217.3 L1135.4 216.1 L1137.0 214.9 L1138.7 213.8 L1140.4 212.7 L1142.1 211.7 L1143.9 210.9 L1145.7 210.1 L1147.6 209.4 L1149.5 208.7 L1151.4 208.1 L1153.3 207.6 L1155.3 207.1 L1157.2 206.7 L1159.2 206.3 L1161.2 206.0 L1163.1 205.8 L1165.1 205.7 L1167.1 205.7 L1169.1 205.9 L1171.1 206.1 L1173.1 206.5 L1175.0 206.9 L1177.0 207.4 L1178.9 207.9 L1180.8 208.5 L1182.7 209.1 L1184.6 209.7 L1186.5 210.4 L1188.4 211.1 L1190.2 211.8 L1192.0 212.6 L1193.9 213.5 L1195.6 214.4 L1197.4 215.3 L1199.1 216.3 L1200.9 217.3 L1202.5 218.4 L1204.2 219.5 L1205.8 220.7 L1207.4 221.9 L1209.0 223.1 L1210.6 224.4 L1212.1 225.6 L1213.6 226.9 L1215.1 228.2 L1216.6 229.6 L1218.1 230.9 L1219.6 232.3 L1221.0 233.7 L1222.4 235.1 L1223.9 236.5 L1225.3 237.9 L1226.7 239.4 L1228.0 240.8 L1229.4 242.2 L1230.8 243.7 L1232.2 245.1 L1233.6 246.5 L1235.0 248.0 L1236.4 249.4 L1237.8 250.8 L1239.2 252.2 L1240.7 253.6 L1242.1 255.0 L1243.5 256.5 L1244.9 257.9 L1246.3 259.3 L1247.8 260.7 L1249.2 262.1 L1250.6 263.5 L1252.0 264.9 L1253.4 266.3 L1254.8 267.8 L1256.2 269.2 L1257.6 270.6 L1259.0 272.1 L1260.4 273.5 L1261.8 275.0 L1263.1 276.4 L1264.5 277.9 L1265.9 279.3 L1267.3 280.8 L1268.6 282.2 L1270.0 283.7 L1271.3 285.2 L1272.6 286.7 L1273.9 288.2 L1275.2 289.7 L1276.5 291.3 L1277.8 292.8 L1279.0 294.4 L1280.3 295.9 L1281.5 297.5 L1282.7 299.1 L1284.0 300.7 L1285.2 302.3 L1286.4 303.8 L1287.7 305.4 L1288.9 306.9 L1290.2 308.5 L1291.5 310.0 L1292.8 311.5 L1294.1 313.0 L1295.4 314.6 L1296.7 316.1 L1298.1 317.6 L1299.4 319.0 L1300.7 320.5 L1302.0 322.0 L1303.4 323.6 L1304.7 325.1 L1306.0 326.6 L1307.3 328.1 L1308.5 329.6 L1309.8 331.2 L1311.0 332.8 L1312.3 334.3 L1313.5 335.9 L1314.8 337.5 L1316.0 339.0 L1317.2 340.6 L1318.5 342.2 L1319.7 343.8 L1320.9 345.3 L1322.2 346.9 L1323.5 348.4 L1324.8 350.0 L1326.1 351.5 L1327.4 353.0 L1328.7 354.5 L1330.0 356.0 L1331.3 357.5 L1332.6 359.0 L1334.0 360.5 L1335.3 362.0 L1336.6 363.5 L1337.9 365.0 L1339.2 366.5 L1340.5 368.1 L1341.8 369.6 L1343.1 371.1 L1344.3 372.7 L1345.6 374.2 L1346.8 375.8 L1348.1 377.4 L1349.3 378.9 L1350.6 380.5 L1351.8 382.1 L1353.0 383.7 L1354.3 385.2 L1355.5 386.8 L1356.8 388.3 L1358.0 389.9 L1359.3 391.5 L1360.5 393.0 L1361.8 394.6 L1363.0 396.2 L1364.2 397.7 L1365.5 399.3 L1366.8 400.9 L1368.0 402.4 L1369.3 403.9 L1370.6 405.4 L1371.9 406.9 L1373.3 408.4 L1374.6 409.9 L1376.0 411.4 L1377.4 412.8 L1378.7 414.3 L1380.1 415.7 L1381.5 417.1 L1382.9 418.6 L1384.3 420.0 L1385.7 421.4 L1387.1 422.8 L1388.5 424.3 L1390.0 425.7 L1391.4 427.1 L1392.8 428.5 L1394.2 429.9 L1395.7 431.3 L1397.1 432.7 L1398.5 434.1 L1400.0 435.5 L1401.4 436.9 L1402.9 438.2 L1404.3 439.6 L1405.8 441.0 L1407.2 442.3 L1408.7 443.7 L1410.2 445.1 L1411.7 446.4 L1413.2 447.7 L1414.7 449.0 L1416.2 450.4 L1417.7 451.7 L1419.2 452.9 L1420.8 454.2 L1422.3 455.5 L1423.8 456.8 L1425.4 458.0 L1427.0 459.3 L1428.5 460.5 L1430.1 461.7 L1431.7 463.0 L1433.3 464.2 L1434.9 465.4 L1436.5 466.6 L1438.1 467.7 L1439.7 468.9 L1441.3 470.1 L1443.0 471.2 L1444.6 472.4 L1446.2 473.5 L1447.9 474.7 L1449.5 475.8 L1451.2 477.0 L1452.8 478.1 L1454.5 479.2 L1456.1 480.3 L1457.8 481.4 L1459.5 482.5 L1461.2 483.6 L1462.8 484.7 L1464.5 485.8 L1466.2 486.9 L1467.9 488.0 L1469.6 489.0 L1471.3 490.1 L1472.9 491.2 L1474.6 492.3 L1476.3 493.4 L1478.0 494.4 L1479.7 495.5 L1481.3 496.6 L1483.0 497.7 L1484.7 498.7 L1486.4 499.8 L1488.1 500.8 L1489.8 501.9 L1491.6 502.9 L1493.3 503.9 L1495.0 504.9 L1496.8 505.9 L1498.5 506.8 L1500.3 507.8 L1502.0 508.7 L1503.8 509.6 L1505.6 510.6 L1507.4 511.5 L1509.2 512.4 L1511.0 513.2 L1512.8 514.1 L1514.6 515.0 L1516.4 515.8 L1518.2 516.6 L1520.0 517.5 L1521.9 518.3 L1523.7 519.1 L1525.5 519.8 L1527.4 520.6 L1529.2 521.4 L1531.1 522.1 L1532.9 522.9 L1534.8 523.6 L1536.7 524.3 L1538.6 525.0 L1540.4 525.7 L1542.3 526.4 L1544.2 527.0 L1546.1 527.7 L1548.0 528.3 L1549.9 528.9 L1551.8 529.6 L1553.7 530.1 L1555.6 530.7 L1557.5 531.3 L1559.5 531.8 L1561.4 532.4 L1563.3 532.9 L1565.2 533.5 L1567.1 534.0 L1569.1 534.6 L1571.0 535.2 L1572.9 535.7 L1574.8 536.3 L1576.7 536.9 L1578.7 537.4 L1580.6 538.0 L1582.5 538.6 L1584.4 539.1 L1586.3 539.7 L1588.3 540.2 L1590.2 540.7 L1592.2 541.1 L1594.1 541.5 L1596.1 541.9 L1598.0 542.3 L1600.0 542.6 L1602.0 542.9 L1604.0 543.2 L1606.0 543.4 L1608.0 543.6 L1609.9 543.8 L1611.9 544.0 L1613.9 544.2 L1615.9 544.4 L1617.9 544.6 L1619.9 544.8 L1621.9 545.0 L1623.9 545.2 L1625.9 545.4 L1627.9 545.5 L1629.9 545.7 L1631.8 545.9 L1633.8 546.0 L1635.8 546.2 L1637.8 546.3 L1639.8 546.4 L1641.8 546.5 L1643.8 546.6 L1645.8 546.7 L1647.8 546.8 L1649.8 546.9 L1651.8 547.0 L1653.8 547.1 L1655.8 547.1 L1657.8 547.2 L1659.8 547.2 L1661.8 547.2 L1663.8 547.3 L1665.8 547.3 L1667.8 547.3 L1669.8 547.3 L1671.8 547.3 L1673.8 547.3 L1675.8 547.3 L1677.8 547.3 L1679.8 547.3 L1681.8 547.3 L1683.8 547.3 L1685.8 547.2 L1687.8 547.1 L1689.8 547.0 L1691.8 546.9 L1693.8 546.8 L1695.8 546.6 L1697.8 546.4 L1699.8 546.2 L1701.8 546.0 L1703.7 545.7 L1705.7 545.5 L1707.7 545.2 L1709.7 544.9 L1711.7 544.7 L1713.6 544.4 L1715.6 544.1 L1717.6 543.8 L1719.6 543.5 L1721.6 543.2 L1723.5 542.9 L1725.5 542.5 L1727.5 542.2 L1729.4 541.8 L1731.4 541.5 L1733.4 541.1 L1735.3 540.7 L1737.3 540.3 L1739.2 539.9 L1741.2 539.4 L1743.1 539.0 L1745.1 538.5 L1747.0 538.1 L1749.0 537.6 L1750.9 537.1 L1752.9 536.7 L1754.8 536.2 L1756.8 535.7 L1758.7 535.2 L1760.6 534.7 L1762.6 534.2 L1764.5 533.7 L1766.4 533.2 L1768.4 532.6 L1770.3 532.1 L1772.2 531.6 L1774.1 531.0 L1776.1 530.5 L1778.0 529.9 L1779.9 529.4 L1781.8 528.9 L1783.8 528.3 L1785.7 527.8 L1787.6 527.3 L1789.6 526.7 L1791.5 526.2 L1793.4 525.7 L1795.3 525.2 L1797.3 524.6 L1799.2 524.1 L1801.1 523.6 L1803.1 523.0 L1805.0 522.5 L1806.9 522.0 L1808.8 521.4 L1810.8 520.9 L1812.7 520.3 L1814.6 519.8 L1816.5 519.2 L1818.4 518.7 L1820.4 518.1 L1822.3 517.6 L1824.2 517.0 L1826.1 516.4 L1828.0 515.9 L1830.0 515.3 L1831.9 514.7 L1833.8 514.1 L1835.7 513.5 L1837.6 513.0 L1839.5 512.3 L1841.4 511.7 L1843.3 511.1 L1845.2 510.5 L1847.1 509.8 L1849.0 509.2 L1850.9 508.5 L1852.8 507.8 L1854.7 507.2 L1856.5 506.5 L1858.4 505.8 L1860.3 505.1 L1862.2 504.4 L1864.1 503.8 L1865.9 503.1 L1867.8 502.5 L1869.7 501.8 L1871.6 501.2 L1873.5 500.6 L1875.5 500.0 L1877.4 499.4 L1879.3 498.8 L1881.2 498.3 L1883.1 497.7 L1885.0 497.2 L1887.0 496.6 L1888.9 496.1 L1890.8 495.5 L1892.7 494.9 L1894.6 494.4 L1896.6 493.8 L1898.5 493.2 L1900.4 492.6 L1902.3 492.0 L1904.2 491.4 L1906.1 490.8 L1908.0 490.2 L1909.9 489.6 L1911.8 489.0 L1913.7 488.4 L1915.6 487.7 L1917.5 487.1 L1919.4 486.5 L1921.3 485.9 L1923.2 485.3 L1924.8 484.7 L1927.0 484.0" stroke="#808000"/>
<path d="M339.5 1360.4 L341.8 1360.4 L343.6 1360.4 L345.5 1360.4 L347.5 1360.4 L349.5 1360.4 L351.5 1360.4 L353.5 1360.4 L355.5 1360.4 L357.5 1360.4 L359.5 1360.4 L361.5 1360.4 L363.5 1360.4 L365.5 1360.4 L367.5 1360.4 L369.5 1360.5 L371.5 1360.5 L373.5 1360.5 L375.5 1360.5 L377.5 1360.5 L379.5 1360.5 L381.5 1360.5 L383.5 1360.5 L385.5 1360.5 L387.5 1360.5 L389.5 1360.5 L391.5 1360.5 L393.5 1360.5 L395.5 1360.5 L397.5 1360.5 L399.5 1360.5 L401.5 1360.5 L403.5 1360.5 L405.5 1360.5 L407.5 1360.5 L409.5 1360.5 L411.5 1360.5 L413.5 1360.5 L415.5 1360.5 L417.5 1360.5 L419.5 1360.5 L421.5 1360.5 L423.5 1360.5 L425.5 1360.5 L427.5 1360.5 L429.5 1360.5 L431.5 1360.5 L433.5 1360.5 L435.5 1360.5 L437.5 1360.5 L439.5 1360.5 L441.5 1360.5 L443.5 1360.5 L445.5 1360.5 L447.5 1360.5 L449.5 1360.5 L451.5 1360.5 L453.5 1360.5 L455.5 1360.5 L457.5 1360.5 L459.5 1360.5 L461.5 1360.5 L463.5 1360.5 L465.5 1360.5 L467.5 1360.4 L469.5 1360.4 L471.5 1360.4 L473.5 1360.4 L475.5 1360.3 L477.5 1360.3 L479.5 1360.2 L481.4 1360.1 L483.0 1359.9 L484.1 1359.5 L484.6 1359.0 L485.3 1358.4 L486.7 1358.0 L488.5 1357.5 L490.4 1357.1 L492.3 1356.6 L494.3 1356.1 L496.2 1355.6 L498.1 1355.0 L500.0 1354.3 L501.9 1353.6 L503.7 1352.9 L505.6 1352.1 L507.4 1351.3 L509.2 1350.4 L511.0 1349.5 L512.8 1348.6 L514.5 1347.6 L516.2 1346.6 L517.9 1345.6 L519.6 1344.5 L521.3 1343.4 L522.9 1342.2 L524.5 1341.0 L526.1 1339.8 L527.6 1338.5 L529.1 1337.2 L530.6 1335.9 L532.1 1334.6 L533.6 1333.2 L535.1 1331.9 L536.6 1330.5 L537.9 1329.1 L539.2 1327.5 L540.3 1325.9 L541.4 1324.2 L542.3 1322.5 L543.2 1320.7 L544.1 1318.9 L544.9 1317.0 L545.7 1315.2 L546.5 1313.4 L547.3 1311.5 L548.1 1309.7 L548.8 1307.8 L549.6 1306.0 L550.4 1304.2 L551.3 1302.3 L552.1 1300.5 L552.9 1298.7 L553.7 1296.9 L554.6 1295.1 L555.4 1293.2 L556.2 1291.4 L557.0 1289.6 L557.8 1287.8 L558.7 1285.9 L559.5 1284.1 L560.3 1282.3 L561.0 1280.4 L561.8 1278.6 L562.6 1276.7 L563.3 1274.9 L564.1 1273.0 L564.8 1271.2 L565.6 1269.3 L566.3 1267.5 L567.1 1265.6 L567.8 1263.7 L568.5 1261.9 L569.2 1260.0 L569.9 1258.1 L570.7 1256.3 L571.4 1254.4 L572.1 1252.5 L572.8 1250.7 L573.5 1248.8 L574.2 1246.9 L574.8 1245.0 L575.4 1243.1 L576.0 1241.2 L576.6 1239.3 L577.1 1237.4 L577.7 1235.4 L578.2 1233.5 L578.7 1231.6 L579.2 1229.6 L579.7 1227.7 L580.2 1225.8 L580.7 1223.8 L581.2 1221.9 L581.7 1219.9 L582.2 1218.0 L582.7 1216.1 L583.1 1214.1 L583.6 1212.2 L584.2 1210.3 L584.7 1208.3 L585.2 1206.4 L585.6 1204.5 L586.1 1202.5 L586.6 1200.6 L587.1 1198.6 L587.6 1196.7 L588.1 1194.8 L588.6 1192.8 L589.1 1190.9 L589.6 1189.0 L590.1 1187.0 L590.6 1185.1 L591.1 1183.1 L591.6 1181.2 L592.1 1179.3 L592.6 1177.3 L593.1 1175.4 L593.6 1173.5 L594.1 1171.5 L594.7 1169.6 L595.2 1167.7 L595.7 1165.7 L596.2 1163.8 L596.7 1161.9 L597.2 1159.9 L597.7 1158.0 L598.3 1156.1 L598.8 1154.1 L599.3 1152.2 L599.8 1150.3 L600.4 1148.4 L600.9 1146.4 L601.4 1144.5 L602.0 1142.6 L602.5 1140.6 L603.1 1138.7 L603.6 1136.8 L604.1 1134.9 L604.7 1132.9 L605.2 1131.0 L605.7 1129.1 L606.3 1127.2 L606.8 1125.2 L607.4 1123.3 L607.9 1121.4 L608.4 1119.5 L609.0 1117.5 L609.5 1115.6 L610.0 1113.7 L610.6 1111.7 L611.1 1109.8 L611.6 1107.9 L612.1 1106.0 L612.6 1104.0 L613.2 1102.1 L613.7 1100.1 L614.1 1098.2 L614.6 1096.3 L615.0 1094.3 L615.4 1092.4 L615.8 1090.4 L616.1 1088.4 L616.4 1086.4 L616.7 1084.5 L617.1 1082.5 L617.5 1080.5 L617.9 1078.6 L618.4 1076.6 L618.8 1074.7 L619.2 1072.7 L619.7 1070.8 L620.1 1068.8 L620.6 1066.9 L621.0 1064.9 L621.5 1063.0 L622.0 1061.0 L622.4 1059.1 L622.9 1057.1 L623.3 1055.2 L623.8 1053.3 L624.2 1051.3 L624.7 1049.4 L625.2 1047.4 L625.6 1045.5 L626.1 1043.5 L626.5 1041.6 L627.0 1039.6 L627.5 1037.7 L627.9 1035.7 L628.4 1033.8 L628.9 1031.8 L629.3 1029.9 L629.8 1028.0 L630.3 1026.0 L630.8 1024.1 L631.2 1022.1 L631.7 1020.2 L632.2 1018.3 L632.7 1016.3 L633.3 1014.4 L633.8 1012.5 L634.3 1010.5 L634.8 1008.6 L635.3 1006.7 L635.8 1004.7 L636.3 1002.8 L636.8 1000.8 L637.2 998.9 L637.7 997.0 L638.2 995.0 L638.6 993.1 L639.1 991.1 L639.5 989.2 L640.0 987.2 L640.4 985.3 L640.8 983.3 L641.2 981.3 L641.6 979.4 L642.0 977.4 L642.4 975.5 L642.8 973.5 L643.1 971.5 L643.5 969.6 L643.9 967.6 L644.2 965.6 L644.6 963.7 L644.9 961.7 L645.3 959.7 L645.6 957.8 L645.9 955.8 L646.3 953.8 L646.6 951.8 L646.9 949.9 L647.3 947.9 L647.6 945.9 L647.9 943.9 L648.3 942.0 L648.6 940.0 L648.9 938.0 L649.2 936.1 L649.6 934.1 L649.9 932.1 L650.2 930.1 L650.6 928.2 L650.9 926.2 L651.2 924.2 L651.5 922.2 L651.9 920.3 L652.2 918.3 L652.5 916.3 L652.9 914.4 L653.2 912.4 L653.5 910.4 L653.9 908.4 L654.2 906.5 L654.6 904.5 L654.9 902.5 L655.3 900.6 L655.6 898.6 L656.0 896.6 L656.4 894.7 L656.7 892.7 L657.1 890.7 L657.5 888.8 L657.8 886.8 L658.2 884.8 L658.6 882.9 L658.9 880.9 L659.3 878.9 L659.6 877.0 L660.0 875.0 L660.4 873.0 L660.7 871.1 L661.1 869.1 L661.4 867.1 L661.8 865.2 L662.1 863.2 L662.4 861.2 L662.8 859.2 L663.1 857.3 L663.4 855.3 L663.7 853.3 L664.0 851.3 L664.3 849.4 L664.6 847.4 L664.9 845.4 L665.2 843.4 L665.5 841.4 L665.8 839.5 L666.0 837.5 L666.3 835.5 L666.6 833.5 L666.8 831.5 L667.1 829.5 L667.3 827.6 L667.5 825.6 L667.8 823.6 L668.0 821.6 L668.2 819.6 L668.5 817.6 L668.7 815.6 L668.9 813.7 L669.1 811.7 L669.3 809.7 L669.6 807.7 L669.8 805.7 L670.0 803.7 L670.2 801.7 L670.4 799.7 L670.7 797.8 L670.9 795.8 L671.1 793.8 L671.3 791.8 L671.5 789.8 L671.8 787.8 L672.0 785.8 L672.2 783.8 L672.5 781.9 L672.7 779.9 L673.0 777.9 L673.2 775.9 L673.5 773.9 L673.7 771.9 L674.0 770.0 L674.3 768.0 L674.5 766.0 L674.8 764.0 L675.1 762.0 L675.3 760.0 L675.6 758.1 L675.9 756.1 L676.2 754.1 L676.4 752.1 L676.7 750.1 L677.0 748.2 L677.3 746.2 L677.5 744.2 L677.8 742.2 L678.1 740.2 L678.4 738.3 L678.7 736.3 L678.9 734.3 L679.2 732.3 L679.5 730.3 L679.8 728.4 L680.1 726.4 L680.3 724.4 L680.6 722.4 L680.9 720.4 L681.2 718.5 L681.5 716.5 L681.7 714.5 L682.0 712.5 L682.3 710.5 L682.6 708.5 L682.8 706.6 L683.1 704.6 L683.4 702.6 L683.6 700.6 L683.9 698.6 L684.1 696.6 L684.4 694.7 L684.6 692.7 L684.9 690.7 L685.1 688.7 L685.4 686.7 L685.6 684.7 L685.9 682.8 L686.1 680.8 L686.3 678.8 L686.6 676.8 L686.8 674.8 L687.1 672.8 L687.3 670.8 L687.5 668.9 L687.8 666.9 L688.0 664.9 L688.2 662.9 L688.4 660.9 L688.7 658.9 L688.9 656.9 L689.1 655.0 L689.4 653.0 L689.6 651.0 L689.9 649.0 L690.1 647.0 L690.3 645.0 L690.6 643.0 L690.8 641.1 L691.1 639.1 L691.3 637.1 L691.5 635.1 L691.8 633.1 L692.0 631.1 L692.2 629.1 L692.5 627.2 L692.7 625.2 L693.0 623.2 L693.2 621.2 L693.5 619.2 L693.7 617.2 L693.9 615.2 L694.2 613.3 L694.4 611.3 L694.7 609.3 L695.0 607.3 L695.2 605.3 L695.5 603.3 L695.7 601.4 L696.0 599.4 L696.3 597.4 L696.6 595.4 L696.8 593.4 L697.1 591.5 L697.4 589.5 L697.7 587.5 L698.0 585.5 L698.3 583.5 L698.6 581.6 L698.8 579.6 L699.1 577.6 L699.4 575.6 L699.7 573.6 L700.0 571.7 L700.3 569.7 L700.6 567.7 L700.9 565.7 L701.2 563.7 L701.4 561.8 L701.7 559.8 L702.0 557.8 L702.3 555.8 L702.6 553.9 L702.9 551.9 L703.2 549.9 L703.5 547.9 L703.8 545.9 L704.1 544.0 L704.4 542.0 L704.7 540.0 L704.9 538.0 L705.2 536.0 L705.5 534.1 L705.7 532.1 L706.0 530.1 L706.2 528.1 L706.4 526.1 L706.6 524.1 L706.8 522.1 L707.0 520.1 L707.2 518.2 L707.4 516.2 L707.5 514.2 L707.7 512.2 L707.9 510.2 L708.1 508.2 L708.3 506.2 L708.5 504.2 L708.7 502.2 L709.0 500.2 L709.3 498.3 L709.6 496.3 L709.9 494.3 L710.3 492.3 L710.6 490.4 L711.0 488.4 L711.4 486.5 L711.8 484.5 L712.2 482.5 L712.6 480.6 L713.0 478.6 L713.3 476.6 L713.7 474.7 L714.0 472.7 L714.4 470.7 L714.7 468.8 L715.1 466.8 L715.4 464.8 L715.7 462.8 L716.0 460.9 L716.4 458.9 L716.7 456.9 L717.0 455.0 L717.4 453.0 L717.7 451.0 L718.0 449.0 L718.4 447.1 L718.7 445.1 L719.1 443.1 L719.5 441.2 L719.8 439.2 L720.2 437.2 L720.6 435.3 L721.1 433.3 L721.5 431.4 L721.9 429.4 L722.3 427.5 L722.8 425.5 L723.3 423.6 L723.8 421.6 L724.3 419.7 L724.9 417.8 L725.5 415.9 L726.1 414.0 L726.8 412.1 L727.5 410.2 L728.2 408.4 L728.9 406.5 L729.7 404.7 L730.5 402.9 L731.4 401.0 L732.3 399.3 L733.2 397.5 L734.2 395.7 L735.2 394.0 L736.3 392.4 L737.5 390.8 L738.9 389.4 L740.5 388.4 L742.3 387.8 L744.2 387.7 L746.0 388.1 L747.7 388.9 L749.3 390.1 L750.8 391.4 L752.1 392.9 L753.3 394.5 L754.5 396.1 L755.6 397.8 L756.7 399.5 L757.7 401.2 L758.7 402.9 L759.7 404.6 L760.7 406.4 L761.6 408.2 L762.5 409.9 L763.4 411.7 L764.2 413.6 L765.0 415.4 L765.8 417.2 L766.5 419.1 L767.1 421.0 L767.7 422.9 L768.3 424.8 L768.9 426.7 L769.4 428.7 L769.9 430.6 L770.5 432.5 L771.0 434.4 L771.6 436.4 L772.2 438.3 L772.8 440.2 L773.4 442.1 L774.1 444.0 L774.8 445.8 L775.4 447.7 L776.1 449.6 L776.8 451.5 L777.5 453.3 L778.2 455.2 L778.9 457.1 L779.6 459.0 L780.2 460.9 L780.9 462.8 L781.5 464.7 L782.1 466.6 L782.7 468.5 L783.3 470.4 L783.9 472.3 L784.4 474.2 L784.9 476.2 L785.4 478.1 L786.0 480.0 L786.5 482.0 L787.0 483.9 L787.5 485.8 L788.0 487.8 L788.5 489.7 L789.1 491.6 L789.6 493.6 L790.1 495.5 L790.7 497.4 L791.2 499.3 L791.8 501.3 L792.3 503.2 L792.9 505.1 L793.4 507.0 L794.0 508.9 L794.5 510.9 L795.1 512.8 L795.7 514.7 L796.3 516.6 L796.9 518.5 L797.5 520.4 L798.1 522.3 L798.8 524.2 L799.4 526.1 L800.1 528.0 L800.8 529.9 L801.5 531.7 L802.1 533.6 L802.8 535.5 L803.5 537.4 L804.2 539.2 L804.9 541.1 L805.6 543.0 L806.4 544.9 L807.1 546.7 L807.8 548.6 L808.5 550.5 L809.2 552.3 L809.9 554.2 L810.7 556.1 L811.4 557.9 L812.1 559.8 L812.9 561.6 L813.6 563.5 L814.3 565.4 L815.1 567.2 L815.8 569.1 L816.6 570.9 L817.4 572.8 L818.1 574.6 L818.9 576.5 L819.7 578.3 L820.5 580.1 L821.3 582.0 L822.1 583.8 L822.9 585.6 L823.8 587.4 L824.7 589.2 L825.6 591.0 L826.6 592.7 L827.6 594.5 L828.6 596.2 L829.7 597.9 L830.8 599.5 L831.9 601.2 L833.1 602.8 L834.2 604.4 L835.4 606.0 L836.6 607.6 L837.8 609.3 L838.9 610.9 L840.1 612.5 L841.3 614.1 L842.5 615.7 L843.6 617.4 L844.8 619.0 L846.0 620.6 L847.2 622.2 L848.4 623.8 L849.6 625.4 L850.8 627.0 L852.0 628.6 L853.3 630.2 L854.5 631.7 L855.8 633.2 L857.1 634.7 L858.5 636.2 L860.0 637.5 L861.4 638.9 L862.9 640.2 L864.5 641.5 L866.1 642.7 L867.7 643.9 L869.3 645.0 L871.0 646.1 L872.7 647.1 L874.5 648.0 L876.3 648.8 L878.2 649.5 L880.1 650.1 L882.0 650.5 L884.0 650.8 L886.0 651.1 L888.0 651.3 L890.0 651.4 L892.0 651.5 L894.0 651.6 L896.0 651.6 L898.0 651.5 L900.0 651.4 L902.0 651.2 L903.9 651.1 L905.9 650.8 L907.9 650.5 L909.8 650.0 L911.7 649.4 L913.6 648.6 L915.4 647.8 L917.1 646.8 L918.9 645.9 L920.6 644.9 L922.3 643.8 L924.0 642.7 L925.6 641.6 L927.2 640.3 L928.8 639.1 L930.3 637.8 L931.7 636.4 L933.1 635.0 L934.5 633.5 L935.8 632.0 L937.1 630.5 L938.4 628.9 L939.6 627.4 L940.8 625.8 L942.0 624.2 L943.2 622.5 L944.3 620.9 L945.4 619.3 L946.6 617.6 L947.7 615.9 L948.8 614.3 L949.9 612.6 L950.9 610.9 L952.0 609.2 L953.1 607.5 L954.2 605.8 L955.2 604.1 L956.3 602.5 L957.3 600.8 L958.4 599.1 L959.4 597.3 L960.5 595.6 L961.5 593.9 L962.6 592.2 L963.6 590.5 L964.6 588.8 L965.7 587.1 L966.7 585.4 L967.7 583.6 L968.7 581.9 L969.7 580.2 L970.7 578.5 L971.7 576.7 L972.7 575.0 L973.7 573.3 L974.7 571.5 L975.7 569.8 L976.7 568.1 L977.7 566.3 L978.7 564.6 L979.7 562.9 L980.7 561.1 L981.6 559.4 L982.6 557.6 L983.6 555.9 L984.6 554.1 L985.5 552.4 L986.5 550.6 L987.5 548.9 L988.4 547.1 L989.4 545.3 L990.3 543.6 L991.3 541.8 L992.2 540.1 L993.1 538.3 L994.1 536.5 L995.0 534.7 L995.9 533.0 L996.8 531.2 L997.7 529.4 L998.6 527.6 L999.5 525.8 L1000.4 524.1 L1001.3 522.3 L1002.2 520.5 L1003.1 518.7 L1004.0 516.9 L1004.9 515.1 L1005.8 513.3 L1006.6 511.5 L1007.5 509.7 L1008.4 507.9 L1009.3 506.1 L1010.2 504.3 L1011.0 502.5 L1011.9 500.7 L1012.8 498.9 L1013.7 497.1 L1014.5 495.3 L1015.4 493.5 L1016.3 491.7 L1017.1 489.9 L1018.0 488.1 L1018.9 486.3 L1019.8 484.5 L1020.6 482.7 L1021.5 480.9 L1022.3 479.1 L1023.2 477.3 L1024.0 475.5 L1024.9 473.7 L1025.7 471.9 L1026.6 470.0 L1027.4 468.2 L1028.2 466.4 L1029.1 464.6 L1029.9 462.8 L1030.7 461.0 L1031.6 459.1 L1032.4 457.3 L1033.3 455.5 L1034.1 453.7 L1035.0 451.9 L1035.8 450.1 L1036.7 448.3 L1037.5 446.5 L1038.4 444.7 L1039.3 442.9 L1040.1 441.1 L1041.0 439.3 L1041.9 437.5 L1042.7 435.7 L1043.6 433.9 L1044.5 432.1 L1045.4 430.3 L1046.2 428.5 L1047.1 426.7 L1048.0 424.9 L1048.9 423.1 L1049.7 421.3 L1050.6 419.5 L1051.5 417.7 L1052.4 415.9 L1053.3 414.1 L1054.1 412.3 L1055.0 410.5 L1055.9 408.7 L1056.8 406.9 L1057.6 405.1 L1058.5 403.3 L1059.4 401.5 L1060.3 399.7 L1061.1 397.9 L1062.0 396.1 L1062.9 394.3 L1063.7 392.5 L1064.6 390.7 L1065.5 388.9 L1066.3 387.1 L1067.2 385.3 L1068.0 383.5 L1068.9 381.7 L1069.7 379.8 L1070.6 378.0 L1071.4 376.2 L1072.3 374.4 L1073.1 372.6 L1073.9 370.8 L1074.8 369.0 L1075.6 367.1 L1076.4 365.3 L1077.3 363.5 L1078.1 361.7 L1079.0 359.9 L1079.8 358.1 L1080.6 356.2 L1081.5 354.4 L1082.3 352.6 L1083.2 350.8 L1084.0 349.0 L1084.9 347.2 L1085.7 345.4 L1086.6 343.6 L1087.4 341.7 L1088.2 339.9 L1089.1 338.1 L1089.9 336.3 L1090.7 334.5 L1091.6 332.7 L1092.4 330.8 L1093.3 329.0 L1094.1 327.2 L1095.0 325.4 L1095.9 323.6 L1096.8 321.8 L1097.7 320.1 L1098.6 318.3 L1099.6 316.5 L1100.6 314.8 L1101.6 313.1 L1102.6 311.4 L1103.7 309.7 L1104.8 308.0 L1106.0 306.4 L1107.1 304.8 L1108.3 303.1 L1109.5 301.5 L1110.7 299.9 L1111.9 298.3 L1113.1 296.7 L1114.3 295.2 L1115.5 293.6 L1116.7 292.0 L1117.9 290.4 L1119.1 288.8 L1120.3 287.2 L1121.6 285.6 L1122.8 284.0 L1124.0 282.4 L1125.2 280.9 L1126.5 279.3 L1127.7 277.7 L1128.9 276.1 L1130.0 274.5 L1131.2 272.8 L1132.3 271.2 L1133.4 269.5 L1134.5 267.8 L1135.6 266.1 L1136.7 264.5 L1137.8 262.8 L1138.9 261.2 L1140.1 259.5 L1141.3 257.9 L1142.5 256.3 L1143.7 254.8 L1145.0 253.2 L1146.3 251.7 L1147.7 250.2 L1149.0 248.8 L1150.4 247.3 L1151.8 245.9 L1153.3 244.5 L1154.7 243.2 L1156.2 241.8 L1157.7 240.5 L1159.3 239.2 L1160.8 238.0 L1162.4 236.8 L1164.0 235.6 L1165.6 234.4 L1167.3 233.3 L1169.0 232.3 L1170.7 231.3 L1172.5 230.4 L1174.3 229.5 L1176.1 228.7 L1178.0 227.9 L1179.9 227.2 L1181.7 226.5 L1183.6 225.8 L1185.5 225.2 L1187.4 224.6 L1189.3 224.0 L1191.2 223.4 L1193.2 222.9 L1195.1 222.5 L1197.1 222.0 L1199.0 221.7 L1201.0 221.4 L1203.0 221.2 L1205.0 221.2 L1207.0 221.2 L1209.0 221.4 L1210.9 221.7 L1212.9 222.2 L1214.8 222.7 L1216.7 223.3 L1218.6 223.9 L1220.5 224.6 L1222.4 225.3 L1224.2 226.0 L1226.1 226.7 L1228.0 227.5 L1229.8 228.2 L1231.6 229.1 L1233.4 229.9 L1235.2 230.8 L1237.0 231.7 L1238.8 232.6 L1240.6 233.5 L1242.3 234.5 L1244.1 235.5 L1245.8 236.5 L1247.5 237.5 L1249.2 238.6 L1250.8 239.7 L1252.4 240.9 L1254.0 242.1 L1255.6 243.4 L1257.1 244.7 L1258.6 246.0 L1260.1 247.3 L1261.6 248.7 L1263.1 250.0 L1264.5 251.4 L1266.0 252.7 L1267.4 254.1 L1268.9 255.5 L1270.3 256.9 L1271.8 258.3 L1273.2 259.6 L1274.7 261.0 L1276.1 262.4 L1277.6 263.7 L1279.1 265.1 L1280.6 266.5 L1282.0 267.8 L1283.5 269.1 L1285.0 270.5 L1286.5 271.8 L1288.0 273.2 L1289.4 274.5 L1290.9 275.9 L1292.3 277.3 L1293.8 278.7 L1295.2 280.1 L1296.6 281.5 L1298.0 282.9 L1299.3 284.4 L1300.7 285.9 L1302.0 287.4 L1303.4 288.9 L1304.7 290.4 L1306.0 291.9 L1307.3 293.4 L1308.6 294.9 L1309.9 296.4 L1311.2 297.9 L1312.5 299.5 L1313.8 301.0 L1315.1 302.5 L1316.5 304.0 L1317.8 305.5 L1319.1 307.0 L1320.4 308.5 L1321.8 310.0 L1323.1 311.5 L1324.4 313.0 L1325.7 314.5 L1327.1 316.0 L1328.4 317.5 L1329.7 319.0 L1331.0 320.5 L1332.4 322.0 L1333.7 323.5 L1335.0 325.0 L1336.3 326.5 L1337.6 328.0 L1338.9 329.5 L1340.2 331.1 L1341.5 332.6 L1342.8 334.1 L1344.1 335.6 L1345.3 337.2 L1346.6 338.7 L1347.9 340.2 L1349.2 341.8 L1350.5 343.3 L1351.7 344.9 L1353.0 346.4 L1354.3 347.9 L1355.6 349.5 L1356.8 351.0 L1358.1 352.6 L1359.4 354.1 L1360.6 355.7 L1361.9 357.2 L1363.2 358.8 L1364.4 360.3 L1365.7 361.9 L1366.9 363.4 L1368.2 365.0 L1369.5 366.5 L1370.7 368.1 L1372.0 369.6 L1373.2 371.2 L1374.5 372.7 L1375.8 374.3 L1377.1 375.8 L1378.4 377.3 L1379.7 378.8 L1381.0 380.3 L1382.4 381.8 L1383.7 383.3 L1385.1 384.7 L1386.5 386.1 L1388.0 387.5 L1389.4 388.9 L1390.9 390.3 L1392.3 391.7 L1393.7 393.0 L1395.2 394.5 L1396.6 395.9 L1398.0 397.3 L1399.3 398.8 L1400.7 400.2 L1402.1 401.7 L1403.4 403.2 L1404.8 404.6 L1406.1 406.1 L1407.5 407.6 L1408.8 409.0 L1410.2 410.5 L1411.6 412.0 L1412.9 413.4 L1414.3 414.9 L1415.7 416.4 L1417.1 417.8 L1418.5 419.2 L1419.9 420.6 L1421.3 422.0 L1422.7 423.4 L1424.2 424.8 L1425.6 426.2 L1427.1 427.6 L1428.5 428.9 L1430.0 430.3 L1431.5 431.7 L1432.9 433.0 L1434.4 434.3 L1435.9 435.7 L1437.4 437.0 L1438.8 438.4 L1440.3 439.8 L1441.8 441.1 L1443.2 442.5 L1444.7 443.9 L1446.2 445.2 L1447.6 446.6 L1449.1 448.0 L1450.5 449.4 L1452.0 450.7 L1453.4 452.1 L1454.9 453.5 L1456.3 454.9 L1457.8 456.2 L1459.3 457.6 L1460.7 458.9 L1462.2 460.3 L1463.7 461.6 L1465.2 462.9 L1466.7 464.2 L1468.2 465.6 L1469.7 466.9 L1471.2 468.2 L1472.8 469.5 L1474.3 470.8 L1475.8 472.0 L1477.4 473.3 L1478.9 474.6 L1480.4 475.9 L1482.0 477.1 L1483.6 478.4 L1485.1 479.6 L1486.7 480.8 L1488.3 482.1 L1489.9 483.3 L1491.5 484.4 L1493.1 485.6 L1494.8 486.7 L1496.4 487.9 L1498.1 488.9 L1499.8 490.0 L1501.5 491.1 L1503.2 492.2 L1504.9 493.3 L1506.5 494.3 L1508.2 495.4 L1509.9 496.5 L1511.5 497.6 L1513.2 498.8 L1514.9 499.9 L1516.5 501.0 L1518.2 502.1 L1519.9 503.2 L1521.6 504.3 L1523.2 505.4 L1524.9 506.4 L1526.6 507.5 L1528.3 508.6 L1530.0 509.6 L1531.7 510.7 L1533.4 511.7 L1535.1 512.7 L1536.9 513.7 L1538.6 514.8 L1540.3 515.8 L1542.0 516.8 L1543.8 517.8 L1545.5 518.7 L1547.3 519.7 L1549.0 520.6 L1550.8 521.6 L1552.6 522.5 L1554.4 523.4 L1556.2 524.2 L1558.0 525.0 L1559.8 525.8 L1561.7 526.6 L1563.6 527.3 L1565.4 528.0 L1567.3 528.6 L1569.2 529.3 L1571.1 529.9 L1573.0 530.5 L1574.9 531.2 L1576.8 531.8 L1578.7 532.4 L1580.6 533.0 L1582.5 533.7 L1584.4 534.4 L1586.3 535.0 L1588.2 535.7 L1590.0 536.4 L1591.9 537.1 L1593.8 537.7 L1595.7 538.4 L1597.6 539.1 L1599.5 539.7 L1601.4 540.4 L1603.3 541.0 L1605.2 541.6 L1607.1 542.2 L1609.0 542.8 L1610.9 543.3 L1612.8 543.9 L1614.8 544.4 L1616.7 544.9 L1618.6 545.4 L1620.6 545.9 L1622.5 546.3 L1624.5 546.8 L1626.4 547.3 L1628.4 547.7 L1630.3 548.2 L1632.3 548.6 L1634.2 549.0 L1636.2 549.5 L1638.1 549.9 L1640.1 550.3 L1642.0 550.7 L1644.0 551.1 L1646.0 551.5 L1647.9 551.9 L1649.9 552.2 L1651.9 552.6 L1653.8 552.9 L1655.8 553.3 L1657.8 553.6 L1659.8 553.9 L1661.7 554.2 L1663.7 554.5 L1665.7 554.8 L1667.7 555.1 L1669.7 555.4 L1671.6 555.6 L1673.6 555.9 L1675.6 556.1 L1677.6 556.3 L1679.6 556.5 L1681.6 556.6 L1683.6 556.8 L1685.6 556.9 L1687.6 557.0 L1689.6 557.0 L1691.6 557.0 L1693.6 557.0 L1695.6 557.0 L1697.6 557.0 L1699.6 557.0 L1701.6 557.0 L1703.6 557.0 L1705.6 557.0 L1707.6 557.0 L1709.6 557.1 L1711.6 557.1 L1713.6 557.1 L1715.6 557.2 L1717.6 557.2 L1719.6 557.2 L1721.6 557.2 L1723.6 557.2 L1725.6 557.1 L1727.6 557.0 L1729.6 556.9 L1731.6 556.8 L1733.6 556.7 L1735.5 556.5 L1737.5 556.3 L1739.5 556.2 L1741.5 556.0 L1743.5 555.8 L1745.5 555.6 L1747.5 555.3 L1749.5 555.1 L1751.5 554.9 L1753.4 554.6 L1755.4 554.4 L1757.4 554.2 L1759.4 553.9 L1761.4 553.6 L1763.4 553.4 L1765.3 553.1 L1767.3 552.8 L1769.3 552.5 L1771.3 552.2 L1773.3 551.9 L1775.2 551.5 L1777.2 551.2 L1779.2 550.9 L1781.2 550.6 L1783.1 550.3 L1785.1 550.0 L1787.1 549.7 L1789.1 549.4 L1791.0 549.1 L1793.0 548.9 L1795.0 548.6 L1797.0 548.3 L1799.0 548.1 L1801.0 547.8 L1802.9 547.5 L1804.9 547.2 L1806.9 546.9 L1808.9 546.6 L1810.8 546.2 L1812.8 545.9 L1814.8 545.5 L1816.7 545.1 L1818.7 544.6 L1820.6 544.2 L1822.6 543.7 L1824.5 543.2 L1826.4 542.8 L1828.4 542.3 L1830.3 541.8 L1832.3 541.2 L1834.2 540.7 L1836.1 540.2 L1838.1 539.7 L1840.0 539.2 L1841.9 538.7 L1843.9 538.2 L1845.8 537.7 L1847.7 537.3 L1849.7 536.8 L1851.6 536.3 L1853.6 535.8 L1855.5 535.3 L1857.4 534.8 L1859.4 534.3 L1861.3 533.8 L1863.3 533.3 L1865.2 532.8 L1867.1 532.3 L1869.1 531.9 L1871.0 531.4 L1873.0 530.9 L1874.9 530.4 L1876.8 529.9 L1878.8 529.5 L1880.7 529.0 L1882.7 528.5 L1884.6 528.1 L1886.6 527.6 L1888.5 527.1 L1890.4 526.6 L1892.4 526.2 L1894.3 525.7 L1896.3 525.2 L1898.2 524.7 L1900.1 524.1 L1902.0 523.6 L1904.0 523.0 L1905.9 522.5 L1907.8 521.9 L1909.7 521.3 L1911.6 520.8 L1913.6 520.2 L1915.5 519.6 L1917.4 519.0 L1919.3 518.4 L1921.2 517.8 L1923.1 517.2 L1924.7 516.7 L1926.0 516.3 L1927.0 516.0" stroke="#000080"/>
</g>
<g font-size="64" text-anchor="end">
<text x="297.8" y="1378.2">0</text>
<text x="297.8" y="1249.0">10</text>
<text x="297.8" y="1119.9">20</text>
<text x="297.8" y="990.7">30</text>
<text x="297.8" y="861.6">40</text>
<text x="297.8" y="732.4">50</text>
<text x="297.8" y="603.2">60</text>
<text x="297.8" y="474.1">70</text>
<text x="297.8" y="344.9">80</text>
<text x="297.8" y="215.8">90</text>
<text x="297.8" y="86.6">100</text>
</g>
<g font-size="64" text-anchor="middle">
<text x="432.9" y="1451">300</text>
<text x="619.6" y="1451">350</text>
<text x="806.4" y="1451">400</text>
<text x="993.2" y="1451">450</text>
<text x="1179.9" y="1451">500</text>
<text x="1366.7" y="1451">550</text>
<text x="1553.5" y="1451">600</text>
<text x="1740.2" y="1451">650</text>
<text x="1927.0" y="1451">700</text>
</g>
<text x="853" y="1571.3" font-size="77">Wavelength(nm)</text>
<text transform="translate(100.4 1039.7) rotate(-90)" font-size="77">Transmittance(%)</text>
<path d="M1155.5 679.2 H1291" stroke="#000" stroke-width="5.0" fill="none"/>
<text x="1307.2" y="699.4" font-size="64.3">B270</text>
<path d="M1155.5 759.0 H1291" stroke="#f00" stroke-width="5.0" fill="none"/>
<text x="1307.2" y="779.1" font-size="64.3">TiO<tspan font-size="37.5">2</tspan></text>
<path d="M1155.5 838.7 H1291" stroke="#00f" stroke-width="5.0" fill="none"/>
<text x="1307.2" y="858.8" font-size="64.3">TiON-n150</text>
<path d="M1155.5 918.5 H1291" stroke="#008080" stroke-width="5.0" fill="none"/>
<text x="1307.2" y="938.5" font-size="64.3">TiON-n220</text>
<path d="M1155.5 998.2 H1291" stroke="#f0f" stroke-width="5.0" fill="none"/>
<text x="1307.2" y="1018.2" font-size="64.3">TiON-n300</text>
<path d="M1155.5 1078.0 H1291" stroke="#808000" stroke-width="5.0" fill="none"/>
<text x="1307.2" y="1097.9" font-size="64.3">TiON-n440</text>
<path d="M1155.5 1157.7 H1291" stroke="#000080" stroke-width="5.0" fill="none"/>
<text x="1307.2" y="1177.6" font-size="64.3">TiON-n600</text>
</svg></body></html>
